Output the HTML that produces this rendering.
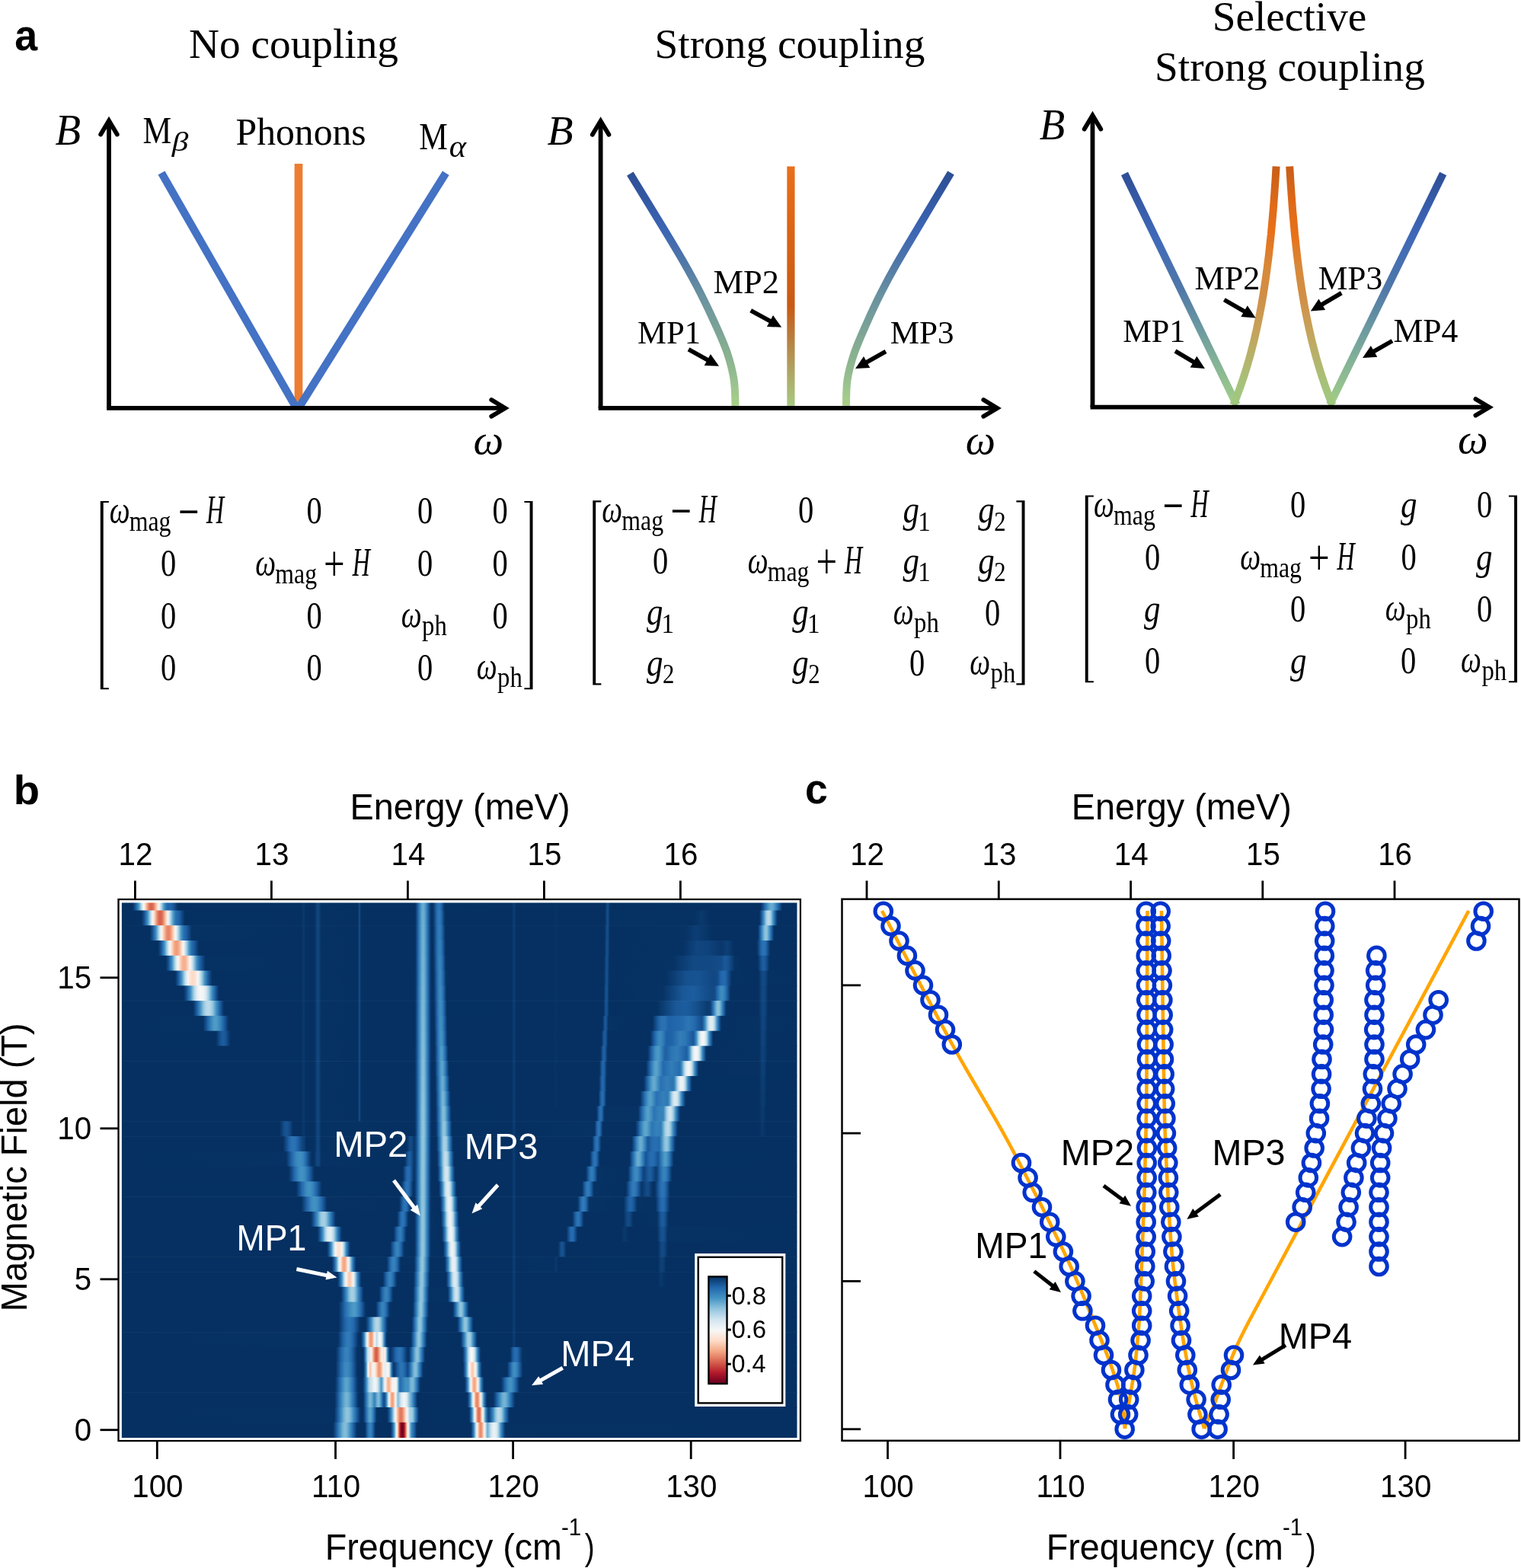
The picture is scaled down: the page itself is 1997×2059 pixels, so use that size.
<!DOCTYPE html>
<html><head><meta charset="utf-8"><title>Figure</title><style>html,body{margin:0;padding:0;background:#fff}svg{display:block}</style></head><body>
<svg xmlns="http://www.w3.org/2000/svg" width="1997" height="2059" viewBox="0 0 1997 2059">
<defs><linearGradient id="gA2L" gradientUnits="userSpaceOnUse" x1="0" y1="228" x2="0" y2="531"><stop offset="0.000" stop-color="#2D4F94"/><stop offset="0.238" stop-color="#3B64B4"/><stop offset="0.389" stop-color="#5078A8"/><stop offset="0.518" stop-color="#6890A0"/><stop offset="0.650" stop-color="#78A098"/><stop offset="0.779" stop-color="#88B090"/><stop offset="0.898" stop-color="#98C090"/><stop offset="1.000" stop-color="#A8D088"/></linearGradient><linearGradient id="gA2O" gradientUnits="userSpaceOnUse" x1="0" y1="219" x2="0" y2="531"><stop offset="0.000" stop-color="#E8701A"/><stop offset="0.260" stop-color="#DC6414"/><stop offset="0.587" stop-color="#C85A14"/><stop offset="0.728" stop-color="#B88040"/><stop offset="0.843" stop-color="#B0A060"/><stop offset="1.000" stop-color="#A8C880"/></linearGradient><linearGradient id="gA3V" gradientUnits="userSpaceOnUse" x1="0" y1="228" x2="0" y2="528"><stop offset="0.000" stop-color="#2F4F98"/><stop offset="0.273" stop-color="#3F68B8"/><stop offset="0.507" stop-color="#5078A8"/><stop offset="0.673" stop-color="#6A98A0"/><stop offset="0.807" stop-color="#80B098"/><stop offset="1.000" stop-color="#A0CC88"/></linearGradient><linearGradient id="gA3O" gradientUnits="userSpaceOnUse" x1="0" y1="218" x2="0" y2="528"><stop offset="0.000" stop-color="#C85E18"/><stop offset="0.168" stop-color="#E06A18"/><stop offset="0.284" stop-color="#E87018"/><stop offset="0.426" stop-color="#D88838"/><stop offset="0.568" stop-color="#D09048"/><stop offset="0.681" stop-color="#C8A058"/><stop offset="0.794" stop-color="#B8B068"/><stop offset="0.906" stop-color="#A8C078"/><stop offset="1.000" stop-color="#A0C880"/></linearGradient><linearGradient id="h0" gradientUnits="userSpaceOnUse" x1="159.7" y1="0" x2="1046.6" y2="0"><stop offset="0.0000" stop-color="#053061"/><stop offset="0.0158" stop-color="#053061"/><stop offset="0.0180" stop-color="#0d3e75"/><stop offset="0.0214" stop-color="#1f62a6"/><stop offset="0.0248" stop-color="#3e8dc0"/><stop offset="0.0259" stop-color="#569fca"/><stop offset="0.0282" stop-color="#98c8e0"/><stop offset="0.0304" stop-color="#d2e6f0"/><stop offset="0.0327" stop-color="#f7f7f6"/><stop offset="0.0350" stop-color="#fddcc9"/><stop offset="0.0372" stop-color="#f6af8f"/><stop offset="0.0395" stop-color="#e68569"/><stop offset="0.0417" stop-color="#da6853"/><stop offset="0.0440" stop-color="#d6604d"/><stop offset="0.0462" stop-color="#db6c57"/><stop offset="0.0485" stop-color="#e98c6f"/><stop offset="0.0496" stop-color="#f3a380"/><stop offset="0.0530" stop-color="#fce0d0"/><stop offset="0.0541" stop-color="#f9ede7"/><stop offset="0.0552" stop-color="#f2f5f6"/><stop offset="0.0575" stop-color="#cde3ef"/><stop offset="0.0598" stop-color="#96c7df"/><stop offset="0.0620" stop-color="#5ba2cb"/><stop offset="0.0631" stop-color="#4292c2"/><stop offset="0.0665" stop-color="#276fb0"/><stop offset="0.0677" stop-color="#2166ac"/><stop offset="0.0733" stop-color="#2064aa"/><stop offset="0.0778" stop-color="#16518e"/><stop offset="0.0834" stop-color="#053061"/><stop offset="0.2661" stop-color="#053061"/><stop offset="0.2695" stop-color="#0a396d"/><stop offset="0.2729" stop-color="#053061"/><stop offset="0.2853" stop-color="#053061"/><stop offset="0.2898" stop-color="#10467f"/><stop offset="0.2920" stop-color="#10447d"/><stop offset="0.2954" stop-color="#063263"/><stop offset="0.3495" stop-color="#053061"/><stop offset="0.3518" stop-color="#134a85"/><stop offset="0.3529" stop-color="#114780"/><stop offset="0.3540" stop-color="#083568"/><stop offset="0.3552" stop-color="#053061"/><stop offset="0.4341" stop-color="#053061"/><stop offset="0.4352" stop-color="#083669"/><stop offset="0.4386" stop-color="#1f62a6"/><stop offset="0.4420" stop-color="#3f8ec0"/><stop offset="0.4442" stop-color="#60a5cd"/><stop offset="0.4454" stop-color="#69abd0"/><stop offset="0.4465" stop-color="#6cadd1"/><stop offset="0.4476" stop-color="#66a9cf"/><stop offset="0.4499" stop-color="#4896c5"/><stop offset="0.4533" stop-color="#256caf"/><stop offset="0.4566" stop-color="#0d4077"/><stop offset="0.4578" stop-color="#083568"/><stop offset="0.4589" stop-color="#053061"/><stop offset="0.4600" stop-color="#053061"/><stop offset="0.4623" stop-color="#0d4077"/><stop offset="0.4657" stop-color="#2064a9"/><stop offset="0.4690" stop-color="#2d76b4"/><stop offset="0.4713" stop-color="#2a72b2"/><stop offset="0.4736" stop-color="#1f62a7"/><stop offset="0.4781" stop-color="#063263"/><stop offset="0.5773" stop-color="#053061"/><stop offset="0.5807" stop-color="#0c3e74"/><stop offset="0.5818" stop-color="#0b3b70"/><stop offset="0.5841" stop-color="#053061"/><stop offset="0.6404" stop-color="#053061"/><stop offset="0.6416" stop-color="#073467"/><stop offset="0.6461" stop-color="#053061"/><stop offset="0.7160" stop-color="#053061"/><stop offset="0.7182" stop-color="#114781"/><stop offset="0.7194" stop-color="#134b87"/><stop offset="0.7205" stop-color="#124984"/><stop offset="0.7227" stop-color="#073467"/><stop offset="0.7250" stop-color="#053061"/><stop offset="0.9460" stop-color="#053061"/><stop offset="0.9494" stop-color="#134a86"/><stop offset="0.9516" stop-color="#1f62a6"/><stop offset="0.9561" stop-color="#3e8dc0"/><stop offset="0.9595" stop-color="#60a5cd"/><stop offset="0.9618" stop-color="#6aacd0"/><stop offset="0.9640" stop-color="#65a8cf"/><stop offset="0.9674" stop-color="#4392c3"/><stop offset="0.9719" stop-color="#2369ae"/><stop offset="0.9776" stop-color="#073466"/><stop offset="0.9798" stop-color="#053061"/><stop offset="1.0001" stop-color="#053061"/></linearGradient><linearGradient id="h1" gradientUnits="userSpaceOnUse" x1="159.7" y1="0" x2="1046.6" y2="0"><stop offset="0.0000" stop-color="#053061"/><stop offset="0.0293" stop-color="#053061"/><stop offset="0.0327" stop-color="#124a85"/><stop offset="0.0350" stop-color="#1f63a8"/><stop offset="0.0383" stop-color="#408fc1"/><stop offset="0.0395" stop-color="#5aa1cb"/><stop offset="0.0417" stop-color="#9bcae1"/><stop offset="0.0440" stop-color="#d4e7f1"/><stop offset="0.0462" stop-color="#f7f5f4"/><stop offset="0.0485" stop-color="#fddac6"/><stop offset="0.0507" stop-color="#f5ad8d"/><stop offset="0.0530" stop-color="#e58368"/><stop offset="0.0552" stop-color="#d96753"/><stop offset="0.0575" stop-color="#d6604d"/><stop offset="0.0598" stop-color="#dc6d57"/><stop offset="0.0620" stop-color="#ea8e70"/><stop offset="0.0631" stop-color="#f4a481"/><stop offset="0.0665" stop-color="#fce1d1"/><stop offset="0.0677" stop-color="#f9eee7"/><stop offset="0.0688" stop-color="#f2f5f6"/><stop offset="0.0710" stop-color="#cee3ef"/><stop offset="0.0744" stop-color="#7cb7d6"/><stop offset="0.0767" stop-color="#4695c4"/><stop offset="0.0801" stop-color="#2971b1"/><stop offset="0.0846" stop-color="#2064aa"/><stop offset="0.0913" stop-color="#0c3e74"/><stop offset="0.0936" stop-color="#053162"/><stop offset="0.2661" stop-color="#053061"/><stop offset="0.2695" stop-color="#0a396d"/><stop offset="0.2729" stop-color="#053061"/><stop offset="0.2853" stop-color="#053061"/><stop offset="0.2898" stop-color="#10467f"/><stop offset="0.2920" stop-color="#10447d"/><stop offset="0.2954" stop-color="#063263"/><stop offset="0.3495" stop-color="#053061"/><stop offset="0.3518" stop-color="#134a85"/><stop offset="0.3529" stop-color="#114780"/><stop offset="0.3540" stop-color="#083568"/><stop offset="0.3552" stop-color="#053061"/><stop offset="0.4341" stop-color="#053061"/><stop offset="0.4352" stop-color="#08366a"/><stop offset="0.4386" stop-color="#1f63a7"/><stop offset="0.4420" stop-color="#408fc1"/><stop offset="0.4442" stop-color="#62a7ce"/><stop offset="0.4454" stop-color="#6cadd1"/><stop offset="0.4465" stop-color="#6eaed2"/><stop offset="0.4476" stop-color="#69abd0"/><stop offset="0.4488" stop-color="#5ca3cc"/><stop offset="0.4510" stop-color="#3c8abe"/><stop offset="0.4533" stop-color="#266caf"/><stop offset="0.4566" stop-color="#0d4077"/><stop offset="0.4578" stop-color="#083568"/><stop offset="0.4589" stop-color="#053061"/><stop offset="0.4612" stop-color="#073467"/><stop offset="0.4657" stop-color="#1f63a7"/><stop offset="0.4679" stop-color="#2c74b3"/><stop offset="0.4702" stop-color="#307ab6"/><stop offset="0.4724" stop-color="#2971b2"/><stop offset="0.4736" stop-color="#2368ad"/><stop offset="0.4781" stop-color="#083669"/><stop offset="0.4792" stop-color="#053061"/><stop offset="0.5773" stop-color="#053061"/><stop offset="0.5807" stop-color="#0c3e74"/><stop offset="0.5818" stop-color="#0b3b70"/><stop offset="0.5841" stop-color="#053061"/><stop offset="0.6404" stop-color="#053061"/><stop offset="0.6416" stop-color="#073467"/><stop offset="0.6461" stop-color="#053061"/><stop offset="0.7148" stop-color="#053061"/><stop offset="0.7160" stop-color="#073467"/><stop offset="0.7182" stop-color="#124a85"/><stop offset="0.7194" stop-color="#144d89"/><stop offset="0.7205" stop-color="#124883"/><stop offset="0.7227" stop-color="#063263"/><stop offset="0.8468" stop-color="#063163"/><stop offset="0.8580" stop-color="#0a396d"/><stop offset="0.8716" stop-color="#053061"/><stop offset="0.9437" stop-color="#053061"/><stop offset="0.9449" stop-color="#09386c"/><stop offset="0.9482" stop-color="#2368ad"/><stop offset="0.9505" stop-color="#3f8dc0"/><stop offset="0.9539" stop-color="#97c7df"/><stop offset="0.9561" stop-color="#b6d7e8"/><stop offset="0.9573" stop-color="#bcdaea"/><stop offset="0.9584" stop-color="#bad9e9"/><stop offset="0.9595" stop-color="#b2d5e7"/><stop offset="0.9606" stop-color="#a2cde3"/><stop offset="0.9618" stop-color="#8dc2dc"/><stop offset="0.9640" stop-color="#4d99c6"/><stop offset="0.9652" stop-color="#3985bc"/><stop offset="0.9674" stop-color="#1e61a5"/><stop offset="0.9697" stop-color="#0d4077"/><stop offset="0.9708" stop-color="#073365"/><stop offset="0.9742" stop-color="#053061"/><stop offset="1.0001" stop-color="#053061"/></linearGradient><linearGradient id="h2" gradientUnits="userSpaceOnUse" x1="159.7" y1="0" x2="1046.6" y2="0"><stop offset="0.0000" stop-color="#053061"/><stop offset="0.0417" stop-color="#053061"/><stop offset="0.0451" stop-color="#134b86"/><stop offset="0.0474" stop-color="#2064a9"/><stop offset="0.0507" stop-color="#408ec1"/><stop offset="0.0519" stop-color="#59a1ca"/><stop offset="0.0541" stop-color="#98c8e0"/><stop offset="0.0564" stop-color="#d1e5f0"/><stop offset="0.0586" stop-color="#f4f6f6"/><stop offset="0.0609" stop-color="#fce1d1"/><stop offset="0.0643" stop-color="#f5ac8b"/><stop offset="0.0665" stop-color="#eb8f71"/><stop offset="0.0688" stop-color="#e58267"/><stop offset="0.0710" stop-color="#e8896d"/><stop offset="0.0733" stop-color="#f3a280"/><stop offset="0.0755" stop-color="#f9c3a8"/><stop offset="0.0767" stop-color="#fcd6c1"/><stop offset="0.0789" stop-color="#f9efea"/><stop offset="0.0801" stop-color="#f1f4f6"/><stop offset="0.0823" stop-color="#d0e5f0"/><stop offset="0.0857" stop-color="#82bbd8"/><stop offset="0.0879" stop-color="#4c99c6"/><stop offset="0.0891" stop-color="#3d8bbf"/><stop offset="0.0925" stop-color="#256caf"/><stop offset="0.0947" stop-color="#2166ac"/><stop offset="0.1015" stop-color="#0d3f76"/><stop offset="0.1037" stop-color="#063264"/><stop offset="0.2661" stop-color="#053061"/><stop offset="0.2695" stop-color="#0a396d"/><stop offset="0.2729" stop-color="#053061"/><stop offset="0.2853" stop-color="#053061"/><stop offset="0.2898" stop-color="#10467f"/><stop offset="0.2920" stop-color="#10447d"/><stop offset="0.2954" stop-color="#063263"/><stop offset="0.3495" stop-color="#053061"/><stop offset="0.3518" stop-color="#134a85"/><stop offset="0.3529" stop-color="#114780"/><stop offset="0.3540" stop-color="#083568"/><stop offset="0.3552" stop-color="#053061"/><stop offset="0.4341" stop-color="#053061"/><stop offset="0.4352" stop-color="#08376a"/><stop offset="0.4386" stop-color="#2063a8"/><stop offset="0.4420" stop-color="#4190c2"/><stop offset="0.4442" stop-color="#65a8ce"/><stop offset="0.4454" stop-color="#6eaed2"/><stop offset="0.4465" stop-color="#71b0d3"/><stop offset="0.4476" stop-color="#6badd1"/><stop offset="0.4488" stop-color="#5fa5cc"/><stop offset="0.4510" stop-color="#3d8bbf"/><stop offset="0.4533" stop-color="#266db0"/><stop offset="0.4566" stop-color="#0d4077"/><stop offset="0.4578" stop-color="#083568"/><stop offset="0.4589" stop-color="#053061"/><stop offset="0.4612" stop-color="#063264"/><stop offset="0.4645" stop-color="#185493"/><stop offset="0.4657" stop-color="#1f61a6"/><stop offset="0.4679" stop-color="#2c75b4"/><stop offset="0.4702" stop-color="#327db8"/><stop offset="0.4724" stop-color="#2d76b4"/><stop offset="0.4747" stop-color="#2063a8"/><stop offset="0.4792" stop-color="#053061"/><stop offset="0.5773" stop-color="#053061"/><stop offset="0.5807" stop-color="#0c3e74"/><stop offset="0.5818" stop-color="#0b3b70"/><stop offset="0.5841" stop-color="#053061"/><stop offset="0.6404" stop-color="#053061"/><stop offset="0.6416" stop-color="#073467"/><stop offset="0.6461" stop-color="#053061"/><stop offset="0.7148" stop-color="#053061"/><stop offset="0.7182" stop-color="#144c89"/><stop offset="0.7194" stop-color="#144d8a"/><stop offset="0.7205" stop-color="#114781"/><stop offset="0.7227" stop-color="#053061"/><stop offset="0.8332" stop-color="#063264"/><stop offset="0.8502" stop-color="#0c3d74"/><stop offset="0.8659" stop-color="#083669"/><stop offset="0.8750" stop-color="#053061"/><stop offset="0.9415" stop-color="#053061"/><stop offset="0.9437" stop-color="#124983"/><stop offset="0.9460" stop-color="#256baf"/><stop offset="0.9482" stop-color="#3f8ec0"/><stop offset="0.9505" stop-color="#6fafd2"/><stop offset="0.9516" stop-color="#82bbd9"/><stop offset="0.9528" stop-color="#8ec3dd"/><stop offset="0.9539" stop-color="#92c5de"/><stop offset="0.9550" stop-color="#8dc2dc"/><stop offset="0.9561" stop-color="#7fb9d8"/><stop offset="0.9595" stop-color="#3c8abe"/><stop offset="0.9618" stop-color="#2368ad"/><stop offset="0.9652" stop-color="#09386c"/><stop offset="0.9663" stop-color="#053061"/><stop offset="1.0001" stop-color="#053061"/></linearGradient><linearGradient id="h3" gradientUnits="userSpaceOnUse" x1="159.7" y1="0" x2="1046.6" y2="0"><stop offset="0.0000" stop-color="#053061"/><stop offset="0.0541" stop-color="#053162"/><stop offset="0.0575" stop-color="#134b87"/><stop offset="0.0598" stop-color="#2065aa"/><stop offset="0.0631" stop-color="#408fc1"/><stop offset="0.0643" stop-color="#58a0ca"/><stop offset="0.0665" stop-color="#97c7df"/><stop offset="0.0688" stop-color="#cde3ef"/><stop offset="0.0710" stop-color="#f0f4f6"/><stop offset="0.0722" stop-color="#f8f0eb"/><stop offset="0.0744" stop-color="#fddac6"/><stop offset="0.0767" stop-color="#f7b99b"/><stop offset="0.0789" stop-color="#f3a380"/><stop offset="0.0812" stop-color="#ef9979"/><stop offset="0.0834" stop-color="#f3a280"/><stop offset="0.0857" stop-color="#f7b799"/><stop offset="0.0891" stop-color="#fbe3d4"/><stop offset="0.0913" stop-color="#f5f6f7"/><stop offset="0.0936" stop-color="#d6e7f1"/><stop offset="0.0970" stop-color="#8ec3dd"/><stop offset="0.0992" stop-color="#58a0ca"/><stop offset="0.1003" stop-color="#4191c2"/><stop offset="0.1037" stop-color="#276db0"/><stop offset="0.1071" stop-color="#1c5da0"/><stop offset="0.1139" stop-color="#073466"/><stop offset="0.1161" stop-color="#053061"/><stop offset="0.2661" stop-color="#053061"/><stop offset="0.2695" stop-color="#0a396d"/><stop offset="0.2729" stop-color="#053061"/><stop offset="0.2853" stop-color="#053061"/><stop offset="0.2898" stop-color="#10467f"/><stop offset="0.2920" stop-color="#10447d"/><stop offset="0.2954" stop-color="#063263"/><stop offset="0.3495" stop-color="#053061"/><stop offset="0.3518" stop-color="#134a85"/><stop offset="0.3529" stop-color="#114780"/><stop offset="0.3540" stop-color="#083568"/><stop offset="0.3552" stop-color="#053061"/><stop offset="0.4341" stop-color="#053061"/><stop offset="0.4352" stop-color="#09376b"/><stop offset="0.4386" stop-color="#2064aa"/><stop offset="0.4420" stop-color="#4292c2"/><stop offset="0.4442" stop-color="#67aacf"/><stop offset="0.4454" stop-color="#71b0d3"/><stop offset="0.4465" stop-color="#73b2d3"/><stop offset="0.4476" stop-color="#6eaed2"/><stop offset="0.4488" stop-color="#61a6cd"/><stop offset="0.4510" stop-color="#3e8cbf"/><stop offset="0.4533" stop-color="#276eb0"/><stop offset="0.4544" stop-color="#1d5ea1"/><stop offset="0.4566" stop-color="#0d4078"/><stop offset="0.4578" stop-color="#083568"/><stop offset="0.4589" stop-color="#053061"/><stop offset="0.4612" stop-color="#053061"/><stop offset="0.4645" stop-color="#175290"/><stop offset="0.4657" stop-color="#1e60a3"/><stop offset="0.4668" stop-color="#256caf"/><stop offset="0.4690" stop-color="#327cb7"/><stop offset="0.4713" stop-color="#347fb9"/><stop offset="0.4736" stop-color="#2b74b3"/><stop offset="0.4747" stop-color="#2469ae"/><stop offset="0.4792" stop-color="#073467"/><stop offset="0.4803" stop-color="#053061"/><stop offset="0.5773" stop-color="#053061"/><stop offset="0.5807" stop-color="#0c3e74"/><stop offset="0.5818" stop-color="#0b3b70"/><stop offset="0.5841" stop-color="#053061"/><stop offset="0.6404" stop-color="#053061"/><stop offset="0.6416" stop-color="#073467"/><stop offset="0.6461" stop-color="#053061"/><stop offset="0.7148" stop-color="#053061"/><stop offset="0.7171" stop-color="#124883"/><stop offset="0.7182" stop-color="#154f8c"/><stop offset="0.7194" stop-color="#144e8a"/><stop offset="0.7205" stop-color="#10467f"/><stop offset="0.7227" stop-color="#053061"/><stop offset="0.8299" stop-color="#063264"/><stop offset="0.8513" stop-color="#10457f"/><stop offset="0.8671" stop-color="#0f437c"/><stop offset="0.8885" stop-color="#09376b"/><stop offset="0.8964" stop-color="#0d4077"/><stop offset="0.9031" stop-color="#083669"/><stop offset="0.9065" stop-color="#053061"/><stop offset="0.9404" stop-color="#053061"/><stop offset="0.9437" stop-color="#144d89"/><stop offset="0.9460" stop-color="#1f62a7"/><stop offset="0.9482" stop-color="#2970b1"/><stop offset="0.9516" stop-color="#2b73b3"/><stop offset="0.9539" stop-color="#2369ae"/><stop offset="0.9561" stop-color="#185595"/><stop offset="0.9595" stop-color="#083669"/><stop offset="0.9606" stop-color="#053061"/><stop offset="1.0001" stop-color="#053061"/></linearGradient><linearGradient id="h4" gradientUnits="userSpaceOnUse" x1="159.7" y1="0" x2="1046.6" y2="0"><stop offset="0.0000" stop-color="#053061"/><stop offset="0.0654" stop-color="#053162"/><stop offset="0.0688" stop-color="#134b87"/><stop offset="0.0710" stop-color="#2064a9"/><stop offset="0.0744" stop-color="#3e8dc0"/><stop offset="0.0755" stop-color="#549ec9"/><stop offset="0.0778" stop-color="#92c5de"/><stop offset="0.0801" stop-color="#c6e0ed"/><stop offset="0.0823" stop-color="#ebf1f5"/><stop offset="0.0834" stop-color="#f7f5f3"/><stop offset="0.0868" stop-color="#fcd5bf"/><stop offset="0.0891" stop-color="#f8bc9f"/><stop offset="0.0913" stop-color="#f6af8e"/><stop offset="0.0936" stop-color="#f6b090"/><stop offset="0.0958" stop-color="#f8bea2"/><stop offset="0.0992" stop-color="#fbe2d3"/><stop offset="0.1015" stop-color="#f7f6f5"/><stop offset="0.1049" stop-color="#cae1ee"/><stop offset="0.1082" stop-color="#80bad8"/><stop offset="0.1105" stop-color="#4c98c6"/><stop offset="0.1128" stop-color="#337eb8"/><stop offset="0.1150" stop-color="#2268ad"/><stop offset="0.1240" stop-color="#063163"/><stop offset="0.2661" stop-color="#053061"/><stop offset="0.2695" stop-color="#0a396d"/><stop offset="0.2729" stop-color="#053061"/><stop offset="0.2853" stop-color="#053061"/><stop offset="0.2898" stop-color="#10467f"/><stop offset="0.2920" stop-color="#10447d"/><stop offset="0.2954" stop-color="#063263"/><stop offset="0.3495" stop-color="#053061"/><stop offset="0.3518" stop-color="#134a85"/><stop offset="0.3529" stop-color="#114780"/><stop offset="0.3540" stop-color="#083568"/><stop offset="0.3552" stop-color="#053061"/><stop offset="0.4341" stop-color="#053061"/><stop offset="0.4352" stop-color="#09376b"/><stop offset="0.4386" stop-color="#2165ab"/><stop offset="0.4420" stop-color="#4393c3"/><stop offset="0.4442" stop-color="#69abd0"/><stop offset="0.4454" stop-color="#73b2d4"/><stop offset="0.4465" stop-color="#76b3d4"/><stop offset="0.4476" stop-color="#70b0d2"/><stop offset="0.4488" stop-color="#63a8ce"/><stop offset="0.4510" stop-color="#3f8dc0"/><stop offset="0.4533" stop-color="#286fb0"/><stop offset="0.4544" stop-color="#1d5fa2"/><stop offset="0.4566" stop-color="#0e4178"/><stop offset="0.4578" stop-color="#083568"/><stop offset="0.4589" stop-color="#053061"/><stop offset="0.4612" stop-color="#053061"/><stop offset="0.4623" stop-color="#09376a"/><stop offset="0.4668" stop-color="#256bae"/><stop offset="0.4690" stop-color="#337db8"/><stop offset="0.4713" stop-color="#3783bb"/><stop offset="0.4736" stop-color="#2f79b6"/><stop offset="0.4758" stop-color="#2063a8"/><stop offset="0.4792" stop-color="#0a396e"/><stop offset="0.4803" stop-color="#053061"/><stop offset="0.5773" stop-color="#053061"/><stop offset="0.5807" stop-color="#0c3e74"/><stop offset="0.5818" stop-color="#0b3b70"/><stop offset="0.5841" stop-color="#053061"/><stop offset="0.6404" stop-color="#053061"/><stop offset="0.6416" stop-color="#073467"/><stop offset="0.6461" stop-color="#053061"/><stop offset="0.7137" stop-color="#053061"/><stop offset="0.7148" stop-color="#073466"/><stop offset="0.7171" stop-color="#134c88"/><stop offset="0.7182" stop-color="#16508e"/><stop offset="0.7194" stop-color="#144d8a"/><stop offset="0.7216" stop-color="#08366a"/><stop offset="0.7227" stop-color="#053061"/><stop offset="0.8152" stop-color="#063264"/><stop offset="0.8468" stop-color="#124984"/><stop offset="0.8704" stop-color="#124983"/><stop offset="0.8874" stop-color="#144c88"/><stop offset="0.8930" stop-color="#1a5899"/><stop offset="0.8975" stop-color="#185494"/><stop offset="0.9077" stop-color="#063365"/><stop offset="0.9178" stop-color="#053061"/><stop offset="0.9415" stop-color="#053061"/><stop offset="0.9471" stop-color="#185595"/><stop offset="0.9494" stop-color="#1d5da0"/><stop offset="0.9516" stop-color="#1c5d9f"/><stop offset="0.9550" stop-color="#144c88"/><stop offset="0.9584" stop-color="#073467"/><stop offset="0.9606" stop-color="#053061"/><stop offset="1.0001" stop-color="#053061"/></linearGradient><linearGradient id="h5" gradientUnits="userSpaceOnUse" x1="159.7" y1="0" x2="1046.6" y2="0"><stop offset="0.0000" stop-color="#053061"/><stop offset="0.0789" stop-color="#053061"/><stop offset="0.0823" stop-color="#124984"/><stop offset="0.0846" stop-color="#1e61a5"/><stop offset="0.0879" stop-color="#3a87bd"/><stop offset="0.0891" stop-color="#4996c5"/><stop offset="0.0925" stop-color="#9bcae1"/><stop offset="0.0947" stop-color="#cbe2ee"/><stop offset="0.0981" stop-color="#f5f6f7"/><stop offset="0.1026" stop-color="#fcdfce"/><stop offset="0.1060" stop-color="#fddac6"/><stop offset="0.1094" stop-color="#fbe4d6"/><stop offset="0.1128" stop-color="#f6f6f7"/><stop offset="0.1161" stop-color="#d1e5f0"/><stop offset="0.1195" stop-color="#90c4dd"/><stop offset="0.1229" stop-color="#4494c3"/><stop offset="0.1274" stop-color="#1f63a8"/><stop offset="0.1297" stop-color="#154e8b"/><stop offset="0.1342" stop-color="#053162"/><stop offset="0.2661" stop-color="#053061"/><stop offset="0.2695" stop-color="#0a396d"/><stop offset="0.2729" stop-color="#053061"/><stop offset="0.2853" stop-color="#053061"/><stop offset="0.2898" stop-color="#10467f"/><stop offset="0.2920" stop-color="#10447d"/><stop offset="0.2954" stop-color="#063263"/><stop offset="0.3495" stop-color="#053061"/><stop offset="0.3518" stop-color="#134a85"/><stop offset="0.3529" stop-color="#114780"/><stop offset="0.3540" stop-color="#083568"/><stop offset="0.3552" stop-color="#053061"/><stop offset="0.4341" stop-color="#053061"/><stop offset="0.4352" stop-color="#09386c"/><stop offset="0.4375" stop-color="#185594"/><stop offset="0.4386" stop-color="#2166ac"/><stop offset="0.4420" stop-color="#4494c4"/><stop offset="0.4442" stop-color="#6cadd1"/><stop offset="0.4454" stop-color="#76b3d4"/><stop offset="0.4465" stop-color="#78b5d5"/><stop offset="0.4476" stop-color="#73b1d3"/><stop offset="0.4488" stop-color="#66a9cf"/><stop offset="0.4510" stop-color="#3f8ec1"/><stop offset="0.4533" stop-color="#286fb1"/><stop offset="0.4544" stop-color="#1e5fa3"/><stop offset="0.4566" stop-color="#0e4178"/><stop offset="0.4578" stop-color="#083569"/><stop offset="0.4589" stop-color="#053061"/><stop offset="0.4612" stop-color="#053061"/><stop offset="0.4623" stop-color="#073467"/><stop offset="0.4668" stop-color="#2469ae"/><stop offset="0.4702" stop-color="#3884bb"/><stop offset="0.4724" stop-color="#3884bc"/><stop offset="0.4758" stop-color="#246aae"/><stop offset="0.4803" stop-color="#063365"/><stop offset="0.4871" stop-color="#053061"/><stop offset="0.5773" stop-color="#053061"/><stop offset="0.5807" stop-color="#0c3e74"/><stop offset="0.5818" stop-color="#0b3b70"/><stop offset="0.5841" stop-color="#053061"/><stop offset="0.6404" stop-color="#053061"/><stop offset="0.6416" stop-color="#073467"/><stop offset="0.6461" stop-color="#053061"/><stop offset="0.7137" stop-color="#053061"/><stop offset="0.7148" stop-color="#09386c"/><stop offset="0.7171" stop-color="#154f8c"/><stop offset="0.7182" stop-color="#165290"/><stop offset="0.7194" stop-color="#144c88"/><stop offset="0.7216" stop-color="#073366"/><stop offset="0.7239" stop-color="#053061"/><stop offset="0.8051" stop-color="#063163"/><stop offset="0.8355" stop-color="#16508d"/><stop offset="0.8535" stop-color="#175392"/><stop offset="0.8772" stop-color="#114782"/><stop offset="0.8817" stop-color="#134a86"/><stop offset="0.8874" stop-color="#2166ac"/><stop offset="0.8919" stop-color="#256baf"/><stop offset="0.8941" stop-color="#2166ac"/><stop offset="0.9009" stop-color="#0d3f75"/><stop offset="0.9031" stop-color="#063263"/><stop offset="0.9426" stop-color="#053061"/><stop offset="0.9482" stop-color="#124883"/><stop offset="0.9516" stop-color="#134a85"/><stop offset="0.9561" stop-color="#09386c"/><stop offset="0.9573" stop-color="#063163"/><stop offset="1.0001" stop-color="#053061"/></linearGradient><linearGradient id="h6" gradientUnits="userSpaceOnUse" x1="159.7" y1="0" x2="1046.6" y2="0"><stop offset="0.0000" stop-color="#053061"/><stop offset="0.0913" stop-color="#053061"/><stop offset="0.0936" stop-color="#0b3c71"/><stop offset="0.0970" stop-color="#1a599a"/><stop offset="0.0981" stop-color="#2165ab"/><stop offset="0.1015" stop-color="#3c89be"/><stop offset="0.1026" stop-color="#4997c5"/><stop offset="0.1060" stop-color="#94c6df"/><stop offset="0.1094" stop-color="#cde3ef"/><stop offset="0.1128" stop-color="#eaf1f5"/><stop offset="0.1161" stop-color="#f7f7f6"/><stop offset="0.1206" stop-color="#f2f5f6"/><stop offset="0.1252" stop-color="#d5e7f1"/><stop offset="0.1285" stop-color="#a4cee3"/><stop offset="0.1308" stop-color="#79b5d6"/><stop offset="0.1330" stop-color="#4b98c6"/><stop offset="0.1353" stop-color="#347fb9"/><stop offset="0.1376" stop-color="#2368ad"/><stop offset="0.1421" stop-color="#0c3e75"/><stop offset="0.1443" stop-color="#053061"/><stop offset="0.2661" stop-color="#053061"/><stop offset="0.2695" stop-color="#0a396d"/><stop offset="0.2729" stop-color="#053061"/><stop offset="0.2853" stop-color="#053061"/><stop offset="0.2898" stop-color="#10467f"/><stop offset="0.2920" stop-color="#10447d"/><stop offset="0.2954" stop-color="#063263"/><stop offset="0.3495" stop-color="#053061"/><stop offset="0.3518" stop-color="#134a85"/><stop offset="0.3529" stop-color="#114780"/><stop offset="0.3540" stop-color="#083568"/><stop offset="0.3552" stop-color="#053061"/><stop offset="0.4341" stop-color="#053061"/><stop offset="0.4352" stop-color="#09386c"/><stop offset="0.4386" stop-color="#2267ac"/><stop offset="0.4420" stop-color="#4795c4"/><stop offset="0.4442" stop-color="#6eaed2"/><stop offset="0.4454" stop-color="#78b5d5"/><stop offset="0.4465" stop-color="#7bb6d6"/><stop offset="0.4476" stop-color="#75b3d4"/><stop offset="0.4488" stop-color="#68abd0"/><stop offset="0.4510" stop-color="#408fc1"/><stop offset="0.4533" stop-color="#2970b1"/><stop offset="0.4544" stop-color="#1e60a4"/><stop offset="0.4566" stop-color="#0e4179"/><stop offset="0.4578" stop-color="#083569"/><stop offset="0.4589" stop-color="#053061"/><stop offset="0.4623" stop-color="#063264"/><stop offset="0.4657" stop-color="#1a5999"/><stop offset="0.4668" stop-color="#2268ad"/><stop offset="0.4702" stop-color="#3986bc"/><stop offset="0.4724" stop-color="#3b89be"/><stop offset="0.4747" stop-color="#317bb7"/><stop offset="0.4769" stop-color="#1f63a8"/><stop offset="0.4803" stop-color="#09376b"/><stop offset="0.4815" stop-color="#053061"/><stop offset="0.5773" stop-color="#053061"/><stop offset="0.5807" stop-color="#0c3e74"/><stop offset="0.5818" stop-color="#0b3b70"/><stop offset="0.5841" stop-color="#053061"/><stop offset="0.6404" stop-color="#053061"/><stop offset="0.6416" stop-color="#073467"/><stop offset="0.6461" stop-color="#053061"/><stop offset="0.7137" stop-color="#053061"/><stop offset="0.7160" stop-color="#124984"/><stop offset="0.7171" stop-color="#165290"/><stop offset="0.7182" stop-color="#175290"/><stop offset="0.7194" stop-color="#134b86"/><stop offset="0.7216" stop-color="#053061"/><stop offset="0.8005" stop-color="#063264"/><stop offset="0.8310" stop-color="#1a5898"/><stop offset="0.8468" stop-color="#1c5d9f"/><stop offset="0.8648" stop-color="#154f8d"/><stop offset="0.8750" stop-color="#124983"/><stop offset="0.8783" stop-color="#134c88"/><stop offset="0.8817" stop-color="#2368ad"/><stop offset="0.8862" stop-color="#3a88bd"/><stop offset="0.8896" stop-color="#3e8cbf"/><stop offset="0.8930" stop-color="#317cb7"/><stop offset="0.8953" stop-color="#2469ae"/><stop offset="0.9009" stop-color="#073467"/><stop offset="0.9031" stop-color="#053061"/><stop offset="0.9426" stop-color="#053061"/><stop offset="0.9482" stop-color="#114781"/><stop offset="0.9516" stop-color="#114882"/><stop offset="0.9561" stop-color="#083568"/><stop offset="0.9573" stop-color="#053061"/><stop offset="1.0001" stop-color="#053061"/></linearGradient><linearGradient id="h7" gradientUnits="userSpaceOnUse" x1="159.7" y1="0" x2="1046.6" y2="0"><stop offset="0.0000" stop-color="#053061"/><stop offset="0.1049" stop-color="#053061"/><stop offset="0.1060" stop-color="#063365"/><stop offset="0.1105" stop-color="#195696"/><stop offset="0.1116" stop-color="#1f61a6"/><stop offset="0.1161" stop-color="#3f8ec0"/><stop offset="0.1218" stop-color="#98c8e0"/><stop offset="0.1252" stop-color="#b6d7e8"/><stop offset="0.1285" stop-color="#bddbea"/><stop offset="0.1319" stop-color="#afd4e6"/><stop offset="0.1353" stop-color="#8ec2dd"/><stop offset="0.1398" stop-color="#4695c4"/><stop offset="0.1443" stop-color="#256baf"/><stop offset="0.1466" stop-color="#195696"/><stop offset="0.1511" stop-color="#073366"/><stop offset="0.1533" stop-color="#053061"/><stop offset="0.2661" stop-color="#053061"/><stop offset="0.2695" stop-color="#0a396d"/><stop offset="0.2729" stop-color="#053061"/><stop offset="0.2853" stop-color="#053061"/><stop offset="0.2898" stop-color="#10467f"/><stop offset="0.2920" stop-color="#10447d"/><stop offset="0.2954" stop-color="#063263"/><stop offset="0.3495" stop-color="#053061"/><stop offset="0.3518" stop-color="#134a85"/><stop offset="0.3529" stop-color="#114780"/><stop offset="0.3540" stop-color="#083568"/><stop offset="0.3552" stop-color="#053061"/><stop offset="0.4341" stop-color="#053061"/><stop offset="0.4352" stop-color="#09396d"/><stop offset="0.4386" stop-color="#2267ad"/><stop offset="0.4420" stop-color="#4997c5"/><stop offset="0.4442" stop-color="#71b0d3"/><stop offset="0.4454" stop-color="#7bb6d6"/><stop offset="0.4465" stop-color="#7db8d7"/><stop offset="0.4476" stop-color="#78b4d5"/><stop offset="0.4488" stop-color="#6aacd0"/><stop offset="0.4510" stop-color="#4190c2"/><stop offset="0.4533" stop-color="#2971b2"/><stop offset="0.4544" stop-color="#1e61a5"/><stop offset="0.4566" stop-color="#0e4179"/><stop offset="0.4578" stop-color="#083669"/><stop offset="0.4589" stop-color="#053061"/><stop offset="0.4623" stop-color="#053061"/><stop offset="0.4645" stop-color="#114781"/><stop offset="0.4668" stop-color="#2165ab"/><stop offset="0.4702" stop-color="#3a87bd"/><stop offset="0.4724" stop-color="#3e8cc0"/><stop offset="0.4747" stop-color="#3681ba"/><stop offset="0.4769" stop-color="#246aae"/><stop offset="0.4815" stop-color="#053062"/><stop offset="0.5773" stop-color="#053061"/><stop offset="0.5807" stop-color="#0c3e74"/><stop offset="0.5818" stop-color="#0b3b70"/><stop offset="0.5841" stop-color="#053061"/><stop offset="0.6404" stop-color="#053061"/><stop offset="0.6416" stop-color="#073467"/><stop offset="0.6461" stop-color="#053061"/><stop offset="0.7126" stop-color="#053061"/><stop offset="0.7137" stop-color="#063365"/><stop offset="0.7160" stop-color="#144d8a"/><stop offset="0.7171" stop-color="#175493"/><stop offset="0.7182" stop-color="#175290"/><stop offset="0.7194" stop-color="#124984"/><stop offset="0.7216" stop-color="#053061"/><stop offset="0.7926" stop-color="#053162"/><stop offset="0.8208" stop-color="#1a5898"/><stop offset="0.8355" stop-color="#1c5d9f"/><stop offset="0.8513" stop-color="#15508d"/><stop offset="0.8671" stop-color="#0b3b70"/><stop offset="0.8716" stop-color="#0d3f76"/><stop offset="0.8750" stop-color="#246aae"/><stop offset="0.8772" stop-color="#3c89be"/><stop offset="0.8783" stop-color="#4e9ac7"/><stop offset="0.8806" stop-color="#7bb6d6"/><stop offset="0.8817" stop-color="#88bfdb"/><stop offset="0.8829" stop-color="#8ec3dd"/><stop offset="0.8840" stop-color="#8cc1dc"/><stop offset="0.8851" stop-color="#82bbd8"/><stop offset="0.8874" stop-color="#58a1ca"/><stop offset="0.8885" stop-color="#4090c1"/><stop offset="0.8907" stop-color="#276eb0"/><stop offset="0.8919" stop-color="#1d5da0"/><stop offset="0.8941" stop-color="#0c3e75"/><stop offset="0.8953" stop-color="#063264"/><stop offset="0.9043" stop-color="#053061"/><stop offset="0.9426" stop-color="#053061"/><stop offset="0.9449" stop-color="#09386c"/><stop offset="0.9482" stop-color="#10457f"/><stop offset="0.9516" stop-color="#10467f"/><stop offset="0.9573" stop-color="#053061"/><stop offset="1.0001" stop-color="#053061"/></linearGradient><linearGradient id="h8" gradientUnits="userSpaceOnUse" x1="159.7" y1="0" x2="1046.6" y2="0"><stop offset="0.0000" stop-color="#053061"/><stop offset="0.1206" stop-color="#063263"/><stop offset="0.1263" stop-color="#1b5a9b"/><stop offset="0.1274" stop-color="#2064a9"/><stop offset="0.1342" stop-color="#4190c1"/><stop offset="0.1376" stop-color="#509bc7"/><stop offset="0.1409" stop-color="#4d99c6"/><stop offset="0.1466" stop-color="#3480b9"/><stop offset="0.1511" stop-color="#1f62a7"/><stop offset="0.1579" stop-color="#073466"/><stop offset="0.1601" stop-color="#053061"/><stop offset="0.2661" stop-color="#053061"/><stop offset="0.2695" stop-color="#0a396d"/><stop offset="0.2729" stop-color="#053061"/><stop offset="0.2853" stop-color="#053061"/><stop offset="0.2898" stop-color="#10467f"/><stop offset="0.2920" stop-color="#10447d"/><stop offset="0.2954" stop-color="#063263"/><stop offset="0.3495" stop-color="#053061"/><stop offset="0.3518" stop-color="#134a85"/><stop offset="0.3529" stop-color="#114780"/><stop offset="0.3540" stop-color="#083568"/><stop offset="0.3552" stop-color="#053061"/><stop offset="0.4341" stop-color="#053061"/><stop offset="0.4352" stop-color="#0a396d"/><stop offset="0.4386" stop-color="#2368ad"/><stop offset="0.4420" stop-color="#4b98c6"/><stop offset="0.4442" stop-color="#73b1d3"/><stop offset="0.4454" stop-color="#7eb8d7"/><stop offset="0.4465" stop-color="#80bad8"/><stop offset="0.4476" stop-color="#7ab6d6"/><stop offset="0.4488" stop-color="#6dadd1"/><stop offset="0.4510" stop-color="#4291c2"/><stop offset="0.4544" stop-color="#1f61a6"/><stop offset="0.4566" stop-color="#0e427a"/><stop offset="0.4578" stop-color="#083669"/><stop offset="0.4589" stop-color="#053061"/><stop offset="0.4623" stop-color="#053061"/><stop offset="0.4634" stop-color="#09376b"/><stop offset="0.4668" stop-color="#1f63a7"/><stop offset="0.4702" stop-color="#3a87bd"/><stop offset="0.4724" stop-color="#4190c1"/><stop offset="0.4747" stop-color="#3a87bd"/><stop offset="0.4769" stop-color="#2970b1"/><stop offset="0.4781" stop-color="#1f62a6"/><stop offset="0.4815" stop-color="#083568"/><stop offset="0.4826" stop-color="#053061"/><stop offset="0.5773" stop-color="#053061"/><stop offset="0.5807" stop-color="#0c3e74"/><stop offset="0.5818" stop-color="#0b3b70"/><stop offset="0.5841" stop-color="#053061"/><stop offset="0.6404" stop-color="#053061"/><stop offset="0.6416" stop-color="#073467"/><stop offset="0.6461" stop-color="#053061"/><stop offset="0.7115" stop-color="#053061"/><stop offset="0.7126" stop-color="#09386c"/><stop offset="0.7148" stop-color="#175290"/><stop offset="0.7160" stop-color="#1a5899"/><stop offset="0.7171" stop-color="#195797"/><stop offset="0.7182" stop-color="#144e8a"/><stop offset="0.7205" stop-color="#063264"/><stop offset="0.7498" stop-color="#053061"/><stop offset="0.7859" stop-color="#053162"/><stop offset="0.7949" stop-color="#1f63a8"/><stop offset="0.7994" stop-color="#2a72b2"/><stop offset="0.8051" stop-color="#2970b1"/><stop offset="0.8084" stop-color="#2166ac"/><stop offset="0.8107" stop-color="#1f62a7"/><stop offset="0.8299" stop-color="#256baf"/><stop offset="0.8389" stop-color="#2d76b4"/><stop offset="0.8479" stop-color="#246aae"/><stop offset="0.8524" stop-color="#1d5ea0"/><stop offset="0.8580" stop-color="#16518f"/><stop offset="0.8592" stop-color="#16518f"/><stop offset="0.8614" stop-color="#246aae"/><stop offset="0.8637" stop-color="#3d8bbf"/><stop offset="0.8648" stop-color="#559fc9"/><stop offset="0.8671" stop-color="#99c9e0"/><stop offset="0.8693" stop-color="#cae1ee"/><stop offset="0.8704" stop-color="#d8e8f1"/><stop offset="0.8727" stop-color="#e2edf3"/><stop offset="0.8750" stop-color="#dbeaf2"/><stop offset="0.8761" stop-color="#d1e5f0"/><stop offset="0.8783" stop-color="#a0cce2"/><stop offset="0.8806" stop-color="#5aa1cb"/><stop offset="0.8817" stop-color="#3d8bbf"/><stop offset="0.8840" stop-color="#2165ab"/><stop offset="0.8862" stop-color="#0f437b"/><stop offset="0.8874" stop-color="#083669"/><stop offset="0.8885" stop-color="#053061"/><stop offset="0.9437" stop-color="#063264"/><stop offset="0.9482" stop-color="#0f447d"/><stop offset="0.9516" stop-color="#0f447c"/><stop offset="0.9561" stop-color="#063163"/><stop offset="1.0001" stop-color="#053061"/></linearGradient><linearGradient id="h9" gradientUnits="userSpaceOnUse" x1="159.7" y1="0" x2="1046.6" y2="0"><stop offset="0.0000" stop-color="#053061"/><stop offset="0.1398" stop-color="#053162"/><stop offset="0.1466" stop-color="#185595"/><stop offset="0.1500" stop-color="#1c5d9f"/><stop offset="0.1533" stop-color="#1a5898"/><stop offset="0.1612" stop-color="#053061"/><stop offset="0.2661" stop-color="#053061"/><stop offset="0.2695" stop-color="#0a396d"/><stop offset="0.2729" stop-color="#053061"/><stop offset="0.2853" stop-color="#053061"/><stop offset="0.2898" stop-color="#10467f"/><stop offset="0.2920" stop-color="#10447d"/><stop offset="0.2954" stop-color="#063263"/><stop offset="0.3495" stop-color="#053061"/><stop offset="0.3518" stop-color="#134a85"/><stop offset="0.3529" stop-color="#114780"/><stop offset="0.3540" stop-color="#083568"/><stop offset="0.3552" stop-color="#053061"/><stop offset="0.4341" stop-color="#053061"/><stop offset="0.4352" stop-color="#0a396e"/><stop offset="0.4386" stop-color="#2369ad"/><stop offset="0.4409" stop-color="#3c89be"/><stop offset="0.4420" stop-color="#4d99c6"/><stop offset="0.4442" stop-color="#75b3d4"/><stop offset="0.4454" stop-color="#80bad8"/><stop offset="0.4465" stop-color="#83bbd9"/><stop offset="0.4476" stop-color="#7db8d7"/><stop offset="0.4488" stop-color="#6fafd2"/><stop offset="0.4510" stop-color="#4393c3"/><stop offset="0.4544" stop-color="#1f62a7"/><stop offset="0.4566" stop-color="#0e427a"/><stop offset="0.4578" stop-color="#083669"/><stop offset="0.4589" stop-color="#053061"/><stop offset="0.4623" stop-color="#053061"/><stop offset="0.4634" stop-color="#073467"/><stop offset="0.4657" stop-color="#154f8c"/><stop offset="0.4668" stop-color="#1e5fa3"/><stop offset="0.4679" stop-color="#286fb0"/><stop offset="0.4713" stop-color="#408fc1"/><stop offset="0.4736" stop-color="#4292c2"/><stop offset="0.4758" stop-color="#3783bb"/><stop offset="0.4781" stop-color="#2369ad"/><stop offset="0.4815" stop-color="#0a3a6f"/><stop offset="0.4826" stop-color="#053061"/><stop offset="0.5773" stop-color="#053061"/><stop offset="0.5807" stop-color="#0c3e74"/><stop offset="0.5818" stop-color="#0b3b70"/><stop offset="0.5841" stop-color="#053061"/><stop offset="0.6404" stop-color="#053061"/><stop offset="0.6416" stop-color="#073467"/><stop offset="0.6461" stop-color="#053061"/><stop offset="0.7103" stop-color="#053061"/><stop offset="0.7137" stop-color="#195797"/><stop offset="0.7148" stop-color="#1c5d9f"/><stop offset="0.7160" stop-color="#1b5b9d"/><stop offset="0.7171" stop-color="#175391"/><stop offset="0.7194" stop-color="#09376b"/><stop offset="0.7205" stop-color="#053061"/><stop offset="0.7825" stop-color="#053061"/><stop offset="0.7870" stop-color="#175290"/><stop offset="0.7893" stop-color="#2166ac"/><stop offset="0.7938" stop-color="#3783bb"/><stop offset="0.7972" stop-color="#3c8abe"/><stop offset="0.8017" stop-color="#327cb7"/><stop offset="0.8051" stop-color="#2368ad"/><stop offset="0.8062" stop-color="#1e61a5"/><stop offset="0.8141" stop-color="#1f63a8"/><stop offset="0.8265" stop-color="#337db8"/><stop offset="0.8344" stop-color="#2e77b5"/><stop offset="0.8411" stop-color="#2064a9"/><stop offset="0.8456" stop-color="#1a5899"/><stop offset="0.8468" stop-color="#1a5899"/><stop offset="0.8479" stop-color="#2166ac"/><stop offset="0.8502" stop-color="#3884bb"/><stop offset="0.8513" stop-color="#4997c5"/><stop offset="0.8535" stop-color="#94c6de"/><stop offset="0.8558" stop-color="#cfe4ef"/><stop offset="0.8580" stop-color="#ebf1f5"/><stop offset="0.8603" stop-color="#f6f7f7"/><stop offset="0.8626" stop-color="#eef3f5"/><stop offset="0.8648" stop-color="#d4e7f1"/><stop offset="0.8671" stop-color="#99c9e0"/><stop offset="0.8693" stop-color="#4997c5"/><stop offset="0.8716" stop-color="#266db0"/><stop offset="0.8750" stop-color="#0a3a6f"/><stop offset="0.8761" stop-color="#053061"/><stop offset="0.9437" stop-color="#063263"/><stop offset="0.9482" stop-color="#0f437b"/><stop offset="0.9516" stop-color="#0e4179"/><stop offset="0.9561" stop-color="#053061"/><stop offset="1.0001" stop-color="#053061"/></linearGradient><linearGradient id="h10" gradientUnits="userSpaceOnUse" x1="159.7" y1="0" x2="1046.6" y2="0"><stop offset="0.0000" stop-color="#053061"/><stop offset="0.2661" stop-color="#053061"/><stop offset="0.2695" stop-color="#0a396d"/><stop offset="0.2729" stop-color="#053061"/><stop offset="0.2853" stop-color="#053061"/><stop offset="0.2898" stop-color="#10467f"/><stop offset="0.2920" stop-color="#10447d"/><stop offset="0.2954" stop-color="#063263"/><stop offset="0.3495" stop-color="#053061"/><stop offset="0.3518" stop-color="#134a85"/><stop offset="0.3529" stop-color="#114780"/><stop offset="0.3540" stop-color="#083568"/><stop offset="0.3552" stop-color="#053061"/><stop offset="0.4341" stop-color="#053061"/><stop offset="0.4364" stop-color="#114882"/><stop offset="0.4386" stop-color="#246aae"/><stop offset="0.4409" stop-color="#3c8abe"/><stop offset="0.4442" stop-color="#78b4d5"/><stop offset="0.4454" stop-color="#83bbd9"/><stop offset="0.4465" stop-color="#85bdda"/><stop offset="0.4476" stop-color="#7fb9d8"/><stop offset="0.4488" stop-color="#72b0d3"/><stop offset="0.4510" stop-color="#4494c3"/><stop offset="0.4544" stop-color="#1f63a8"/><stop offset="0.4566" stop-color="#0f427b"/><stop offset="0.4578" stop-color="#083669"/><stop offset="0.4589" stop-color="#053061"/><stop offset="0.4634" stop-color="#063163"/><stop offset="0.4657" stop-color="#134b86"/><stop offset="0.4679" stop-color="#256baf"/><stop offset="0.4713" stop-color="#4292c2"/><stop offset="0.4724" stop-color="#4c99c6"/><stop offset="0.4736" stop-color="#509bc8"/><stop offset="0.4758" stop-color="#4191c2"/><stop offset="0.4792" stop-color="#246aae"/><stop offset="0.4826" stop-color="#0b3b70"/><stop offset="0.4837" stop-color="#053061"/><stop offset="0.5773" stop-color="#053061"/><stop offset="0.5807" stop-color="#0c3e74"/><stop offset="0.5818" stop-color="#0b3b70"/><stop offset="0.5841" stop-color="#053061"/><stop offset="0.6404" stop-color="#053061"/><stop offset="0.6416" stop-color="#073467"/><stop offset="0.6461" stop-color="#053061"/><stop offset="0.7081" stop-color="#053061"/><stop offset="0.7092" stop-color="#073467"/><stop offset="0.7126" stop-color="#1c5c9e"/><stop offset="0.7137" stop-color="#1f61a5"/><stop offset="0.7148" stop-color="#1e60a3"/><stop offset="0.7160" stop-color="#1a5898"/><stop offset="0.7194" stop-color="#053061"/><stop offset="0.7780" stop-color="#053061"/><stop offset="0.7791" stop-color="#073366"/><stop offset="0.7836" stop-color="#1b5b9c"/><stop offset="0.7848" stop-color="#2166ac"/><stop offset="0.7904" stop-color="#4291c2"/><stop offset="0.7938" stop-color="#4e9ac7"/><stop offset="0.7972" stop-color="#408fc1"/><stop offset="0.8039" stop-color="#2063a8"/><stop offset="0.8062" stop-color="#1f61a5"/><stop offset="0.8141" stop-color="#2c75b4"/><stop offset="0.8220" stop-color="#327db8"/><stop offset="0.8310" stop-color="#256bae"/><stop offset="0.8366" stop-color="#1d5fa2"/><stop offset="0.8389" stop-color="#2d76b4"/><stop offset="0.8400" stop-color="#3a87bd"/><stop offset="0.8411" stop-color="#4e9ac7"/><stop offset="0.8434" stop-color="#97c8df"/><stop offset="0.8456" stop-color="#d2e5f0"/><stop offset="0.8479" stop-color="#edf2f5"/><stop offset="0.8502" stop-color="#f7f6f6"/><stop offset="0.8524" stop-color="#eff3f6"/><stop offset="0.8547" stop-color="#d5e7f1"/><stop offset="0.8569" stop-color="#9bcae1"/><stop offset="0.8592" stop-color="#4b98c6"/><stop offset="0.8603" stop-color="#3682ba"/><stop offset="0.8614" stop-color="#276eb0"/><stop offset="0.8648" stop-color="#0b3b70"/><stop offset="0.8659" stop-color="#053061"/><stop offset="0.9437" stop-color="#063163"/><stop offset="0.9482" stop-color="#0e4179"/><stop offset="0.9516" stop-color="#0d3f76"/><stop offset="0.9561" stop-color="#053061"/><stop offset="1.0001" stop-color="#053061"/></linearGradient><linearGradient id="h11" gradientUnits="userSpaceOnUse" x1="159.7" y1="0" x2="1046.6" y2="0"><stop offset="0.0000" stop-color="#053061"/><stop offset="0.2661" stop-color="#053061"/><stop offset="0.2695" stop-color="#0a396d"/><stop offset="0.2729" stop-color="#053061"/><stop offset="0.2853" stop-color="#053061"/><stop offset="0.2898" stop-color="#10467f"/><stop offset="0.2920" stop-color="#10447d"/><stop offset="0.2954" stop-color="#063263"/><stop offset="0.3495" stop-color="#053061"/><stop offset="0.3518" stop-color="#134a85"/><stop offset="0.3529" stop-color="#114780"/><stop offset="0.3540" stop-color="#083568"/><stop offset="0.3552" stop-color="#053061"/><stop offset="0.4341" stop-color="#053061"/><stop offset="0.4364" stop-color="#124883"/><stop offset="0.4386" stop-color="#246aae"/><stop offset="0.4409" stop-color="#3d8bbf"/><stop offset="0.4442" stop-color="#7ab6d6"/><stop offset="0.4454" stop-color="#85bdda"/><stop offset="0.4465" stop-color="#88beda"/><stop offset="0.4476" stop-color="#82bbd8"/><stop offset="0.4488" stop-color="#74b2d4"/><stop offset="0.4510" stop-color="#4695c4"/><stop offset="0.4544" stop-color="#2064a9"/><stop offset="0.4566" stop-color="#0f437b"/><stop offset="0.4578" stop-color="#08366a"/><stop offset="0.4589" stop-color="#053061"/><stop offset="0.4634" stop-color="#053061"/><stop offset="0.4645" stop-color="#0a396d"/><stop offset="0.4679" stop-color="#2268ad"/><stop offset="0.4713" stop-color="#4292c3"/><stop offset="0.4724" stop-color="#529dc8"/><stop offset="0.4736" stop-color="#5ca3cb"/><stop offset="0.4747" stop-color="#5da3cc"/><stop offset="0.4758" stop-color="#559fc9"/><stop offset="0.4792" stop-color="#317bb7"/><stop offset="0.4803" stop-color="#256caf"/><stop offset="0.4837" stop-color="#0b3b71"/><stop offset="0.4848" stop-color="#053061"/><stop offset="0.5773" stop-color="#053061"/><stop offset="0.5807" stop-color="#0c3e74"/><stop offset="0.5818" stop-color="#0b3b70"/><stop offset="0.5841" stop-color="#053061"/><stop offset="0.6404" stop-color="#053061"/><stop offset="0.6416" stop-color="#073467"/><stop offset="0.6461" stop-color="#053061"/><stop offset="0.7070" stop-color="#053061"/><stop offset="0.7081" stop-color="#0a396e"/><stop offset="0.7103" stop-color="#195695"/><stop offset="0.7115" stop-color="#1e60a4"/><stop offset="0.7126" stop-color="#2166ac"/><stop offset="0.7137" stop-color="#2064aa"/><stop offset="0.7148" stop-color="#1c5d9f"/><stop offset="0.7182" stop-color="#073466"/><stop offset="0.7205" stop-color="#053061"/><stop offset="0.7757" stop-color="#053061"/><stop offset="0.7780" stop-color="#0c3e74"/><stop offset="0.7825" stop-color="#246aae"/><stop offset="0.7881" stop-color="#4c99c6"/><stop offset="0.7904" stop-color="#5aa2cb"/><stop offset="0.7926" stop-color="#59a1ca"/><stop offset="0.7972" stop-color="#3b88be"/><stop offset="0.8017" stop-color="#2369ad"/><stop offset="0.8141" stop-color="#327db8"/><stop offset="0.8265" stop-color="#266caf"/><stop offset="0.8287" stop-color="#3b89be"/><stop offset="0.8299" stop-color="#509bc8"/><stop offset="0.8321" stop-color="#96c7df"/><stop offset="0.8344" stop-color="#cee4ef"/><stop offset="0.8366" stop-color="#e9f0f4"/><stop offset="0.8389" stop-color="#f4f5f6"/><stop offset="0.8411" stop-color="#ebf1f5"/><stop offset="0.8434" stop-color="#d2e5f0"/><stop offset="0.8456" stop-color="#97c7df"/><stop offset="0.8479" stop-color="#4896c5"/><stop offset="0.8502" stop-color="#266db0"/><stop offset="0.8535" stop-color="#0b3b71"/><stop offset="0.8547" stop-color="#053061"/><stop offset="0.9437" stop-color="#063162"/><stop offset="0.9482" stop-color="#0d4077"/><stop offset="0.9516" stop-color="#0c3d73"/><stop offset="0.9550" stop-color="#053062"/><stop offset="1.0001" stop-color="#053061"/></linearGradient><linearGradient id="h12" gradientUnits="userSpaceOnUse" x1="159.7" y1="0" x2="1046.6" y2="0"><stop offset="0.0000" stop-color="#053061"/><stop offset="0.2661" stop-color="#053061"/><stop offset="0.2695" stop-color="#0a396d"/><stop offset="0.2729" stop-color="#053061"/><stop offset="0.2853" stop-color="#053061"/><stop offset="0.2898" stop-color="#10467f"/><stop offset="0.2920" stop-color="#10447d"/><stop offset="0.2954" stop-color="#063263"/><stop offset="0.3495" stop-color="#053061"/><stop offset="0.3518" stop-color="#134a85"/><stop offset="0.3529" stop-color="#114780"/><stop offset="0.3540" stop-color="#083568"/><stop offset="0.3552" stop-color="#053061"/><stop offset="0.4341" stop-color="#053061"/><stop offset="0.4364" stop-color="#124983"/><stop offset="0.4386" stop-color="#256baf"/><stop offset="0.4409" stop-color="#3e8cc0"/><stop offset="0.4442" stop-color="#7db8d7"/><stop offset="0.4454" stop-color="#88beda"/><stop offset="0.4465" stop-color="#8ac0db"/><stop offset="0.4476" stop-color="#84bcd9"/><stop offset="0.4488" stop-color="#76b3d5"/><stop offset="0.4510" stop-color="#4896c5"/><stop offset="0.4544" stop-color="#2064aa"/><stop offset="0.4566" stop-color="#0f437c"/><stop offset="0.4578" stop-color="#08366a"/><stop offset="0.4589" stop-color="#053061"/><stop offset="0.4634" stop-color="#053061"/><stop offset="0.4645" stop-color="#083568"/><stop offset="0.4668" stop-color="#16518f"/><stop offset="0.4679" stop-color="#1f63a8"/><stop offset="0.4713" stop-color="#4291c2"/><stop offset="0.4736" stop-color="#63a7ce"/><stop offset="0.4747" stop-color="#6aacd0"/><stop offset="0.4758" stop-color="#68abd0"/><stop offset="0.4769" stop-color="#5ea4cc"/><stop offset="0.4792" stop-color="#3d8cbf"/><stop offset="0.4815" stop-color="#266daf"/><stop offset="0.4848" stop-color="#0b3c71"/><stop offset="0.4860" stop-color="#053061"/><stop offset="0.5773" stop-color="#053061"/><stop offset="0.5807" stop-color="#0c3e74"/><stop offset="0.5818" stop-color="#0b3b70"/><stop offset="0.5841" stop-color="#053061"/><stop offset="0.6404" stop-color="#053061"/><stop offset="0.6416" stop-color="#073467"/><stop offset="0.6461" stop-color="#053061"/><stop offset="0.7058" stop-color="#053061"/><stop offset="0.7070" stop-color="#073467"/><stop offset="0.7103" stop-color="#1e60a3"/><stop offset="0.7115" stop-color="#2268ad"/><stop offset="0.7137" stop-color="#2165ab"/><stop offset="0.7160" stop-color="#144c88"/><stop offset="0.7182" stop-color="#053061"/><stop offset="0.7724" stop-color="#053061"/><stop offset="0.7746" stop-color="#0d3f76"/><stop offset="0.7780" stop-color="#1f62a7"/><stop offset="0.7825" stop-color="#3f8ec0"/><stop offset="0.7859" stop-color="#60a5cd"/><stop offset="0.7881" stop-color="#67aacf"/><stop offset="0.7904" stop-color="#5ea4cc"/><stop offset="0.7938" stop-color="#408ec1"/><stop offset="0.7983" stop-color="#2970b1"/><stop offset="0.8073" stop-color="#337eb8"/><stop offset="0.8163" stop-color="#2c74b3"/><stop offset="0.8175" stop-color="#317bb7"/><stop offset="0.8186" stop-color="#3c8abe"/><stop offset="0.8197" stop-color="#519cc8"/><stop offset="0.8220" stop-color="#94c6df"/><stop offset="0.8242" stop-color="#cae1ee"/><stop offset="0.8265" stop-color="#e5eff4"/><stop offset="0.8287" stop-color="#eff3f6"/><stop offset="0.8310" stop-color="#e7eff4"/><stop offset="0.8332" stop-color="#cce2ee"/><stop offset="0.8355" stop-color="#92c5de"/><stop offset="0.8377" stop-color="#4494c3"/><stop offset="0.8400" stop-color="#266caf"/><stop offset="0.8434" stop-color="#0b3c71"/><stop offset="0.8445" stop-color="#053162"/><stop offset="0.9437" stop-color="#053162"/><stop offset="0.9482" stop-color="#0c3e74"/><stop offset="0.9516" stop-color="#0b3b70"/><stop offset="0.9550" stop-color="#053061"/><stop offset="1.0001" stop-color="#053061"/></linearGradient><linearGradient id="h13" gradientUnits="userSpaceOnUse" x1="159.7" y1="0" x2="1046.6" y2="0"><stop offset="0.0000" stop-color="#053061"/><stop offset="0.2661" stop-color="#053061"/><stop offset="0.2695" stop-color="#0a396d"/><stop offset="0.2729" stop-color="#053061"/><stop offset="0.2853" stop-color="#053061"/><stop offset="0.2898" stop-color="#10467f"/><stop offset="0.2920" stop-color="#10447d"/><stop offset="0.2954" stop-color="#063263"/><stop offset="0.3495" stop-color="#053061"/><stop offset="0.3518" stop-color="#134a85"/><stop offset="0.3529" stop-color="#114780"/><stop offset="0.3540" stop-color="#083568"/><stop offset="0.3552" stop-color="#053061"/><stop offset="0.4341" stop-color="#053061"/><stop offset="0.4364" stop-color="#124984"/><stop offset="0.4386" stop-color="#256caf"/><stop offset="0.4409" stop-color="#3f8dc0"/><stop offset="0.4431" stop-color="#6dadd1"/><stop offset="0.4442" stop-color="#7fb9d8"/><stop offset="0.4454" stop-color="#8ac0db"/><stop offset="0.4465" stop-color="#8dc2dc"/><stop offset="0.4476" stop-color="#87beda"/><stop offset="0.4488" stop-color="#79b5d5"/><stop offset="0.4510" stop-color="#4a97c5"/><stop offset="0.4544" stop-color="#2165ab"/><stop offset="0.4566" stop-color="#0f447c"/><stop offset="0.4578" stop-color="#08376a"/><stop offset="0.4589" stop-color="#053061"/><stop offset="0.4645" stop-color="#063264"/><stop offset="0.4668" stop-color="#144c89"/><stop offset="0.4679" stop-color="#1d5ea0"/><stop offset="0.4690" stop-color="#286fb0"/><stop offset="0.4713" stop-color="#408fc1"/><stop offset="0.4736" stop-color="#67aacf"/><stop offset="0.4747" stop-color="#74b2d4"/><stop offset="0.4758" stop-color="#78b4d5"/><stop offset="0.4769" stop-color="#73b1d3"/><stop offset="0.4781" stop-color="#66a9cf"/><stop offset="0.4803" stop-color="#3f8ec0"/><stop offset="0.4826" stop-color="#276db0"/><stop offset="0.4837" stop-color="#1c5c9e"/><stop offset="0.4860" stop-color="#0b3c72"/><stop offset="0.4871" stop-color="#053061"/><stop offset="0.5773" stop-color="#053061"/><stop offset="0.5807" stop-color="#0c3e74"/><stop offset="0.5818" stop-color="#0b3b70"/><stop offset="0.5841" stop-color="#053061"/><stop offset="0.6404" stop-color="#053061"/><stop offset="0.6416" stop-color="#073467"/><stop offset="0.6461" stop-color="#053061"/><stop offset="0.7058" stop-color="#053061"/><stop offset="0.7092" stop-color="#1c5d9f"/><stop offset="0.7103" stop-color="#2368ad"/><stop offset="0.7115" stop-color="#266db0"/><stop offset="0.7126" stop-color="#266caf"/><stop offset="0.7137" stop-color="#2065aa"/><stop offset="0.7171" stop-color="#09386b"/><stop offset="0.7182" stop-color="#053061"/><stop offset="0.7667" stop-color="#053061"/><stop offset="0.7678" stop-color="#063365"/><stop offset="0.7712" stop-color="#16508d"/><stop offset="0.7735" stop-color="#2268ad"/><stop offset="0.7791" stop-color="#4795c4"/><stop offset="0.7814" stop-color="#559ec9"/><stop offset="0.7836" stop-color="#549ec9"/><stop offset="0.7881" stop-color="#3a87bd"/><stop offset="0.7915" stop-color="#2971b2"/><stop offset="0.8017" stop-color="#347fb9"/><stop offset="0.8084" stop-color="#2f79b6"/><stop offset="0.8107" stop-color="#4594c4"/><stop offset="0.8141" stop-color="#9dcae1"/><stop offset="0.8163" stop-color="#c8e0ed"/><stop offset="0.8175" stop-color="#d5e7f1"/><stop offset="0.8197" stop-color="#ddebf2"/><stop offset="0.8220" stop-color="#d6e7f1"/><stop offset="0.8231" stop-color="#c9e1ee"/><stop offset="0.8253" stop-color="#9ac9e0"/><stop offset="0.8276" stop-color="#569fca"/><stop offset="0.8287" stop-color="#3c8abf"/><stop offset="0.8310" stop-color="#2167ac"/><stop offset="0.8332" stop-color="#10467f"/><stop offset="0.8355" stop-color="#053061"/><stop offset="0.9437" stop-color="#053061"/><stop offset="0.9482" stop-color="#0b3c72"/><stop offset="0.9516" stop-color="#0a396d"/><stop offset="0.9550" stop-color="#053061"/><stop offset="1.0001" stop-color="#053061"/></linearGradient><linearGradient id="h14" gradientUnits="userSpaceOnUse" x1="159.7" y1="0" x2="1046.6" y2="0"><stop offset="0.0000" stop-color="#053061"/><stop offset="0.2661" stop-color="#053061"/><stop offset="0.2695" stop-color="#0a396d"/><stop offset="0.2729" stop-color="#053061"/><stop offset="0.2853" stop-color="#053061"/><stop offset="0.2898" stop-color="#10467f"/><stop offset="0.2920" stop-color="#10447d"/><stop offset="0.2954" stop-color="#063263"/><stop offset="0.3495" stop-color="#053061"/><stop offset="0.3518" stop-color="#134a85"/><stop offset="0.3529" stop-color="#114780"/><stop offset="0.3540" stop-color="#083568"/><stop offset="0.3552" stop-color="#053061"/><stop offset="0.4341" stop-color="#053061"/><stop offset="0.4364" stop-color="#124a85"/><stop offset="0.4386" stop-color="#266caf"/><stop offset="0.4409" stop-color="#3f8ec1"/><stop offset="0.4431" stop-color="#6fafd2"/><stop offset="0.4442" stop-color="#82bbd8"/><stop offset="0.4454" stop-color="#8dc2dc"/><stop offset="0.4465" stop-color="#8fc3dd"/><stop offset="0.4476" stop-color="#89bfdb"/><stop offset="0.4488" stop-color="#7bb6d6"/><stop offset="0.4510" stop-color="#4c99c6"/><stop offset="0.4533" stop-color="#2d76b4"/><stop offset="0.4544" stop-color="#2166ac"/><stop offset="0.4566" stop-color="#0f447d"/><stop offset="0.4578" stop-color="#09376b"/><stop offset="0.4589" stop-color="#053061"/><stop offset="0.4645" stop-color="#053061"/><stop offset="0.4668" stop-color="#114882"/><stop offset="0.4690" stop-color="#246aae"/><stop offset="0.4713" stop-color="#3d8bbf"/><stop offset="0.4736" stop-color="#68aad0"/><stop offset="0.4747" stop-color="#79b5d6"/><stop offset="0.4758" stop-color="#83bcd9"/><stop offset="0.4769" stop-color="#84bcd9"/><stop offset="0.4781" stop-color="#7db8d7"/><stop offset="0.4792" stop-color="#6daed1"/><stop offset="0.4815" stop-color="#408fc1"/><stop offset="0.4837" stop-color="#276eb0"/><stop offset="0.4848" stop-color="#1c5d9f"/><stop offset="0.4871" stop-color="#0c3d73"/><stop offset="0.4882" stop-color="#053162"/><stop offset="0.5773" stop-color="#053061"/><stop offset="0.5807" stop-color="#0c3e74"/><stop offset="0.5818" stop-color="#0b3b70"/><stop offset="0.5841" stop-color="#053061"/><stop offset="0.7024" stop-color="#053061"/><stop offset="0.7036" stop-color="#09386c"/><stop offset="0.7070" stop-color="#2267ad"/><stop offset="0.7092" stop-color="#2971b2"/><stop offset="0.7103" stop-color="#266daf"/><stop offset="0.7115" stop-color="#1f62a7"/><stop offset="0.7148" stop-color="#063264"/><stop offset="0.7645" stop-color="#063264"/><stop offset="0.7678" stop-color="#154f8c"/><stop offset="0.7701" stop-color="#2267ac"/><stop offset="0.7757" stop-color="#4695c4"/><stop offset="0.7780" stop-color="#549ec9"/><stop offset="0.7802" stop-color="#549ec9"/><stop offset="0.7848" stop-color="#3b89be"/><stop offset="0.7881" stop-color="#2c74b3"/><stop offset="0.7960" stop-color="#3682ba"/><stop offset="0.8017" stop-color="#3783bb"/><stop offset="0.8028" stop-color="#4190c2"/><stop offset="0.8062" stop-color="#90c4dd"/><stop offset="0.8084" stop-color="#b8d8e9"/><stop offset="0.8107" stop-color="#cfe4ef"/><stop offset="0.8129" stop-color="#cfe4f0"/><stop offset="0.8152" stop-color="#b7d8e9"/><stop offset="0.8175" stop-color="#8ac0db"/><stop offset="0.8197" stop-color="#4997c5"/><stop offset="0.8220" stop-color="#2b73b2"/><stop offset="0.8231" stop-color="#1f62a7"/><stop offset="0.8253" stop-color="#0f447c"/><stop offset="0.8276" stop-color="#053061"/><stop offset="0.9437" stop-color="#053061"/><stop offset="0.9482" stop-color="#0b3b70"/><stop offset="0.9516" stop-color="#08376a"/><stop offset="0.9539" stop-color="#053061"/><stop offset="1.0001" stop-color="#053061"/></linearGradient><linearGradient id="h15" gradientUnits="userSpaceOnUse" x1="159.7" y1="0" x2="1046.6" y2="0"><stop offset="0.0000" stop-color="#053061"/><stop offset="0.2334" stop-color="#053061"/><stop offset="0.2357" stop-color="#09386c"/><stop offset="0.2413" stop-color="#16518e"/><stop offset="0.2447" stop-color="#175493"/><stop offset="0.2492" stop-color="#114780"/><stop offset="0.2537" stop-color="#053061"/><stop offset="0.2661" stop-color="#053061"/><stop offset="0.2695" stop-color="#0a396e"/><stop offset="0.2729" stop-color="#053061"/><stop offset="0.2853" stop-color="#053061"/><stop offset="0.2898" stop-color="#10467f"/><stop offset="0.2920" stop-color="#10447d"/><stop offset="0.2954" stop-color="#063263"/><stop offset="0.4341" stop-color="#053061"/><stop offset="0.4364" stop-color="#134a85"/><stop offset="0.4386" stop-color="#266db0"/><stop offset="0.4409" stop-color="#408fc1"/><stop offset="0.4431" stop-color="#71b0d3"/><stop offset="0.4442" stop-color="#84bcd9"/><stop offset="0.4454" stop-color="#8fc3dd"/><stop offset="0.4465" stop-color="#92c5de"/><stop offset="0.4476" stop-color="#8cc1dc"/><stop offset="0.4488" stop-color="#7db8d7"/><stop offset="0.4510" stop-color="#4e9ac7"/><stop offset="0.4533" stop-color="#2e77b5"/><stop offset="0.4544" stop-color="#2167ac"/><stop offset="0.4566" stop-color="#10447d"/><stop offset="0.4578" stop-color="#09376b"/><stop offset="0.4589" stop-color="#053061"/><stop offset="0.4645" stop-color="#053061"/><stop offset="0.4657" stop-color="#083669"/><stop offset="0.4679" stop-color="#175391"/><stop offset="0.4690" stop-color="#2065aa"/><stop offset="0.4713" stop-color="#3a87bd"/><stop offset="0.4724" stop-color="#4b98c6"/><stop offset="0.4747" stop-color="#7cb7d6"/><stop offset="0.4758" stop-color="#8bc0db"/><stop offset="0.4769" stop-color="#92c5de"/><stop offset="0.4781" stop-color="#90c4dd"/><stop offset="0.4792" stop-color="#86bdda"/><stop offset="0.4803" stop-color="#74b2d4"/><stop offset="0.4826" stop-color="#4191c2"/><stop offset="0.4848" stop-color="#286fb0"/><stop offset="0.4860" stop-color="#1c5da0"/><stop offset="0.4882" stop-color="#0c3d73"/><stop offset="0.4893" stop-color="#053162"/><stop offset="0.5773" stop-color="#053061"/><stop offset="0.5807" stop-color="#0c3e74"/><stop offset="0.5818" stop-color="#0b3b70"/><stop offset="0.5841" stop-color="#053061"/><stop offset="0.7002" stop-color="#063264"/><stop offset="0.7036" stop-color="#2064aa"/><stop offset="0.7058" stop-color="#2c75b4"/><stop offset="0.7070" stop-color="#2b73b3"/><stop offset="0.7081" stop-color="#256caf"/><stop offset="0.7092" stop-color="#1d5ea1"/><stop offset="0.7115" stop-color="#0b3b71"/><stop offset="0.7126" stop-color="#053061"/><stop offset="0.7600" stop-color="#053061"/><stop offset="0.7611" stop-color="#073365"/><stop offset="0.7645" stop-color="#175290"/><stop offset="0.7667" stop-color="#246bae"/><stop offset="0.7712" stop-color="#4493c3"/><stop offset="0.7735" stop-color="#5aa2cb"/><stop offset="0.7757" stop-color="#61a6cd"/><stop offset="0.7780" stop-color="#59a1cb"/><stop offset="0.7814" stop-color="#3e8dc0"/><stop offset="0.7848" stop-color="#2d75b4"/><stop offset="0.7926" stop-color="#3581ba"/><stop offset="0.7983" stop-color="#327db8"/><stop offset="0.8005" stop-color="#4a97c5"/><stop offset="0.8039" stop-color="#94c6df"/><stop offset="0.8062" stop-color="#b2d5e7"/><stop offset="0.8084" stop-color="#bddbea"/><stop offset="0.8107" stop-color="#b1d5e7"/><stop offset="0.8129" stop-color="#90c4dd"/><stop offset="0.8163" stop-color="#3f8dc0"/><stop offset="0.8186" stop-color="#266caf"/><stop offset="0.8220" stop-color="#0d4077"/><stop offset="0.8231" stop-color="#083568"/><stop offset="0.8242" stop-color="#053061"/><stop offset="0.9437" stop-color="#053061"/><stop offset="0.9482" stop-color="#0a396d"/><stop offset="0.9550" stop-color="#053061"/><stop offset="1.0001" stop-color="#053061"/></linearGradient><linearGradient id="h16" gradientUnits="userSpaceOnUse" x1="159.7" y1="0" x2="1046.6" y2="0"><stop offset="0.0000" stop-color="#053061"/><stop offset="0.2390" stop-color="#053061"/><stop offset="0.2447" stop-color="#16518e"/><stop offset="0.2481" stop-color="#2166ac"/><stop offset="0.2526" stop-color="#2c74b3"/><stop offset="0.2571" stop-color="#2971b2"/><stop offset="0.2605" stop-color="#2064aa"/><stop offset="0.2672" stop-color="#10457e"/><stop offset="0.2706" stop-color="#0d3f76"/><stop offset="0.2729" stop-color="#053162"/><stop offset="0.2853" stop-color="#053061"/><stop offset="0.2898" stop-color="#10467f"/><stop offset="0.2920" stop-color="#10447d"/><stop offset="0.2954" stop-color="#063263"/><stop offset="0.4217" stop-color="#053061"/><stop offset="0.4228" stop-color="#073466"/><stop offset="0.4262" stop-color="#124983"/><stop offset="0.4285" stop-color="#134c87"/><stop offset="0.4330" stop-color="#09386c"/><stop offset="0.4341" stop-color="#0a396d"/><stop offset="0.4364" stop-color="#154f8c"/><stop offset="0.4375" stop-color="#1d5fa2"/><stop offset="0.4386" stop-color="#286fb1"/><stop offset="0.4409" stop-color="#4191c2"/><stop offset="0.4431" stop-color="#73b1d3"/><stop offset="0.4442" stop-color="#85bdda"/><stop offset="0.4454" stop-color="#90c4dd"/><stop offset="0.4465" stop-color="#92c5de"/><stop offset="0.4476" stop-color="#8bc1dc"/><stop offset="0.4488" stop-color="#7cb7d7"/><stop offset="0.4510" stop-color="#4c99c6"/><stop offset="0.4533" stop-color="#2d76b4"/><stop offset="0.4544" stop-color="#2165ab"/><stop offset="0.4566" stop-color="#0f437c"/><stop offset="0.4578" stop-color="#08366a"/><stop offset="0.4589" stop-color="#053061"/><stop offset="0.4657" stop-color="#053061"/><stop offset="0.4668" stop-color="#0a3a6f"/><stop offset="0.4702" stop-color="#266daf"/><stop offset="0.4724" stop-color="#4292c2"/><stop offset="0.4747" stop-color="#80b9d8"/><stop offset="0.4758" stop-color="#97c7df"/><stop offset="0.4769" stop-color="#a4cee3"/><stop offset="0.4781" stop-color="#aad1e5"/><stop offset="0.4792" stop-color="#a9d0e4"/><stop offset="0.4803" stop-color="#9fcce2"/><stop offset="0.4815" stop-color="#8fc3dd"/><stop offset="0.4848" stop-color="#3c8abf"/><stop offset="0.4871" stop-color="#2165ab"/><stop offset="0.4893" stop-color="#0e427a"/><stop offset="0.4905" stop-color="#073467"/><stop offset="0.4916" stop-color="#053061"/><stop offset="0.5773" stop-color="#053061"/><stop offset="0.5807" stop-color="#0c3e74"/><stop offset="0.5818" stop-color="#0b3b70"/><stop offset="0.5841" stop-color="#053061"/><stop offset="0.6957" stop-color="#053061"/><stop offset="0.6968" stop-color="#063365"/><stop offset="0.7002" stop-color="#1e60a4"/><stop offset="0.7013" stop-color="#266caf"/><stop offset="0.7036" stop-color="#2c75b4"/><stop offset="0.7058" stop-color="#2368ad"/><stop offset="0.7092" stop-color="#0b3b70"/><stop offset="0.7103" stop-color="#053061"/><stop offset="0.7543" stop-color="#053061"/><stop offset="0.7554" stop-color="#073365"/><stop offset="0.7588" stop-color="#1a5898"/><stop offset="0.7600" stop-color="#2267ac"/><stop offset="0.7633" stop-color="#3f8dc0"/><stop offset="0.7667" stop-color="#67aacf"/><stop offset="0.7690" stop-color="#6cadd1"/><stop offset="0.7712" stop-color="#5ba2cb"/><stop offset="0.7735" stop-color="#3f8ec0"/><stop offset="0.7769" stop-color="#266caf"/><stop offset="0.7791" stop-color="#195696"/><stop offset="0.7848" stop-color="#246aae"/><stop offset="0.7904" stop-color="#2970b1"/><stop offset="0.7960" stop-color="#2369ad"/><stop offset="0.7994" stop-color="#3f8dc0"/><stop offset="0.8028" stop-color="#7ab6d6"/><stop offset="0.8051" stop-color="#93c5de"/><stop offset="0.8073" stop-color="#94c6de"/><stop offset="0.8084" stop-color="#8bc1dc"/><stop offset="0.8107" stop-color="#67aacf"/><stop offset="0.8129" stop-color="#3d8bbf"/><stop offset="0.8152" stop-color="#266caf"/><stop offset="0.8186" stop-color="#0d4077"/><stop offset="0.8197" stop-color="#073467"/><stop offset="0.8220" stop-color="#053061"/><stop offset="1.0001" stop-color="#053061"/></linearGradient><linearGradient id="h17" gradientUnits="userSpaceOnUse" x1="159.7" y1="0" x2="1046.6" y2="0"><stop offset="0.0000" stop-color="#053061"/><stop offset="0.2435" stop-color="#063264"/><stop offset="0.2503" stop-color="#1c5c9f"/><stop offset="0.2514" stop-color="#2064aa"/><stop offset="0.2582" stop-color="#3986bc"/><stop offset="0.2638" stop-color="#408fc1"/><stop offset="0.2684" stop-color="#3986bd"/><stop offset="0.2729" stop-color="#246aae"/><stop offset="0.2785" stop-color="#0c3e74"/><stop offset="0.2819" stop-color="#053061"/><stop offset="0.2853" stop-color="#063264"/><stop offset="0.2886" stop-color="#10447d"/><stop offset="0.2909" stop-color="#114882"/><stop offset="0.2932" stop-color="#0e4178"/><stop offset="0.2954" stop-color="#063264"/><stop offset="0.4183" stop-color="#053061"/><stop offset="0.4194" stop-color="#073365"/><stop offset="0.4239" stop-color="#195898"/><stop offset="0.4262" stop-color="#1d5da0"/><stop offset="0.4285" stop-color="#195696"/><stop offset="0.4330" stop-color="#09376b"/><stop offset="0.4341" stop-color="#0a396d"/><stop offset="0.4364" stop-color="#15508d"/><stop offset="0.4375" stop-color="#1e60a3"/><stop offset="0.4397" stop-color="#3581ba"/><stop offset="0.4409" stop-color="#4292c2"/><stop offset="0.4431" stop-color="#74b2d4"/><stop offset="0.4442" stop-color="#86bdda"/><stop offset="0.4454" stop-color="#90c4dd"/><stop offset="0.4465" stop-color="#92c5de"/><stop offset="0.4476" stop-color="#8ac0db"/><stop offset="0.4488" stop-color="#7bb6d6"/><stop offset="0.4510" stop-color="#4a98c5"/><stop offset="0.4544" stop-color="#2064aa"/><stop offset="0.4566" stop-color="#0f427b"/><stop offset="0.4578" stop-color="#083568"/><stop offset="0.4589" stop-color="#053061"/><stop offset="0.4668" stop-color="#053162"/><stop offset="0.4690" stop-color="#144e8a"/><stop offset="0.4702" stop-color="#1e61a5"/><stop offset="0.4724" stop-color="#3b88be"/><stop offset="0.4736" stop-color="#559ec9"/><stop offset="0.4758" stop-color="#98c8e0"/><stop offset="0.4769" stop-color="#add3e6"/><stop offset="0.4781" stop-color="#bcdaea"/><stop offset="0.4792" stop-color="#c3deec"/><stop offset="0.4803" stop-color="#c1ddeb"/><stop offset="0.4815" stop-color="#b7d8e9"/><stop offset="0.4826" stop-color="#a5cfe4"/><stop offset="0.4837" stop-color="#8dc2dc"/><stop offset="0.4860" stop-color="#4695c4"/><stop offset="0.4882" stop-color="#266caf"/><stop offset="0.4916" stop-color="#09386c"/><stop offset="0.4927" stop-color="#053061"/><stop offset="0.5773" stop-color="#053061"/><stop offset="0.5807" stop-color="#0c3e74"/><stop offset="0.5818" stop-color="#0b3b70"/><stop offset="0.5841" stop-color="#053061"/><stop offset="0.6923" stop-color="#053061"/><stop offset="0.6934" stop-color="#063365"/><stop offset="0.6968" stop-color="#1c5d9f"/><stop offset="0.6979" stop-color="#2369ae"/><stop offset="0.7002" stop-color="#2c75b4"/><stop offset="0.7024" stop-color="#276eb0"/><stop offset="0.7036" stop-color="#2065ab"/><stop offset="0.7070" stop-color="#0a3a70"/><stop offset="0.7081" stop-color="#053061"/><stop offset="0.7509" stop-color="#053061"/><stop offset="0.7521" stop-color="#073365"/><stop offset="0.7554" stop-color="#1a5898"/><stop offset="0.7566" stop-color="#2167ac"/><stop offset="0.7611" stop-color="#4c99c6"/><stop offset="0.7633" stop-color="#67aacf"/><stop offset="0.7656" stop-color="#6badd1"/><stop offset="0.7678" stop-color="#5aa2cb"/><stop offset="0.7701" stop-color="#3f8dc0"/><stop offset="0.7735" stop-color="#256baf"/><stop offset="0.7757" stop-color="#185595"/><stop offset="0.7780" stop-color="#1b5b9c"/><stop offset="0.7814" stop-color="#2369ae"/><stop offset="0.7859" stop-color="#286fb1"/><stop offset="0.7904" stop-color="#1f63a8"/><stop offset="0.7938" stop-color="#185493"/><stop offset="0.7949" stop-color="#1a5898"/><stop offset="0.7972" stop-color="#266caf"/><stop offset="0.8017" stop-color="#4291c2"/><stop offset="0.8039" stop-color="#519cc8"/><stop offset="0.8062" stop-color="#4e9ac7"/><stop offset="0.8096" stop-color="#3784bb"/><stop offset="0.8118" stop-color="#266db0"/><stop offset="0.8129" stop-color="#1e60a4"/><stop offset="0.8163" stop-color="#0b3b70"/><stop offset="0.8175" stop-color="#053162"/><stop offset="1.0001" stop-color="#053061"/></linearGradient><linearGradient id="h18" gradientUnits="userSpaceOnUse" x1="159.7" y1="0" x2="1046.6" y2="0"><stop offset="0.0000" stop-color="#053061"/><stop offset="0.2469" stop-color="#053061"/><stop offset="0.2514" stop-color="#124984"/><stop offset="0.2559" stop-color="#246aae"/><stop offset="0.2627" stop-color="#3e8dc0"/><stop offset="0.2672" stop-color="#4393c3"/><stop offset="0.2717" stop-color="#3a87bd"/><stop offset="0.2774" stop-color="#2267ac"/><stop offset="0.2841" stop-color="#09386c"/><stop offset="0.2864" stop-color="#053061"/><stop offset="0.4161" stop-color="#053061"/><stop offset="0.4217" stop-color="#2165ab"/><stop offset="0.4239" stop-color="#276db0"/><stop offset="0.4262" stop-color="#2469ae"/><stop offset="0.4273" stop-color="#1f63a8"/><stop offset="0.4318" stop-color="#0b3c72"/><stop offset="0.4330" stop-color="#083568"/><stop offset="0.4341" stop-color="#0a396d"/><stop offset="0.4364" stop-color="#16508e"/><stop offset="0.4375" stop-color="#1e61a5"/><stop offset="0.4409" stop-color="#4393c3"/><stop offset="0.4431" stop-color="#76b3d4"/><stop offset="0.4442" stop-color="#87beda"/><stop offset="0.4454" stop-color="#90c4dd"/><stop offset="0.4465" stop-color="#91c5de"/><stop offset="0.4476" stop-color="#8ac0db"/><stop offset="0.4488" stop-color="#7ab6d6"/><stop offset="0.4510" stop-color="#4896c5"/><stop offset="0.4544" stop-color="#1f63a8"/><stop offset="0.4566" stop-color="#0e4179"/><stop offset="0.4578" stop-color="#073467"/><stop offset="0.4589" stop-color="#053061"/><stop offset="0.4668" stop-color="#053061"/><stop offset="0.4679" stop-color="#073466"/><stop offset="0.4702" stop-color="#175392"/><stop offset="0.4713" stop-color="#2268ad"/><stop offset="0.4736" stop-color="#4292c2"/><stop offset="0.4758" stop-color="#90c4dd"/><stop offset="0.4781" stop-color="#c4deec"/><stop offset="0.4792" stop-color="#d3e6f0"/><stop offset="0.4815" stop-color="#d6e7f1"/><stop offset="0.4826" stop-color="#cee4ef"/><stop offset="0.4837" stop-color="#bbdaea"/><stop offset="0.4848" stop-color="#a2cde3"/><stop offset="0.4860" stop-color="#81bad8"/><stop offset="0.4871" stop-color="#59a1ca"/><stop offset="0.4882" stop-color="#3b89be"/><stop offset="0.4905" stop-color="#1d5fa2"/><stop offset="0.4927" stop-color="#0b3b71"/><stop offset="0.4939" stop-color="#053061"/><stop offset="0.5773" stop-color="#053061"/><stop offset="0.5807" stop-color="#0c3e74"/><stop offset="0.5818" stop-color="#0b3b70"/><stop offset="0.5841" stop-color="#053061"/><stop offset="0.6867" stop-color="#053061"/><stop offset="0.6878" stop-color="#08366a"/><stop offset="0.6912" stop-color="#1d5ea0"/><stop offset="0.6923" stop-color="#246aae"/><stop offset="0.6946" stop-color="#3079b6"/><stop offset="0.6968" stop-color="#317cb7"/><stop offset="0.7002" stop-color="#2166ab"/><stop offset="0.7047" stop-color="#063264"/><stop offset="0.7487" stop-color="#053061"/><stop offset="0.7498" stop-color="#073466"/><stop offset="0.7543" stop-color="#1e60a4"/><stop offset="0.7566" stop-color="#2d75b4"/><stop offset="0.7600" stop-color="#3c89be"/><stop offset="0.7633" stop-color="#3b89be"/><stop offset="0.7678" stop-color="#256baf"/><stop offset="0.7724" stop-color="#10457e"/><stop offset="0.7735" stop-color="#0f437c"/><stop offset="0.7802" stop-color="#1c5da0"/><stop offset="0.7836" stop-color="#1c5c9e"/><stop offset="0.7904" stop-color="#0c3e75"/><stop offset="0.7915" stop-color="#0b3c71"/><stop offset="0.7949" stop-color="#185494"/><stop offset="0.7972" stop-color="#2369ad"/><stop offset="0.8017" stop-color="#3682bb"/><stop offset="0.8051" stop-color="#3581ba"/><stop offset="0.8084" stop-color="#256caf"/><stop offset="0.8096" stop-color="#1f62a6"/><stop offset="0.8141" stop-color="#08376a"/><stop offset="0.8152" stop-color="#053061"/><stop offset="1.0001" stop-color="#053061"/></linearGradient><linearGradient id="h19" gradientUnits="userSpaceOnUse" x1="159.7" y1="0" x2="1046.6" y2="0"><stop offset="0.0000" stop-color="#053061"/><stop offset="0.2582" stop-color="#053062"/><stop offset="0.2638" stop-color="#175392"/><stop offset="0.2661" stop-color="#2064aa"/><stop offset="0.2729" stop-color="#3c8abe"/><stop offset="0.2774" stop-color="#4393c3"/><stop offset="0.2819" stop-color="#3c8abe"/><stop offset="0.2886" stop-color="#2064aa"/><stop offset="0.2954" stop-color="#08366a"/><stop offset="0.2965" stop-color="#053062"/><stop offset="0.4138" stop-color="#053061"/><stop offset="0.4149" stop-color="#08376a"/><stop offset="0.4194" stop-color="#2167ac"/><stop offset="0.4217" stop-color="#2b73b3"/><stop offset="0.4239" stop-color="#2b73b3"/><stop offset="0.4262" stop-color="#2267ad"/><stop offset="0.4307" stop-color="#0a3a6f"/><stop offset="0.4318" stop-color="#063264"/><stop offset="0.4330" stop-color="#053061"/><stop offset="0.4352" stop-color="#0e427a"/><stop offset="0.4375" stop-color="#1e61a5"/><stop offset="0.4409" stop-color="#4494c3"/><stop offset="0.4431" stop-color="#77b4d5"/><stop offset="0.4442" stop-color="#88beda"/><stop offset="0.4454" stop-color="#91c4de"/><stop offset="0.4465" stop-color="#91c4de"/><stop offset="0.4476" stop-color="#89bfdb"/><stop offset="0.4488" stop-color="#79b5d5"/><stop offset="0.4510" stop-color="#4795c4"/><stop offset="0.4544" stop-color="#1f62a6"/><stop offset="0.4566" stop-color="#0e4078"/><stop offset="0.4578" stop-color="#073466"/><stop offset="0.4600" stop-color="#053061"/><stop offset="0.4690" stop-color="#053061"/><stop offset="0.4702" stop-color="#09376b"/><stop offset="0.4724" stop-color="#1b599b"/><stop offset="0.4736" stop-color="#276eb0"/><stop offset="0.4747" stop-color="#3884bb"/><stop offset="0.4758" stop-color="#529cc8"/><stop offset="0.4781" stop-color="#a1cde2"/><stop offset="0.4792" stop-color="#bedbeb"/><stop offset="0.4803" stop-color="#d4e6f0"/><stop offset="0.4826" stop-color="#e1ecf3"/><stop offset="0.4848" stop-color="#d7e8f1"/><stop offset="0.4860" stop-color="#c6dfed"/><stop offset="0.4871" stop-color="#aad1e5"/><stop offset="0.4882" stop-color="#88bfdb"/><stop offset="0.4893" stop-color="#5ea4cc"/><stop offset="0.4905" stop-color="#3d8bbf"/><stop offset="0.4927" stop-color="#1e60a4"/><stop offset="0.4950" stop-color="#0b3b71"/><stop offset="0.4961" stop-color="#053061"/><stop offset="0.5773" stop-color="#053061"/><stop offset="0.5807" stop-color="#0c3e74"/><stop offset="0.5818" stop-color="#0b3b70"/><stop offset="0.5841" stop-color="#053061"/><stop offset="0.6810" stop-color="#053061"/><stop offset="0.6822" stop-color="#08366a"/><stop offset="0.6855" stop-color="#1d5ea0"/><stop offset="0.6867" stop-color="#246aae"/><stop offset="0.6889" stop-color="#3079b6"/><stop offset="0.6912" stop-color="#317cb7"/><stop offset="0.6946" stop-color="#2166ab"/><stop offset="0.6991" stop-color="#063264"/><stop offset="0.7464" stop-color="#053061"/><stop offset="0.7498" stop-color="#134b86"/><stop offset="0.7521" stop-color="#1e60a4"/><stop offset="0.7532" stop-color="#2469ae"/><stop offset="0.7566" stop-color="#317bb7"/><stop offset="0.7600" stop-color="#3079b6"/><stop offset="0.7633" stop-color="#2267ad"/><stop offset="0.7690" stop-color="#0b3b70"/><stop offset="0.7701" stop-color="#073568"/><stop offset="0.7769" stop-color="#134b86"/><stop offset="0.7802" stop-color="#124984"/><stop offset="0.7859" stop-color="#063263"/><stop offset="0.7893" stop-color="#063163"/><stop offset="0.7938" stop-color="#16518f"/><stop offset="0.7960" stop-color="#2063a8"/><stop offset="0.7994" stop-color="#2b73b3"/><stop offset="0.8028" stop-color="#2a72b2"/><stop offset="0.8051" stop-color="#2268ad"/><stop offset="0.8118" stop-color="#053162"/><stop offset="1.0001" stop-color="#053061"/></linearGradient><linearGradient id="h20" gradientUnits="userSpaceOnUse" x1="159.7" y1="0" x2="1046.6" y2="0"><stop offset="0.0000" stop-color="#053061"/><stop offset="0.2661" stop-color="#053061"/><stop offset="0.2717" stop-color="#175391"/><stop offset="0.2740" stop-color="#2063a8"/><stop offset="0.2808" stop-color="#3c89be"/><stop offset="0.2853" stop-color="#4393c3"/><stop offset="0.2898" stop-color="#3c8abf"/><stop offset="0.2965" stop-color="#2165ab"/><stop offset="0.3033" stop-color="#09376b"/><stop offset="0.3044" stop-color="#063162"/><stop offset="0.4104" stop-color="#053061"/><stop offset="0.4115" stop-color="#083669"/><stop offset="0.4161" stop-color="#2166ac"/><stop offset="0.4183" stop-color="#2b73b3"/><stop offset="0.4206" stop-color="#2b73b3"/><stop offset="0.4228" stop-color="#2267ad"/><stop offset="0.4273" stop-color="#09386c"/><stop offset="0.4285" stop-color="#053061"/><stop offset="0.4330" stop-color="#053061"/><stop offset="0.4341" stop-color="#073467"/><stop offset="0.4364" stop-color="#15508d"/><stop offset="0.4375" stop-color="#1f61a5"/><stop offset="0.4409" stop-color="#4695c4"/><stop offset="0.4431" stop-color="#78b4d5"/><stop offset="0.4442" stop-color="#88bfdb"/><stop offset="0.4454" stop-color="#91c4de"/><stop offset="0.4465" stop-color="#91c4de"/><stop offset="0.4476" stop-color="#88bfdb"/><stop offset="0.4488" stop-color="#77b4d5"/><stop offset="0.4510" stop-color="#4594c4"/><stop offset="0.4533" stop-color="#2a72b2"/><stop offset="0.4544" stop-color="#1e61a5"/><stop offset="0.4566" stop-color="#0d4077"/><stop offset="0.4578" stop-color="#073365"/><stop offset="0.4612" stop-color="#053061"/><stop offset="0.4713" stop-color="#053061"/><stop offset="0.4724" stop-color="#0b3b71"/><stop offset="0.4747" stop-color="#1e60a4"/><stop offset="0.4769" stop-color="#3e8dc0"/><stop offset="0.4781" stop-color="#63a7ce"/><stop offset="0.4792" stop-color="#90c3dd"/><stop offset="0.4815" stop-color="#d0e4f0"/><stop offset="0.4837" stop-color="#e7f0f4"/><stop offset="0.4848" stop-color="#eaf1f5"/><stop offset="0.4871" stop-color="#deebf2"/><stop offset="0.4882" stop-color="#d0e4f0"/><stop offset="0.4905" stop-color="#90c3dd"/><stop offset="0.4916" stop-color="#63a7ce"/><stop offset="0.4927" stop-color="#3e8dc0"/><stop offset="0.4950" stop-color="#1e60a4"/><stop offset="0.4972" stop-color="#0b3b71"/><stop offset="0.4984" stop-color="#053061"/><stop offset="0.5773" stop-color="#053061"/><stop offset="0.5807" stop-color="#0c3e74"/><stop offset="0.5818" stop-color="#0b3b70"/><stop offset="0.5841" stop-color="#053061"/><stop offset="0.6743" stop-color="#053061"/><stop offset="0.6754" stop-color="#08366a"/><stop offset="0.6788" stop-color="#1d5ea0"/><stop offset="0.6799" stop-color="#246aae"/><stop offset="0.6822" stop-color="#3079b6"/><stop offset="0.6844" stop-color="#317cb7"/><stop offset="0.6878" stop-color="#2166ab"/><stop offset="0.6923" stop-color="#063264"/><stop offset="0.7430" stop-color="#053061"/><stop offset="0.7464" stop-color="#10457e"/><stop offset="0.7509" stop-color="#1e61a4"/><stop offset="0.7543" stop-color="#2165ab"/><stop offset="0.7577" stop-color="#1a599a"/><stop offset="0.7633" stop-color="#063264"/><stop offset="0.7904" stop-color="#063162"/><stop offset="0.7972" stop-color="#2063a8"/><stop offset="0.8005" stop-color="#276db0"/><stop offset="0.8039" stop-color="#2267ac"/><stop offset="0.8084" stop-color="#114781"/><stop offset="0.8118" stop-color="#053061"/><stop offset="1.0001" stop-color="#053061"/></linearGradient><linearGradient id="h21" gradientUnits="userSpaceOnUse" x1="159.7" y1="0" x2="1046.6" y2="0"><stop offset="0.0000" stop-color="#053061"/><stop offset="0.2796" stop-color="#053061"/><stop offset="0.2819" stop-color="#0c3e74"/><stop offset="0.2864" stop-color="#266caf"/><stop offset="0.2898" stop-color="#4191c2"/><stop offset="0.2943" stop-color="#8dc2dc"/><stop offset="0.2965" stop-color="#a1cde2"/><stop offset="0.2988" stop-color="#a7d0e4"/><stop offset="0.3010" stop-color="#a0cce2"/><stop offset="0.3033" stop-color="#8ac0db"/><stop offset="0.3078" stop-color="#408fc1"/><stop offset="0.3112" stop-color="#246aae"/><stop offset="0.3157" stop-color="#0b3c72"/><stop offset="0.3168" stop-color="#073366"/><stop offset="0.3191" stop-color="#053061"/><stop offset="0.4070" stop-color="#053061"/><stop offset="0.4082" stop-color="#083569"/><stop offset="0.4127" stop-color="#2166ab"/><stop offset="0.4149" stop-color="#2b73b3"/><stop offset="0.4172" stop-color="#2b74b3"/><stop offset="0.4194" stop-color="#2267ad"/><stop offset="0.4239" stop-color="#09386c"/><stop offset="0.4251" stop-color="#053061"/><stop offset="0.4330" stop-color="#053061"/><stop offset="0.4341" stop-color="#073467"/><stop offset="0.4364" stop-color="#16508e"/><stop offset="0.4375" stop-color="#1f62a7"/><stop offset="0.4409" stop-color="#4796c5"/><stop offset="0.4431" stop-color="#79b5d6"/><stop offset="0.4442" stop-color="#89bfdb"/><stop offset="0.4454" stop-color="#91c4de"/><stop offset="0.4465" stop-color="#91c4de"/><stop offset="0.4476" stop-color="#87beda"/><stop offset="0.4488" stop-color="#76b3d4"/><stop offset="0.4510" stop-color="#4393c3"/><stop offset="0.4533" stop-color="#2971b2"/><stop offset="0.4544" stop-color="#1e5fa3"/><stop offset="0.4566" stop-color="#0d3f75"/><stop offset="0.4578" stop-color="#063264"/><stop offset="0.4724" stop-color="#053061"/><stop offset="0.4736" stop-color="#0a3a6f"/><stop offset="0.4758" stop-color="#1d5ea1"/><stop offset="0.4781" stop-color="#3d8bbf"/><stop offset="0.4792" stop-color="#60a6cd"/><stop offset="0.4803" stop-color="#8dc2dc"/><stop offset="0.4826" stop-color="#d0e4f0"/><stop offset="0.4848" stop-color="#e9f1f4"/><stop offset="0.4860" stop-color="#edf2f5"/><stop offset="0.4871" stop-color="#ebf1f5"/><stop offset="0.4893" stop-color="#d5e7f1"/><stop offset="0.4905" stop-color="#bbdaea"/><stop offset="0.4916" stop-color="#99c9e0"/><stop offset="0.4939" stop-color="#4292c3"/><stop offset="0.4961" stop-color="#2165ab"/><stop offset="0.4984" stop-color="#0c3e75"/><stop offset="0.4995" stop-color="#053162"/><stop offset="0.5773" stop-color="#053061"/><stop offset="0.5807" stop-color="#0c3e74"/><stop offset="0.5818" stop-color="#0b3b70"/><stop offset="0.5841" stop-color="#053061"/><stop offset="0.6664" stop-color="#053061"/><stop offset="0.6675" stop-color="#073366"/><stop offset="0.6720" stop-color="#2063a8"/><stop offset="0.6743" stop-color="#2a72b2"/><stop offset="0.6765" stop-color="#2c74b3"/><stop offset="0.6788" stop-color="#2369ae"/><stop offset="0.6810" stop-color="#175291"/><stop offset="0.6844" stop-color="#053061"/><stop offset="0.7430" stop-color="#053061"/><stop offset="0.7475" stop-color="#114680"/><stop offset="0.7509" stop-color="#134b86"/><stop offset="0.7543" stop-color="#0d4077"/><stop offset="0.7577" stop-color="#053061"/><stop offset="0.7926" stop-color="#063263"/><stop offset="0.7983" stop-color="#195797"/><stop offset="0.8005" stop-color="#1c5d9f"/><stop offset="0.8028" stop-color="#1b5a9b"/><stop offset="0.8062" stop-color="#114780"/><stop offset="0.8096" stop-color="#053061"/><stop offset="1.0001" stop-color="#053061"/></linearGradient><linearGradient id="h22" gradientUnits="userSpaceOnUse" x1="159.7" y1="0" x2="1046.6" y2="0"><stop offset="0.0000" stop-color="#053061"/><stop offset="0.2898" stop-color="#053061"/><stop offset="0.2932" stop-color="#165290"/><stop offset="0.2943" stop-color="#1e61a5"/><stop offset="0.2977" stop-color="#4190c2"/><stop offset="0.3010" stop-color="#99c9e0"/><stop offset="0.3033" stop-color="#c5dfed"/><stop offset="0.3044" stop-color="#d4e7f1"/><stop offset="0.3078" stop-color="#e4eef3"/><stop offset="0.3101" stop-color="#dfecf3"/><stop offset="0.3123" stop-color="#cce3ef"/><stop offset="0.3146" stop-color="#a3cee3"/><stop offset="0.3168" stop-color="#6aacd0"/><stop offset="0.3180" stop-color="#4b98c6"/><stop offset="0.3202" stop-color="#2d76b4"/><stop offset="0.3213" stop-color="#2267ad"/><stop offset="0.3247" stop-color="#0c3d74"/><stop offset="0.3259" stop-color="#073366"/><stop offset="0.3281" stop-color="#053061"/><stop offset="0.4025" stop-color="#053061"/><stop offset="0.4070" stop-color="#1d5fa2"/><stop offset="0.4082" stop-color="#246aae"/><stop offset="0.4115" stop-color="#327cb7"/><stop offset="0.4138" stop-color="#2f79b6"/><stop offset="0.4161" stop-color="#246aae"/><stop offset="0.4183" stop-color="#175291"/><stop offset="0.4217" stop-color="#053061"/><stop offset="0.4330" stop-color="#053061"/><stop offset="0.4341" stop-color="#073568"/><stop offset="0.4364" stop-color="#16518f"/><stop offset="0.4375" stop-color="#2063a8"/><stop offset="0.4409" stop-color="#4997c5"/><stop offset="0.4431" stop-color="#7ab6d6"/><stop offset="0.4442" stop-color="#8ac0db"/><stop offset="0.4454" stop-color="#91c5de"/><stop offset="0.4465" stop-color="#90c4dd"/><stop offset="0.4476" stop-color="#86beda"/><stop offset="0.4488" stop-color="#75b3d4"/><stop offset="0.4510" stop-color="#4292c2"/><stop offset="0.4533" stop-color="#2870b1"/><stop offset="0.4544" stop-color="#1d5ea1"/><stop offset="0.4566" stop-color="#0c3e74"/><stop offset="0.4578" stop-color="#063263"/><stop offset="0.4736" stop-color="#053061"/><stop offset="0.4747" stop-color="#09386d"/><stop offset="0.4769" stop-color="#1c5c9e"/><stop offset="0.4781" stop-color="#2a72b2"/><stop offset="0.4792" stop-color="#3b89be"/><stop offset="0.4803" stop-color="#5da4cc"/><stop offset="0.4815" stop-color="#8bc0dc"/><stop offset="0.4837" stop-color="#d0e5f0"/><stop offset="0.4860" stop-color="#ebf1f5"/><stop offset="0.4871" stop-color="#f0f4f6"/><stop offset="0.4882" stop-color="#eff3f6"/><stop offset="0.4905" stop-color="#dbeaf2"/><stop offset="0.4916" stop-color="#c4deec"/><stop offset="0.4927" stop-color="#a2cde3"/><stop offset="0.4950" stop-color="#4b98c6"/><stop offset="0.4961" stop-color="#347fb9"/><stop offset="0.4972" stop-color="#2469ae"/><stop offset="0.4995" stop-color="#0e4179"/><stop offset="0.5006" stop-color="#073365"/><stop offset="0.5040" stop-color="#053061"/><stop offset="0.5773" stop-color="#053061"/><stop offset="0.5807" stop-color="#0c3e74"/><stop offset="0.5818" stop-color="#0b3b70"/><stop offset="0.5841" stop-color="#053061"/><stop offset="0.6585" stop-color="#053061"/><stop offset="0.6641" stop-color="#2165ab"/><stop offset="0.6664" stop-color="#276db0"/><stop offset="0.6686" stop-color="#2369ae"/><stop offset="0.6697" stop-color="#1f62a6"/><stop offset="0.6743" stop-color="#08366a"/><stop offset="0.6754" stop-color="#053061"/><stop offset="0.7397" stop-color="#053061"/><stop offset="0.7442" stop-color="#0a396d"/><stop offset="0.7509" stop-color="#053061"/><stop offset="0.7926" stop-color="#053061"/><stop offset="0.7983" stop-color="#154f8c"/><stop offset="0.8017" stop-color="#175392"/><stop offset="0.8051" stop-color="#114781"/><stop offset="0.8084" stop-color="#063264"/><stop offset="1.0001" stop-color="#053061"/></linearGradient><linearGradient id="h23" gradientUnits="userSpaceOnUse" x1="159.7" y1="0" x2="1046.6" y2="0"><stop offset="0.0000" stop-color="#053061"/><stop offset="0.3033" stop-color="#053061"/><stop offset="0.3044" stop-color="#083568"/><stop offset="0.3067" stop-color="#16508e"/><stop offset="0.3078" stop-color="#1f63a7"/><stop offset="0.3101" stop-color="#3b89be"/><stop offset="0.3112" stop-color="#58a1ca"/><stop offset="0.3135" stop-color="#a8d0e4"/><stop offset="0.3146" stop-color="#cae2ee"/><stop offset="0.3168" stop-color="#f3f5f6"/><stop offset="0.3191" stop-color="#fae7db"/><stop offset="0.3213" stop-color="#fce0cf"/><stop offset="0.3236" stop-color="#fae7db"/><stop offset="0.3259" stop-color="#f3f5f6"/><stop offset="0.3281" stop-color="#cae2ee"/><stop offset="0.3304" stop-color="#82bbd9"/><stop offset="0.3315" stop-color="#58a1ca"/><stop offset="0.3326" stop-color="#3b89be"/><stop offset="0.3349" stop-color="#1f63a7"/><stop offset="0.3371" stop-color="#0e4179"/><stop offset="0.3383" stop-color="#083568"/><stop offset="0.3394" stop-color="#053061"/><stop offset="0.3969" stop-color="#053061"/><stop offset="0.3980" stop-color="#073466"/><stop offset="0.4025" stop-color="#2064a9"/><stop offset="0.4059" stop-color="#337eb8"/><stop offset="0.4082" stop-color="#3884bb"/><stop offset="0.4115" stop-color="#2d76b4"/><stop offset="0.4138" stop-color="#1f61a6"/><stop offset="0.4183" stop-color="#063264"/><stop offset="0.4330" stop-color="#053061"/><stop offset="0.4341" stop-color="#083568"/><stop offset="0.4364" stop-color="#175291"/><stop offset="0.4375" stop-color="#2065aa"/><stop offset="0.4397" stop-color="#3a87bd"/><stop offset="0.4409" stop-color="#4b98c6"/><stop offset="0.4431" stop-color="#7cb7d6"/><stop offset="0.4442" stop-color="#8bc0db"/><stop offset="0.4454" stop-color="#92c5de"/><stop offset="0.4465" stop-color="#90c4dd"/><stop offset="0.4476" stop-color="#86bdda"/><stop offset="0.4488" stop-color="#74b2d4"/><stop offset="0.4510" stop-color="#4191c2"/><stop offset="0.4533" stop-color="#286fb0"/><stop offset="0.4544" stop-color="#1c5da0"/><stop offset="0.4566" stop-color="#0c3d73"/><stop offset="0.4578" stop-color="#053162"/><stop offset="0.4758" stop-color="#053061"/><stop offset="0.4769" stop-color="#0a3b70"/><stop offset="0.4792" stop-color="#1e5fa3"/><stop offset="0.4815" stop-color="#3e8cbf"/><stop offset="0.4826" stop-color="#62a7ce"/><stop offset="0.4837" stop-color="#90c3dd"/><stop offset="0.4860" stop-color="#d1e5f0"/><stop offset="0.4882" stop-color="#eaf1f5"/><stop offset="0.4893" stop-color="#edf2f5"/><stop offset="0.4905" stop-color="#ebf1f5"/><stop offset="0.4927" stop-color="#d5e7f1"/><stop offset="0.4939" stop-color="#b9d9e9"/><stop offset="0.4950" stop-color="#97c8df"/><stop offset="0.4972" stop-color="#4191c2"/><stop offset="0.4995" stop-color="#2064a9"/><stop offset="0.5017" stop-color="#0c3d74"/><stop offset="0.5029" stop-color="#053061"/><stop offset="0.5773" stop-color="#053061"/><stop offset="0.5807" stop-color="#0c3e74"/><stop offset="0.5818" stop-color="#0b3b70"/><stop offset="0.5841" stop-color="#053061"/><stop offset="0.6461" stop-color="#053061"/><stop offset="0.6506" stop-color="#16518f"/><stop offset="0.6528" stop-color="#175392"/><stop offset="0.6551" stop-color="#114882"/><stop offset="0.6573" stop-color="#083568"/><stop offset="0.6585" stop-color="#053061"/><stop offset="0.7938" stop-color="#053061"/><stop offset="0.7983" stop-color="#114680"/><stop offset="0.8017" stop-color="#134b86"/><stop offset="0.8051" stop-color="#0d4077"/><stop offset="0.8084" stop-color="#053061"/><stop offset="1.0001" stop-color="#053061"/></linearGradient><linearGradient id="h24" gradientUnits="userSpaceOnUse" x1="159.7" y1="0" x2="1046.6" y2="0"><stop offset="0.0000" stop-color="#053061"/><stop offset="0.3112" stop-color="#053061"/><stop offset="0.3135" stop-color="#124983"/><stop offset="0.3157" stop-color="#276eb0"/><stop offset="0.3168" stop-color="#3682ba"/><stop offset="0.3180" stop-color="#4f9bc7"/><stop offset="0.3202" stop-color="#a8d0e4"/><stop offset="0.3213" stop-color="#d1e5f0"/><stop offset="0.3225" stop-color="#e9f1f5"/><stop offset="0.3236" stop-color="#f9f0ea"/><stop offset="0.3259" stop-color="#facbb2"/><stop offset="0.3270" stop-color="#f7b799"/><stop offset="0.3281" stop-color="#f5aa88"/><stop offset="0.3292" stop-color="#f4a582"/><stop offset="0.3304" stop-color="#f5a886"/><stop offset="0.3315" stop-color="#f6b495"/><stop offset="0.3326" stop-color="#fac6ac"/><stop offset="0.3337" stop-color="#fdddca"/><stop offset="0.3349" stop-color="#f9ece5"/><stop offset="0.3360" stop-color="#eef3f5"/><stop offset="0.3371" stop-color="#d6e7f1"/><stop offset="0.3394" stop-color="#86beda"/><stop offset="0.3405" stop-color="#58a0ca"/><stop offset="0.3416" stop-color="#3a87bd"/><stop offset="0.3428" stop-color="#2a72b2"/><stop offset="0.3439" stop-color="#1d5ea1"/><stop offset="0.3461" stop-color="#0c3d73"/><stop offset="0.3473" stop-color="#063163"/><stop offset="0.3924" stop-color="#063264"/><stop offset="0.3969" stop-color="#1f61a6"/><stop offset="0.3991" stop-color="#2d76b4"/><stop offset="0.4025" stop-color="#3884bb"/><stop offset="0.4059" stop-color="#2e78b5"/><stop offset="0.4082" stop-color="#2064a9"/><stop offset="0.4127" stop-color="#073466"/><stop offset="0.4149" stop-color="#053061"/><stop offset="0.4330" stop-color="#063163"/><stop offset="0.4352" stop-color="#144d89"/><stop offset="0.4364" stop-color="#1d5ea1"/><stop offset="0.4375" stop-color="#2870b1"/><stop offset="0.4397" stop-color="#4292c2"/><stop offset="0.4420" stop-color="#75b2d4"/><stop offset="0.4431" stop-color="#86beda"/><stop offset="0.4442" stop-color="#90c4dd"/><stop offset="0.4454" stop-color="#91c5de"/><stop offset="0.4465" stop-color="#8ac0db"/><stop offset="0.4476" stop-color="#7bb6d6"/><stop offset="0.4499" stop-color="#4a97c5"/><stop offset="0.4533" stop-color="#2064a9"/><stop offset="0.4555" stop-color="#0e427a"/><stop offset="0.4566" stop-color="#073568"/><stop offset="0.4578" stop-color="#053061"/><stop offset="0.4781" stop-color="#053061"/><stop offset="0.4803" stop-color="#144e8a"/><stop offset="0.4815" stop-color="#1f63a7"/><stop offset="0.4837" stop-color="#408fc1"/><stop offset="0.4860" stop-color="#94c6de"/><stop offset="0.4882" stop-color="#d2e5f0"/><stop offset="0.4905" stop-color="#e8f0f4"/><stop offset="0.4916" stop-color="#eaf1f5"/><stop offset="0.4939" stop-color="#ddebf2"/><stop offset="0.4950" stop-color="#cde3ef"/><stop offset="0.4972" stop-color="#8bc1dc"/><stop offset="0.4984" stop-color="#5fa5cd"/><stop offset="0.4995" stop-color="#3c8abf"/><stop offset="0.5006" stop-color="#2b74b3"/><stop offset="0.5017" stop-color="#1d5ea1"/><stop offset="0.5040" stop-color="#0a3a6f"/><stop offset="0.5051" stop-color="#053061"/><stop offset="0.5773" stop-color="#053061"/><stop offset="0.5807" stop-color="#0c3e74"/><stop offset="0.5818" stop-color="#0b3b70"/><stop offset="0.5841" stop-color="#053061"/><stop offset="0.6404" stop-color="#063163"/><stop offset="0.6427" stop-color="#0a396d"/><stop offset="0.6449" stop-color="#073567"/><stop offset="0.6461" stop-color="#053061"/><stop offset="0.7938" stop-color="#053062"/><stop offset="0.7983" stop-color="#0e4178"/><stop offset="0.8017" stop-color="#0d4077"/><stop offset="0.8062" stop-color="#053061"/><stop offset="1.0001" stop-color="#053061"/></linearGradient><linearGradient id="h25" gradientUnits="userSpaceOnUse" x1="159.7" y1="0" x2="1046.6" y2="0"><stop offset="0.0000" stop-color="#053061"/><stop offset="0.3191" stop-color="#053061"/><stop offset="0.3202" stop-color="#083669"/><stop offset="0.3225" stop-color="#175290"/><stop offset="0.3236" stop-color="#2065aa"/><stop offset="0.3259" stop-color="#3e8dc0"/><stop offset="0.3270" stop-color="#61a6cd"/><stop offset="0.3281" stop-color="#8ec2dd"/><stop offset="0.3304" stop-color="#d6e7f1"/><stop offset="0.3315" stop-color="#ebf2f5"/><stop offset="0.3326" stop-color="#f8f1ed"/><stop offset="0.3349" stop-color="#fddbc7"/><stop offset="0.3360" stop-color="#fbceb7"/><stop offset="0.3371" stop-color="#fac9b0"/><stop offset="0.3383" stop-color="#facbb3"/><stop offset="0.3405" stop-color="#fce0d0"/><stop offset="0.3428" stop-color="#f4f5f6"/><stop offset="0.3439" stop-color="#dfebf3"/><stop offset="0.3450" stop-color="#c3deec"/><stop offset="0.3461" stop-color="#9dcbe1"/><stop offset="0.3484" stop-color="#4896c5"/><stop offset="0.3507" stop-color="#266caf"/><stop offset="0.3540" stop-color="#0a3a6f"/><stop offset="0.3552" stop-color="#053061"/><stop offset="0.3867" stop-color="#053061"/><stop offset="0.3913" stop-color="#1d5fa2"/><stop offset="0.3924" stop-color="#246bae"/><stop offset="0.3958" stop-color="#3681ba"/><stop offset="0.3980" stop-color="#3783bb"/><stop offset="0.4014" stop-color="#2971b1"/><stop offset="0.4025" stop-color="#2166ac"/><stop offset="0.4070" stop-color="#083669"/><stop offset="0.4082" stop-color="#053061"/><stop offset="0.4318" stop-color="#053061"/><stop offset="0.4330" stop-color="#0a396e"/><stop offset="0.4364" stop-color="#246aae"/><stop offset="0.4386" stop-color="#3e8cbf"/><stop offset="0.4420" stop-color="#81bad8"/><stop offset="0.4431" stop-color="#8ec2dd"/><stop offset="0.4442" stop-color="#92c5de"/><stop offset="0.4454" stop-color="#8ec2dd"/><stop offset="0.4465" stop-color="#81bad8"/><stop offset="0.4499" stop-color="#3e8cbf"/><stop offset="0.4521" stop-color="#246aae"/><stop offset="0.4555" stop-color="#0a396e"/><stop offset="0.4566" stop-color="#053061"/><stop offset="0.4803" stop-color="#053061"/><stop offset="0.4826" stop-color="#154e8b"/><stop offset="0.4837" stop-color="#1f63a8"/><stop offset="0.4860" stop-color="#3f8ec0"/><stop offset="0.4882" stop-color="#8cc1dc"/><stop offset="0.4905" stop-color="#c6dfed"/><stop offset="0.4916" stop-color="#d6e7f1"/><stop offset="0.4939" stop-color="#ddebf2"/><stop offset="0.4950" stop-color="#d8e9f1"/><stop offset="0.4961" stop-color="#cce3ef"/><stop offset="0.4984" stop-color="#97c7df"/><stop offset="0.5006" stop-color="#4695c4"/><stop offset="0.5029" stop-color="#2369ae"/><stop offset="0.5051" stop-color="#0e427a"/><stop offset="0.5063" stop-color="#073467"/><stop offset="0.5085" stop-color="#053061"/><stop offset="0.5773" stop-color="#053061"/><stop offset="0.5807" stop-color="#0c3e74"/><stop offset="0.5818" stop-color="#0b3b70"/><stop offset="0.5841" stop-color="#053061"/><stop offset="0.7938" stop-color="#053061"/><stop offset="0.7983" stop-color="#0a396d"/><stop offset="0.8051" stop-color="#053061"/><stop offset="1.0001" stop-color="#053061"/></linearGradient><linearGradient id="h26" gradientUnits="userSpaceOnUse" x1="159.7" y1="0" x2="1046.6" y2="0"><stop offset="0.0000" stop-color="#053061"/><stop offset="0.3236" stop-color="#053061"/><stop offset="0.3247" stop-color="#073365"/><stop offset="0.3281" stop-color="#175392"/><stop offset="0.3292" stop-color="#1e61a5"/><stop offset="0.3326" stop-color="#3c89be"/><stop offset="0.3337" stop-color="#4a97c5"/><stop offset="0.3371" stop-color="#8ac0db"/><stop offset="0.3394" stop-color="#a0cce2"/><stop offset="0.3416" stop-color="#a7d0e4"/><stop offset="0.3439" stop-color="#9dcbe1"/><stop offset="0.3450" stop-color="#93c5de"/><stop offset="0.3473" stop-color="#6eaed2"/><stop offset="0.3495" stop-color="#4292c2"/><stop offset="0.3529" stop-color="#2469ae"/><stop offset="0.3574" stop-color="#09386d"/><stop offset="0.3586" stop-color="#053061"/><stop offset="0.3811" stop-color="#053061"/><stop offset="0.3856" stop-color="#1d5fa2"/><stop offset="0.3867" stop-color="#246bae"/><stop offset="0.3901" stop-color="#3681ba"/><stop offset="0.3924" stop-color="#3783bb"/><stop offset="0.3958" stop-color="#2971b1"/><stop offset="0.3969" stop-color="#2166ac"/><stop offset="0.4014" stop-color="#083669"/><stop offset="0.4025" stop-color="#053061"/><stop offset="0.4307" stop-color="#053061"/><stop offset="0.4318" stop-color="#073568"/><stop offset="0.4341" stop-color="#165290"/><stop offset="0.4352" stop-color="#2064a9"/><stop offset="0.4386" stop-color="#4a97c5"/><stop offset="0.4409" stop-color="#7bb6d6"/><stop offset="0.4420" stop-color="#8ac0db"/><stop offset="0.4431" stop-color="#91c5de"/><stop offset="0.4442" stop-color="#90c4dd"/><stop offset="0.4454" stop-color="#86beda"/><stop offset="0.4465" stop-color="#75b2d4"/><stop offset="0.4488" stop-color="#4292c2"/><stop offset="0.4510" stop-color="#2870b1"/><stop offset="0.4521" stop-color="#1d5ea1"/><stop offset="0.4544" stop-color="#0c3e74"/><stop offset="0.4555" stop-color="#063163"/><stop offset="0.4826" stop-color="#063162"/><stop offset="0.4848" stop-color="#154f8c"/><stop offset="0.4860" stop-color="#1f63a7"/><stop offset="0.4882" stop-color="#3d8cbf"/><stop offset="0.4893" stop-color="#5ca3cc"/><stop offset="0.4905" stop-color="#82bbd9"/><stop offset="0.4916" stop-color="#a1cde2"/><stop offset="0.4927" stop-color="#b8d8e9"/><stop offset="0.4939" stop-color="#c8e1ee"/><stop offset="0.4950" stop-color="#d0e5f0"/><stop offset="0.4961" stop-color="#cfe4f0"/><stop offset="0.4972" stop-color="#c6dfed"/><stop offset="0.4984" stop-color="#b4d6e8"/><stop offset="0.4995" stop-color="#9ccae1"/><stop offset="0.5017" stop-color="#559ec9"/><stop offset="0.5029" stop-color="#3a87bd"/><stop offset="0.5040" stop-color="#2a72b2"/><stop offset="0.5051" stop-color="#1d5ea1"/><stop offset="0.5074" stop-color="#0b3b71"/><stop offset="0.5085" stop-color="#053061"/><stop offset="0.5773" stop-color="#053061"/><stop offset="0.5807" stop-color="#0c3e74"/><stop offset="0.5818" stop-color="#0b3b70"/><stop offset="0.5841" stop-color="#053061"/><stop offset="1.0001" stop-color="#053061"/></linearGradient><linearGradient id="h27" gradientUnits="userSpaceOnUse" x1="159.7" y1="0" x2="1046.6" y2="0"><stop offset="0.0000" stop-color="#053061"/><stop offset="0.3213" stop-color="#053061"/><stop offset="0.3270" stop-color="#165290"/><stop offset="0.3304" stop-color="#2469ae"/><stop offset="0.3371" stop-color="#3b88be"/><stop offset="0.3405" stop-color="#4393c3"/><stop offset="0.3439" stop-color="#509bc7"/><stop offset="0.3473" stop-color="#4594c4"/><stop offset="0.3529" stop-color="#2a72b2"/><stop offset="0.3552" stop-color="#1e60a4"/><stop offset="0.3608" stop-color="#073467"/><stop offset="0.3631" stop-color="#053061"/><stop offset="0.3755" stop-color="#053061"/><stop offset="0.3766" stop-color="#073365"/><stop offset="0.3811" stop-color="#1f63a7"/><stop offset="0.3845" stop-color="#337eb8"/><stop offset="0.3867" stop-color="#3884bb"/><stop offset="0.3901" stop-color="#2e77b5"/><stop offset="0.3924" stop-color="#1f63a7"/><stop offset="0.3969" stop-color="#063365"/><stop offset="0.4014" stop-color="#053061"/><stop offset="0.4307" stop-color="#053162"/><stop offset="0.4330" stop-color="#134c88"/><stop offset="0.4341" stop-color="#1c5da0"/><stop offset="0.4352" stop-color="#286fb0"/><stop offset="0.4375" stop-color="#4191c2"/><stop offset="0.4397" stop-color="#74b2d4"/><stop offset="0.4409" stop-color="#86bdda"/><stop offset="0.4420" stop-color="#90c4dd"/><stop offset="0.4431" stop-color="#92c5de"/><stop offset="0.4442" stop-color="#8bc0db"/><stop offset="0.4454" stop-color="#7cb7d6"/><stop offset="0.4476" stop-color="#4b98c6"/><stop offset="0.4499" stop-color="#2d75b4"/><stop offset="0.4510" stop-color="#2065aa"/><stop offset="0.4533" stop-color="#0f437b"/><stop offset="0.4544" stop-color="#083568"/><stop offset="0.4555" stop-color="#053061"/><stop offset="0.4893" stop-color="#053061"/><stop offset="0.4905" stop-color="#083568"/><stop offset="0.4927" stop-color="#175291"/><stop offset="0.4939" stop-color="#2065aa"/><stop offset="0.4961" stop-color="#3a87bd"/><stop offset="0.4972" stop-color="#4b98c6"/><stop offset="0.4995" stop-color="#7cb7d6"/><stop offset="0.5006" stop-color="#8bc0db"/><stop offset="0.5017" stop-color="#92c5de"/><stop offset="0.5029" stop-color="#90c4dd"/><stop offset="0.5040" stop-color="#86bdda"/><stop offset="0.5051" stop-color="#74b2d4"/><stop offset="0.5074" stop-color="#4191c2"/><stop offset="0.5096" stop-color="#286fb0"/><stop offset="0.5108" stop-color="#1c5da0"/><stop offset="0.5130" stop-color="#0c3d73"/><stop offset="0.5142" stop-color="#053162"/><stop offset="0.5773" stop-color="#053061"/><stop offset="0.5807" stop-color="#0c3e74"/><stop offset="0.5818" stop-color="#0b3b70"/><stop offset="0.5841" stop-color="#053061"/><stop offset="1.0001" stop-color="#053061"/></linearGradient><linearGradient id="h28" gradientUnits="userSpaceOnUse" x1="159.7" y1="0" x2="1046.6" y2="0"><stop offset="0.0000" stop-color="#053061"/><stop offset="0.3213" stop-color="#053061"/><stop offset="0.3315" stop-color="#2268ad"/><stop offset="0.3371" stop-color="#2c75b4"/><stop offset="0.3428" stop-color="#246aae"/><stop offset="0.3450" stop-color="#1e60a3"/><stop offset="0.3529" stop-color="#073366"/><stop offset="0.3552" stop-color="#053061"/><stop offset="0.3608" stop-color="#053061"/><stop offset="0.3619" stop-color="#073466"/><stop offset="0.3653" stop-color="#185695"/><stop offset="0.3664" stop-color="#2064aa"/><stop offset="0.3698" stop-color="#4190c2"/><stop offset="0.3732" stop-color="#8ac0db"/><stop offset="0.3755" stop-color="#a9d1e5"/><stop offset="0.3777" stop-color="#b6d7e8"/><stop offset="0.3800" stop-color="#b0d4e7"/><stop offset="0.3822" stop-color="#97c7df"/><stop offset="0.3845" stop-color="#67aacf"/><stop offset="0.3856" stop-color="#4c99c6"/><stop offset="0.3890" stop-color="#276eb0"/><stop offset="0.3901" stop-color="#1d5ea1"/><stop offset="0.3935" stop-color="#073467"/><stop offset="0.3958" stop-color="#053061"/><stop offset="0.4285" stop-color="#053061"/><stop offset="0.4296" stop-color="#073365"/><stop offset="0.4318" stop-color="#154f8c"/><stop offset="0.4330" stop-color="#1e61a5"/><stop offset="0.4352" stop-color="#3783bb"/><stop offset="0.4364" stop-color="#4594c4"/><stop offset="0.4386" stop-color="#78b4d5"/><stop offset="0.4397" stop-color="#88bfdb"/><stop offset="0.4409" stop-color="#91c4de"/><stop offset="0.4420" stop-color="#91c4de"/><stop offset="0.4431" stop-color="#88bfdb"/><stop offset="0.4442" stop-color="#78b4d5"/><stop offset="0.4465" stop-color="#4594c4"/><stop offset="0.4488" stop-color="#2a72b2"/><stop offset="0.4499" stop-color="#1e61a5"/><stop offset="0.4521" stop-color="#0d4077"/><stop offset="0.4533" stop-color="#073365"/><stop offset="0.4566" stop-color="#053061"/><stop offset="0.4961" stop-color="#053061"/><stop offset="0.4972" stop-color="#083568"/><stop offset="0.4995" stop-color="#175291"/><stop offset="0.5006" stop-color="#2065aa"/><stop offset="0.5029" stop-color="#3a87bd"/><stop offset="0.5040" stop-color="#4b98c6"/><stop offset="0.5063" stop-color="#7cb7d6"/><stop offset="0.5074" stop-color="#8bc0db"/><stop offset="0.5085" stop-color="#92c5de"/><stop offset="0.5096" stop-color="#90c4dd"/><stop offset="0.5108" stop-color="#86bdda"/><stop offset="0.5119" stop-color="#74b2d4"/><stop offset="0.5142" stop-color="#4191c2"/><stop offset="0.5164" stop-color="#286fb0"/><stop offset="0.5175" stop-color="#1c5da0"/><stop offset="0.5198" stop-color="#0c3d73"/><stop offset="0.5209" stop-color="#053162"/><stop offset="0.5773" stop-color="#053061"/><stop offset="0.5807" stop-color="#0c3e74"/><stop offset="0.5818" stop-color="#0b3b70"/><stop offset="0.5841" stop-color="#053061"/><stop offset="1.0001" stop-color="#053061"/></linearGradient><linearGradient id="h29" gradientUnits="userSpaceOnUse" x1="159.7" y1="0" x2="1046.6" y2="0"><stop offset="0.0000" stop-color="#053061"/><stop offset="0.3202" stop-color="#063163"/><stop offset="0.3281" stop-color="#2166ac"/><stop offset="0.3337" stop-color="#317bb7"/><stop offset="0.3383" stop-color="#2f78b5"/><stop offset="0.3428" stop-color="#1f63a8"/><stop offset="0.3495" stop-color="#08376a"/><stop offset="0.3518" stop-color="#053061"/><stop offset="0.3540" stop-color="#053162"/><stop offset="0.3552" stop-color="#0b3c72"/><stop offset="0.3563" stop-color="#144d89"/><stop offset="0.3574" stop-color="#1f63a8"/><stop offset="0.3586" stop-color="#317bb7"/><stop offset="0.3597" stop-color="#4a97c5"/><stop offset="0.3608" stop-color="#83bbd9"/><stop offset="0.3619" stop-color="#b8d8e9"/><stop offset="0.3631" stop-color="#e1edf3"/><stop offset="0.3642" stop-color="#f8f1ec"/><stop offset="0.3653" stop-color="#fddcc9"/><stop offset="0.3664" stop-color="#f8bda0"/><stop offset="0.3676" stop-color="#f4a683"/><stop offset="0.3687" stop-color="#ee9878"/><stop offset="0.3698" stop-color="#ef9a79"/><stop offset="0.3710" stop-color="#f5a987"/><stop offset="0.3721" stop-color="#f9c0a5"/><stop offset="0.3732" stop-color="#fdddca"/><stop offset="0.3743" stop-color="#f9eee8"/><stop offset="0.3755" stop-color="#ebf1f5"/><stop offset="0.3777" stop-color="#bad9e9"/><stop offset="0.3788" stop-color="#d6e7f1"/><stop offset="0.3811" stop-color="#f2f5f6"/><stop offset="0.3822" stop-color="#f6f7f7"/><stop offset="0.3834" stop-color="#f0f4f6"/><stop offset="0.3845" stop-color="#e0ecf3"/><stop offset="0.3856" stop-color="#c4dfec"/><stop offset="0.3867" stop-color="#96c7df"/><stop offset="0.3879" stop-color="#5aa2cb"/><stop offset="0.3890" stop-color="#347fb9"/><stop offset="0.3901" stop-color="#1f63a7"/><stop offset="0.3913" stop-color="#114782"/><stop offset="0.3924" stop-color="#073366"/><stop offset="0.3946" stop-color="#053061"/><stop offset="0.4273" stop-color="#053061"/><stop offset="0.4285" stop-color="#083568"/><stop offset="0.4307" stop-color="#175291"/><stop offset="0.4318" stop-color="#2065aa"/><stop offset="0.4341" stop-color="#3a87bd"/><stop offset="0.4352" stop-color="#4b98c6"/><stop offset="0.4375" stop-color="#7cb7d6"/><stop offset="0.4386" stop-color="#8bc0db"/><stop offset="0.4397" stop-color="#92c5de"/><stop offset="0.4409" stop-color="#90c4dd"/><stop offset="0.4420" stop-color="#86bdda"/><stop offset="0.4431" stop-color="#74b2d4"/><stop offset="0.4454" stop-color="#4191c2"/><stop offset="0.4476" stop-color="#286fb0"/><stop offset="0.4488" stop-color="#1c5da0"/><stop offset="0.4510" stop-color="#0c3d73"/><stop offset="0.4521" stop-color="#053162"/><stop offset="0.5017" stop-color="#053062"/><stop offset="0.5040" stop-color="#144c88"/><stop offset="0.5051" stop-color="#1d5ea1"/><stop offset="0.5063" stop-color="#2971b1"/><stop offset="0.5085" stop-color="#4896c5"/><stop offset="0.5108" stop-color="#84bcd9"/><stop offset="0.5119" stop-color="#98c8e0"/><stop offset="0.5130" stop-color="#a3cee3"/><stop offset="0.5142" stop-color="#a7d0e4"/><stop offset="0.5153" stop-color="#a3cee3"/><stop offset="0.5164" stop-color="#98c8e0"/><stop offset="0.5175" stop-color="#84bcd9"/><stop offset="0.5198" stop-color="#4896c5"/><stop offset="0.5220" stop-color="#2971b1"/><stop offset="0.5232" stop-color="#1d5ea1"/><stop offset="0.5254" stop-color="#0c3d73"/><stop offset="0.5266" stop-color="#053062"/><stop offset="0.5773" stop-color="#053061"/><stop offset="0.5807" stop-color="#0c3e74"/><stop offset="0.5818" stop-color="#0b3b70"/><stop offset="0.5841" stop-color="#053061"/><stop offset="1.0001" stop-color="#053061"/></linearGradient><linearGradient id="h30" gradientUnits="userSpaceOnUse" x1="159.7" y1="0" x2="1046.6" y2="0"><stop offset="0.0000" stop-color="#053061"/><stop offset="0.3168" stop-color="#053061"/><stop offset="0.3202" stop-color="#0f437b"/><stop offset="0.3247" stop-color="#2064aa"/><stop offset="0.3304" stop-color="#3580b9"/><stop offset="0.3349" stop-color="#3682ba"/><stop offset="0.3405" stop-color="#2369ad"/><stop offset="0.3484" stop-color="#063263"/><stop offset="0.3574" stop-color="#053061"/><stop offset="0.3586" stop-color="#0f437b"/><stop offset="0.3597" stop-color="#1d5fa2"/><stop offset="0.3608" stop-color="#337eb8"/><stop offset="0.3619" stop-color="#5aa2cb"/><stop offset="0.3631" stop-color="#96c7df"/><stop offset="0.3642" stop-color="#bedbeb"/><stop offset="0.3653" stop-color="#d6e7f1"/><stop offset="0.3676" stop-color="#ddebf2"/><stop offset="0.3687" stop-color="#f3f5f6"/><stop offset="0.3698" stop-color="#faeae1"/><stop offset="0.3710" stop-color="#fdd8c3"/><stop offset="0.3732" stop-color="#f09b7a"/><stop offset="0.3743" stop-color="#e27c63"/><stop offset="0.3755" stop-color="#d96752"/><stop offset="0.3766" stop-color="#d45c4b"/><stop offset="0.3777" stop-color="#d55f4c"/><stop offset="0.3788" stop-color="#db6c56"/><stop offset="0.3800" stop-color="#e68468"/><stop offset="0.3811" stop-color="#f3a280"/><stop offset="0.3834" stop-color="#fdd9c4"/><stop offset="0.3856" stop-color="#f8f4f1"/><stop offset="0.3867" stop-color="#fae9de"/><stop offset="0.3879" stop-color="#fbe6da"/><stop offset="0.3890" stop-color="#f9eee8"/><stop offset="0.3901" stop-color="#ebf1f5"/><stop offset="0.3913" stop-color="#c3deec"/><stop offset="0.3924" stop-color="#82bbd8"/><stop offset="0.3935" stop-color="#3e8dc0"/><stop offset="0.3946" stop-color="#246aae"/><stop offset="0.3958" stop-color="#134b86"/><stop offset="0.3969" stop-color="#08366a"/><stop offset="0.3980" stop-color="#073467"/><stop offset="0.4014" stop-color="#10457f"/><stop offset="0.4059" stop-color="#2166ac"/><stop offset="0.4104" stop-color="#2c75b4"/><stop offset="0.4138" stop-color="#286fb1"/><stop offset="0.4161" stop-color="#2064a9"/><stop offset="0.4217" stop-color="#0b3c72"/><stop offset="0.4239" stop-color="#063264"/><stop offset="0.4251" stop-color="#073568"/><stop offset="0.4273" stop-color="#134b86"/><stop offset="0.4296" stop-color="#256bae"/><stop offset="0.4318" stop-color="#3d8bbf"/><stop offset="0.4352" stop-color="#7cb7d6"/><stop offset="0.4364" stop-color="#88bfdb"/><stop offset="0.4375" stop-color="#8cc1dc"/><stop offset="0.4386" stop-color="#87beda"/><stop offset="0.4397" stop-color="#7ab6d6"/><stop offset="0.4420" stop-color="#4d99c6"/><stop offset="0.4442" stop-color="#2e78b5"/><stop offset="0.4454" stop-color="#2267ad"/><stop offset="0.4488" stop-color="#09386b"/><stop offset="0.4499" stop-color="#053061"/><stop offset="0.5040" stop-color="#053061"/><stop offset="0.5051" stop-color="#083568"/><stop offset="0.5074" stop-color="#1a5898"/><stop offset="0.5085" stop-color="#276eb0"/><stop offset="0.5096" stop-color="#3885bc"/><stop offset="0.5108" stop-color="#569fca"/><stop offset="0.5119" stop-color="#85bdda"/><stop offset="0.5142" stop-color="#d0e4f0"/><stop offset="0.5164" stop-color="#eff3f5"/><stop offset="0.5175" stop-color="#f6f6f7"/><stop offset="0.5187" stop-color="#f6f7f7"/><stop offset="0.5209" stop-color="#e5eef4"/><stop offset="0.5220" stop-color="#d4e6f1"/><stop offset="0.5243" stop-color="#8fc3dd"/><stop offset="0.5254" stop-color="#5fa5cd"/><stop offset="0.5266" stop-color="#3c8abe"/><stop offset="0.5277" stop-color="#2a72b2"/><stop offset="0.5288" stop-color="#1c5c9f"/><stop offset="0.5311" stop-color="#09386c"/><stop offset="0.5322" stop-color="#053061"/><stop offset="0.5750" stop-color="#053162"/><stop offset="0.5795" stop-color="#1e5fa3"/><stop offset="0.5807" stop-color="#2268ad"/><stop offset="0.5841" stop-color="#276db0"/><stop offset="0.5863" stop-color="#2166ab"/><stop offset="0.5931" stop-color="#063264"/><stop offset="0.6055" stop-color="#053061"/><stop offset="1.0001" stop-color="#053061"/></linearGradient><linearGradient id="h31" gradientUnits="userSpaceOnUse" x1="159.7" y1="0" x2="1046.6" y2="0"><stop offset="0.0000" stop-color="#053061"/><stop offset="0.3168" stop-color="#053061"/><stop offset="0.3225" stop-color="#1a5899"/><stop offset="0.3247" stop-color="#246aae"/><stop offset="0.3304" stop-color="#3a88bd"/><stop offset="0.3349" stop-color="#3c89be"/><stop offset="0.3394" stop-color="#2d76b4"/><stop offset="0.3416" stop-color="#2267ac"/><stop offset="0.3484" stop-color="#073467"/><stop offset="0.3507" stop-color="#053061"/><stop offset="0.3574" stop-color="#053061"/><stop offset="0.3586" stop-color="#0b3c71"/><stop offset="0.3608" stop-color="#276eb0"/><stop offset="0.3619" stop-color="#3f8dc0"/><stop offset="0.3631" stop-color="#84bcd9"/><stop offset="0.3642" stop-color="#cce3ef"/><stop offset="0.3653" stop-color="#f6f7f7"/><stop offset="0.3664" stop-color="#fce0cf"/><stop offset="0.3676" stop-color="#facab1"/><stop offset="0.3687" stop-color="#fac7ae"/><stop offset="0.3698" stop-color="#fddbc7"/><stop offset="0.3710" stop-color="#f9eee8"/><stop offset="0.3721" stop-color="#ebf1f5"/><stop offset="0.3732" stop-color="#f4f5f6"/><stop offset="0.3743" stop-color="#f8f1ec"/><stop offset="0.3766" stop-color="#fdd9c4"/><stop offset="0.3788" stop-color="#f5ae8d"/><stop offset="0.3800" stop-color="#f19e7d"/><stop offset="0.3811" stop-color="#ed9676"/><stop offset="0.3822" stop-color="#ef9979"/><stop offset="0.3834" stop-color="#f4a784"/><stop offset="0.3845" stop-color="#f7b99c"/><stop offset="0.3867" stop-color="#fbe4d6"/><stop offset="0.3879" stop-color="#f8f1ed"/><stop offset="0.3890" stop-color="#edf2f5"/><stop offset="0.3901" stop-color="#deebf2"/><stop offset="0.3913" stop-color="#edf2f5"/><stop offset="0.3924" stop-color="#f8f2ee"/><stop offset="0.3935" stop-color="#f9eee8"/><stop offset="0.3946" stop-color="#f7f5f3"/><stop offset="0.3958" stop-color="#e4eef3"/><stop offset="0.3969" stop-color="#bbdaea"/><stop offset="0.3980" stop-color="#7ab6d6"/><stop offset="0.3991" stop-color="#3c8abe"/><stop offset="0.4003" stop-color="#2268ad"/><stop offset="0.4014" stop-color="#134a85"/><stop offset="0.4025" stop-color="#09386c"/><stop offset="0.4048" stop-color="#0d4077"/><stop offset="0.4093" stop-color="#1f63a8"/><stop offset="0.4127" stop-color="#2b73b3"/><stop offset="0.4161" stop-color="#2b73b2"/><stop offset="0.4194" stop-color="#1f63a8"/><stop offset="0.4228" stop-color="#144d8a"/><stop offset="0.4239" stop-color="#134a86"/><stop offset="0.4262" stop-color="#2064a9"/><stop offset="0.4296" stop-color="#4190c2"/><stop offset="0.4318" stop-color="#6cadd1"/><stop offset="0.4330" stop-color="#7cb7d6"/><stop offset="0.4341" stop-color="#84bcd9"/><stop offset="0.4352" stop-color="#85bdda"/><stop offset="0.4364" stop-color="#7db8d7"/><stop offset="0.4375" stop-color="#6eaed2"/><stop offset="0.4397" stop-color="#4190c2"/><stop offset="0.4420" stop-color="#2870b1"/><stop offset="0.4431" stop-color="#1d5fa2"/><stop offset="0.4454" stop-color="#0d3f76"/><stop offset="0.4465" stop-color="#063365"/><stop offset="0.4533" stop-color="#053061"/><stop offset="0.5051" stop-color="#053061"/><stop offset="0.5063" stop-color="#0b3c72"/><stop offset="0.5074" stop-color="#154f8c"/><stop offset="0.5085" stop-color="#2166ac"/><stop offset="0.5096" stop-color="#337eb8"/><stop offset="0.5108" stop-color="#4f9bc7"/><stop offset="0.5119" stop-color="#86bdda"/><stop offset="0.5130" stop-color="#b7d8e8"/><stop offset="0.5142" stop-color="#ddebf2"/><stop offset="0.5153" stop-color="#f7f7f7"/><stop offset="0.5164" stop-color="#fbe7db"/><stop offset="0.5187" stop-color="#faccb4"/><stop offset="0.5198" stop-color="#facab1"/><stop offset="0.5209" stop-color="#fcd3bc"/><stop offset="0.5232" stop-color="#f9f0eb"/><stop offset="0.5243" stop-color="#e8f0f4"/><stop offset="0.5254" stop-color="#c9e1ee"/><stop offset="0.5266" stop-color="#9bc9e0"/><stop offset="0.5277" stop-color="#65a8ce"/><stop offset="0.5288" stop-color="#3b89be"/><stop offset="0.5299" stop-color="#286fb1"/><stop offset="0.5322" stop-color="#0f437c"/><stop offset="0.5333" stop-color="#073466"/><stop offset="0.5356" stop-color="#053061"/><stop offset="0.5705" stop-color="#063163"/><stop offset="0.5739" stop-color="#16518f"/><stop offset="0.5762" stop-color="#256baf"/><stop offset="0.5795" stop-color="#3c8abe"/><stop offset="0.5818" stop-color="#4190c2"/><stop offset="0.5852" stop-color="#3580b9"/><stop offset="0.5886" stop-color="#1f63a7"/><stop offset="0.5931" stop-color="#08376a"/><stop offset="0.5942" stop-color="#053061"/><stop offset="1.0001" stop-color="#053061"/></linearGradient><linearGradient id="h32" gradientUnits="userSpaceOnUse" x1="159.7" y1="0" x2="1046.6" y2="0"><stop offset="0.0000" stop-color="#053061"/><stop offset="0.3157" stop-color="#053061"/><stop offset="0.3202" stop-color="#16518f"/><stop offset="0.3225" stop-color="#2267ac"/><stop offset="0.3281" stop-color="#4292c3"/><stop offset="0.3315" stop-color="#5ba2cb"/><stop offset="0.3337" stop-color="#5da3cc"/><stop offset="0.3371" stop-color="#4896c5"/><stop offset="0.3428" stop-color="#266caf"/><stop offset="0.3439" stop-color="#1f62a7"/><stop offset="0.3484" stop-color="#0b3b71"/><stop offset="0.3507" stop-color="#053061"/><stop offset="0.3563" stop-color="#053061"/><stop offset="0.3574" stop-color="#083568"/><stop offset="0.3597" stop-color="#195797"/><stop offset="0.3608" stop-color="#266caf"/><stop offset="0.3619" stop-color="#3681ba"/><stop offset="0.3631" stop-color="#4c99c6"/><stop offset="0.3653" stop-color="#97c8df"/><stop offset="0.3664" stop-color="#afd4e6"/><stop offset="0.3676" stop-color="#c1ddeb"/><stop offset="0.3687" stop-color="#cae2ee"/><stop offset="0.3698" stop-color="#cbe2ee"/><stop offset="0.3732" stop-color="#edf2f5"/><stop offset="0.3755" stop-color="#f1f4f6"/><stop offset="0.3777" stop-color="#e2edf3"/><stop offset="0.3788" stop-color="#d4e7f1"/><stop offset="0.3811" stop-color="#9fcce2"/><stop offset="0.3834" stop-color="#60a5cd"/><stop offset="0.3845" stop-color="#4695c4"/><stop offset="0.3856" stop-color="#64a8ce"/><stop offset="0.3867" stop-color="#90c3dd"/><stop offset="0.3890" stop-color="#dceaf2"/><stop offset="0.3901" stop-color="#f7f7f7"/><stop offset="0.3924" stop-color="#fcd2bc"/><stop offset="0.3935" stop-color="#f8bea2"/><stop offset="0.3946" stop-color="#f6b394"/><stop offset="0.3958" stop-color="#f6b394"/><stop offset="0.3969" stop-color="#f8bda0"/><stop offset="0.3991" stop-color="#fcdfce"/><stop offset="0.4014" stop-color="#f4f6f6"/><stop offset="0.4025" stop-color="#ecf2f5"/><stop offset="0.4037" stop-color="#f7f5f3"/><stop offset="0.4048" stop-color="#f8f2ee"/><stop offset="0.4059" stop-color="#f5f6f7"/><stop offset="0.4070" stop-color="#e0ecf3"/><stop offset="0.4082" stop-color="#b8d8e9"/><stop offset="0.4093" stop-color="#7db8d7"/><stop offset="0.4104" stop-color="#4190c1"/><stop offset="0.4115" stop-color="#2a72b2"/><stop offset="0.4127" stop-color="#266db0"/><stop offset="0.4206" stop-color="#4191c2"/><stop offset="0.4239" stop-color="#408fc1"/><stop offset="0.4251" stop-color="#4996c5"/><stop offset="0.4273" stop-color="#6cadd1"/><stop offset="0.4296" stop-color="#7eb9d7"/><stop offset="0.4307" stop-color="#7eb8d7"/><stop offset="0.4318" stop-color="#77b4d5"/><stop offset="0.4341" stop-color="#559ec9"/><stop offset="0.4352" stop-color="#4090c1"/><stop offset="0.4375" stop-color="#2971b2"/><stop offset="0.4386" stop-color="#1e61a5"/><stop offset="0.4409" stop-color="#0e4179"/><stop offset="0.4420" stop-color="#083568"/><stop offset="0.4431" stop-color="#053061"/><stop offset="0.5074" stop-color="#053061"/><stop offset="0.5085" stop-color="#0a3a6f"/><stop offset="0.5096" stop-color="#144c88"/><stop offset="0.5108" stop-color="#2064a9"/><stop offset="0.5119" stop-color="#327cb7"/><stop offset="0.5130" stop-color="#4e9ac7"/><stop offset="0.5142" stop-color="#87beda"/><stop offset="0.5153" stop-color="#bbdaea"/><stop offset="0.5164" stop-color="#e3edf3"/><stop offset="0.5175" stop-color="#f8f0eb"/><stop offset="0.5187" stop-color="#fdddca"/><stop offset="0.5198" stop-color="#f9c0a5"/><stop offset="0.5209" stop-color="#f5ad8c"/><stop offset="0.5220" stop-color="#f4a582"/><stop offset="0.5232" stop-color="#f5aa89"/><stop offset="0.5243" stop-color="#f8bb9f"/><stop offset="0.5254" stop-color="#fcd7c2"/><stop offset="0.5266" stop-color="#f9ece4"/><stop offset="0.5277" stop-color="#e9f0f4"/><stop offset="0.5288" stop-color="#c6dfed"/><stop offset="0.5299" stop-color="#93c6de"/><stop offset="0.5311" stop-color="#59a1ca"/><stop offset="0.5322" stop-color="#3682ba"/><stop offset="0.5333" stop-color="#2369ad"/><stop offset="0.5356" stop-color="#0c3d73"/><stop offset="0.5367" stop-color="#053061"/><stop offset="0.5615" stop-color="#053061"/><stop offset="0.5649" stop-color="#134b87"/><stop offset="0.5671" stop-color="#1f62a7"/><stop offset="0.5705" stop-color="#347fb9"/><stop offset="0.5739" stop-color="#4291c2"/><stop offset="0.5773" stop-color="#4090c1"/><stop offset="0.5818" stop-color="#2b73b3"/><stop offset="0.5829" stop-color="#2369ae"/><stop offset="0.5886" stop-color="#073467"/><stop offset="0.5908" stop-color="#053061"/><stop offset="1.0001" stop-color="#053061"/></linearGradient><linearGradient id="h33" gradientUnits="userSpaceOnUse" x1="159.7" y1="0" x2="1046.6" y2="0"><stop offset="0.0000" stop-color="#053061"/><stop offset="0.3146" stop-color="#053061"/><stop offset="0.3157" stop-color="#073365"/><stop offset="0.3202" stop-color="#1a599a"/><stop offset="0.3213" stop-color="#2065aa"/><stop offset="0.3270" stop-color="#4a98c5"/><stop offset="0.3304" stop-color="#6eaed2"/><stop offset="0.3326" stop-color="#78b4d5"/><stop offset="0.3349" stop-color="#73b1d3"/><stop offset="0.3383" stop-color="#539dc9"/><stop offset="0.3394" stop-color="#4494c3"/><stop offset="0.3439" stop-color="#256bae"/><stop offset="0.3495" stop-color="#09386c"/><stop offset="0.3507" stop-color="#053162"/><stop offset="0.3574" stop-color="#053162"/><stop offset="0.3597" stop-color="#144d89"/><stop offset="0.3608" stop-color="#1e5fa3"/><stop offset="0.3619" stop-color="#2a72b2"/><stop offset="0.3642" stop-color="#4594c4"/><stop offset="0.3653" stop-color="#5ea4cc"/><stop offset="0.3664" stop-color="#71b0d3"/><stop offset="0.3676" stop-color="#7ab6d6"/><stop offset="0.3687" stop-color="#7ab6d6"/><stop offset="0.3698" stop-color="#71b0d3"/><stop offset="0.3732" stop-color="#3e8dc0"/><stop offset="0.3743" stop-color="#3682ba"/><stop offset="0.3755" stop-color="#3d8bbf"/><stop offset="0.3777" stop-color="#68aad0"/><stop offset="0.3788" stop-color="#79b5d6"/><stop offset="0.3800" stop-color="#80bad8"/><stop offset="0.3811" stop-color="#7ab6d6"/><stop offset="0.3822" stop-color="#68abd0"/><stop offset="0.3834" stop-color="#4c99c6"/><stop offset="0.3856" stop-color="#2a71b2"/><stop offset="0.3867" stop-color="#1d5ea1"/><stop offset="0.3879" stop-color="#144e8a"/><stop offset="0.3890" stop-color="#134b87"/><stop offset="0.3901" stop-color="#1d5ea1"/><stop offset="0.3913" stop-color="#2d76b4"/><stop offset="0.3924" stop-color="#4594c4"/><stop offset="0.3935" stop-color="#84bcd9"/><stop offset="0.3946" stop-color="#bfdceb"/><stop offset="0.3958" stop-color="#e9f1f4"/><stop offset="0.3969" stop-color="#fae8de"/><stop offset="0.3991" stop-color="#f6af8f"/><stop offset="0.4003" stop-color="#f19f7d"/><stop offset="0.4014" stop-color="#f2a07e"/><stop offset="0.4025" stop-color="#f6b292"/><stop offset="0.4048" stop-color="#fae8de"/><stop offset="0.4059" stop-color="#edf2f5"/><stop offset="0.4070" stop-color="#cde3ef"/><stop offset="0.4082" stop-color="#a0cce2"/><stop offset="0.4093" stop-color="#87beda"/><stop offset="0.4138" stop-color="#d6e7f1"/><stop offset="0.4161" stop-color="#ebf1f5"/><stop offset="0.4183" stop-color="#f2f5f6"/><stop offset="0.4206" stop-color="#e9f0f4"/><stop offset="0.4228" stop-color="#d2e6f0"/><stop offset="0.4262" stop-color="#86bdda"/><stop offset="0.4285" stop-color="#68aad0"/><stop offset="0.4307" stop-color="#3f8ec0"/><stop offset="0.4330" stop-color="#286fb1"/><stop offset="0.4341" stop-color="#1e5fa3"/><stop offset="0.4375" stop-color="#073567"/><stop offset="0.4386" stop-color="#053061"/><stop offset="0.5108" stop-color="#053061"/><stop offset="0.5119" stop-color="#073466"/><stop offset="0.5130" stop-color="#0f447d"/><stop offset="0.5142" stop-color="#1a599b"/><stop offset="0.5153" stop-color="#2a72b2"/><stop offset="0.5164" stop-color="#3f8ec1"/><stop offset="0.5187" stop-color="#add3e6"/><stop offset="0.5198" stop-color="#dceaf2"/><stop offset="0.5209" stop-color="#f8f3f0"/><stop offset="0.5220" stop-color="#fdddca"/><stop offset="0.5232" stop-color="#f7b99c"/><stop offset="0.5243" stop-color="#f09b7a"/><stop offset="0.5254" stop-color="#e7876b"/><stop offset="0.5266" stop-color="#e58368"/><stop offset="0.5277" stop-color="#eb9173"/><stop offset="0.5288" stop-color="#f5ad8c"/><stop offset="0.5299" stop-color="#fbceb7"/><stop offset="0.5311" stop-color="#faeae0"/><stop offset="0.5322" stop-color="#e9f0f4"/><stop offset="0.5333" stop-color="#c2ddec"/><stop offset="0.5344" stop-color="#8dc2dc"/><stop offset="0.5356" stop-color="#519cc8"/><stop offset="0.5367" stop-color="#327db8"/><stop offset="0.5378" stop-color="#2064a9"/><stop offset="0.5390" stop-color="#144c88"/><stop offset="0.5401" stop-color="#0a3a6f"/><stop offset="0.5412" stop-color="#053061"/><stop offset="0.5502" stop-color="#063162"/><stop offset="0.5536" stop-color="#144e8a"/><stop offset="0.5559" stop-color="#2166ac"/><stop offset="0.5604" stop-color="#4393c3"/><stop offset="0.5638" stop-color="#6dadd1"/><stop offset="0.5660" stop-color="#77b4d5"/><stop offset="0.5683" stop-color="#72b0d3"/><stop offset="0.5705" stop-color="#5ca3cc"/><stop offset="0.5728" stop-color="#408fc1"/><stop offset="0.5762" stop-color="#266db0"/><stop offset="0.5773" stop-color="#1e61a5"/><stop offset="0.5807" stop-color="#0d3f76"/><stop offset="0.5829" stop-color="#053061"/><stop offset="1.0001" stop-color="#053061"/></linearGradient><linearGradient id="h34" gradientUnits="userSpaceOnUse" x1="159.7" y1="0" x2="1046.6" y2="0"><stop offset="0.0000" stop-color="#053061"/><stop offset="0.3146" stop-color="#063163"/><stop offset="0.3191" stop-color="#185494"/><stop offset="0.3213" stop-color="#246aae"/><stop offset="0.3259" stop-color="#4595c4"/><stop offset="0.3292" stop-color="#75b2d4"/><stop offset="0.3326" stop-color="#8fc3dd"/><stop offset="0.3349" stop-color="#91c4de"/><stop offset="0.3371" stop-color="#86bdda"/><stop offset="0.3405" stop-color="#60a6cd"/><stop offset="0.3428" stop-color="#4190c2"/><stop offset="0.3473" stop-color="#2167ac"/><stop offset="0.3518" stop-color="#0c3e75"/><stop offset="0.3540" stop-color="#063163"/><stop offset="0.3574" stop-color="#053162"/><stop offset="0.3597" stop-color="#124983"/><stop offset="0.3619" stop-color="#246aae"/><stop offset="0.3653" stop-color="#4795c4"/><stop offset="0.3664" stop-color="#569fca"/><stop offset="0.3676" stop-color="#5da4cc"/><stop offset="0.3687" stop-color="#5ba2cb"/><stop offset="0.3710" stop-color="#4190c1"/><stop offset="0.3732" stop-color="#2a72b2"/><stop offset="0.3743" stop-color="#1f62a6"/><stop offset="0.3766" stop-color="#0d4077"/><stop offset="0.3777" stop-color="#063264"/><stop offset="0.3924" stop-color="#053061"/><stop offset="0.3935" stop-color="#083568"/><stop offset="0.3958" stop-color="#15508d"/><stop offset="0.3969" stop-color="#1e61a5"/><stop offset="0.3991" stop-color="#3a87bd"/><stop offset="0.4003" stop-color="#559fc9"/><stop offset="0.4025" stop-color="#aad1e5"/><stop offset="0.4037" stop-color="#d1e5f0"/><stop offset="0.4048" stop-color="#e9f0f4"/><stop offset="0.4059" stop-color="#f9f0eb"/><stop offset="0.4070" stop-color="#fcdfcf"/><stop offset="0.4093" stop-color="#f5ad8c"/><stop offset="0.4104" stop-color="#ed9676"/><stop offset="0.4115" stop-color="#e58368"/><stop offset="0.4127" stop-color="#e17960"/><stop offset="0.4138" stop-color="#e0775f"/><stop offset="0.4149" stop-color="#e37e64"/><stop offset="0.4161" stop-color="#e98b6e"/><stop offset="0.4172" stop-color="#f2a07e"/><stop offset="0.4194" stop-color="#faccb4"/><stop offset="0.4206" stop-color="#fce0d0"/><stop offset="0.4217" stop-color="#f9eee7"/><stop offset="0.4228" stop-color="#f1f4f6"/><stop offset="0.4251" stop-color="#cce2ef"/><stop offset="0.4262" stop-color="#b0d4e7"/><stop offset="0.4273" stop-color="#aad1e5"/><stop offset="0.4296" stop-color="#a3cee3"/><stop offset="0.4307" stop-color="#96c7df"/><stop offset="0.4318" stop-color="#80bad8"/><stop offset="0.4341" stop-color="#4292c3"/><stop offset="0.4364" stop-color="#256baf"/><stop offset="0.4397" stop-color="#083569"/><stop offset="0.4409" stop-color="#053061"/><stop offset="0.5142" stop-color="#053162"/><stop offset="0.5153" stop-color="#0e4078"/><stop offset="0.5175" stop-color="#276eb0"/><stop offset="0.5187" stop-color="#3c8abe"/><stop offset="0.5198" stop-color="#6cadd1"/><stop offset="0.5209" stop-color="#a7d0e4"/><stop offset="0.5220" stop-color="#d9e9f1"/><stop offset="0.5232" stop-color="#f8f4f2"/><stop offset="0.5243" stop-color="#fddcc8"/><stop offset="0.5254" stop-color="#f6b495"/><stop offset="0.5266" stop-color="#ea8f71"/><stop offset="0.5277" stop-color="#df745d"/><stop offset="0.5288" stop-color="#db6b56"/><stop offset="0.5299" stop-color="#df745d"/><stop offset="0.5311" stop-color="#ea8e71"/><stop offset="0.5322" stop-color="#f6b394"/><stop offset="0.5333" stop-color="#fddcc8"/><stop offset="0.5344" stop-color="#f8f3f1"/><stop offset="0.5356" stop-color="#dae9f2"/><stop offset="0.5367" stop-color="#a9d1e5"/><stop offset="0.5378" stop-color="#70afd2"/><stop offset="0.5390" stop-color="#3e8dc0"/><stop offset="0.5412" stop-color="#1c5d9f"/><stop offset="0.5423" stop-color="#134b86"/><stop offset="0.5435" stop-color="#0f437b"/><stop offset="0.5457" stop-color="#185595"/><stop offset="0.5468" stop-color="#1f63a8"/><stop offset="0.5502" stop-color="#408fc1"/><stop offset="0.5536" stop-color="#8ec3dd"/><stop offset="0.5559" stop-color="#aed3e6"/><stop offset="0.5581" stop-color="#bcdaea"/><stop offset="0.5604" stop-color="#b4d6e8"/><stop offset="0.5626" stop-color="#9ac9e0"/><stop offset="0.5649" stop-color="#6aabd0"/><stop offset="0.5660" stop-color="#4d99c6"/><stop offset="0.5671" stop-color="#3b88be"/><stop offset="0.5694" stop-color="#2469ae"/><stop offset="0.5728" stop-color="#0c3e75"/><stop offset="0.5739" stop-color="#073466"/><stop offset="0.5762" stop-color="#053061"/><stop offset="1.0001" stop-color="#053061"/></linearGradient><linearGradient id="h35" gradientUnits="userSpaceOnUse" x1="159.7" y1="0" x2="1046.6" y2="0"><stop offset="0.0000" stop-color="#053061"/><stop offset="0.3123" stop-color="#053061"/><stop offset="0.3146" stop-color="#0c3d73"/><stop offset="0.3191" stop-color="#2368ad"/><stop offset="0.3236" stop-color="#4494c3"/><stop offset="0.3270" stop-color="#71b0d3"/><stop offset="0.3292" stop-color="#82bbd8"/><stop offset="0.3315" stop-color="#84bcd9"/><stop offset="0.3337" stop-color="#78b4d5"/><stop offset="0.3383" stop-color="#408fc1"/><stop offset="0.3428" stop-color="#2064a9"/><stop offset="0.3473" stop-color="#0a3a6e"/><stop offset="0.3484" stop-color="#063264"/><stop offset="0.3597" stop-color="#053061"/><stop offset="0.3608" stop-color="#0a396e"/><stop offset="0.3642" stop-color="#246aae"/><stop offset="0.3664" stop-color="#347fb9"/><stop offset="0.3687" stop-color="#3783bb"/><stop offset="0.3710" stop-color="#2a71b2"/><stop offset="0.3721" stop-color="#2064a9"/><stop offset="0.3755" stop-color="#073366"/><stop offset="0.3777" stop-color="#053061"/><stop offset="0.3980" stop-color="#053061"/><stop offset="0.3991" stop-color="#0c3d73"/><stop offset="0.4003" stop-color="#154f8c"/><stop offset="0.4014" stop-color="#2166ac"/><stop offset="0.4025" stop-color="#337eb8"/><stop offset="0.4037" stop-color="#529dc8"/><stop offset="0.4048" stop-color="#8ec3dd"/><stop offset="0.4059" stop-color="#c6dfed"/><stop offset="0.4070" stop-color="#eef3f5"/><stop offset="0.4082" stop-color="#fbe2d3"/><stop offset="0.4093" stop-color="#f6b394"/><stop offset="0.4104" stop-color="#e0775e"/><stop offset="0.4115" stop-color="#c43b3c"/><stop offset="0.4127" stop-color="#a41329"/><stop offset="0.4138" stop-color="#800823"/><stop offset="0.4149" stop-color="#6d0220"/><stop offset="0.4161" stop-color="#6d0220"/><stop offset="0.4172" stop-color="#800823"/><stop offset="0.4183" stop-color="#a31329"/><stop offset="0.4194" stop-color="#c3393b"/><stop offset="0.4206" stop-color="#de725b"/><stop offset="0.4217" stop-color="#f5ad8d"/><stop offset="0.4228" stop-color="#fdddcb"/><stop offset="0.4239" stop-color="#f7f7f7"/><stop offset="0.4251" stop-color="#d7e8f1"/><stop offset="0.4273" stop-color="#78b5d5"/><stop offset="0.4285" stop-color="#4997c5"/><stop offset="0.4296" stop-color="#3885bc"/><stop offset="0.4330" stop-color="#2064aa"/><stop offset="0.4364" stop-color="#09376b"/><stop offset="0.4375" stop-color="#053061"/><stop offset="0.5164" stop-color="#053061"/><stop offset="0.5175" stop-color="#0a396d"/><stop offset="0.5187" stop-color="#134b86"/><stop offset="0.5198" stop-color="#1f62a6"/><stop offset="0.5209" stop-color="#317bb7"/><stop offset="0.5220" stop-color="#4c99c6"/><stop offset="0.5232" stop-color="#87beda"/><stop offset="0.5243" stop-color="#bddbea"/><stop offset="0.5254" stop-color="#e5eff4"/><stop offset="0.5266" stop-color="#f9ede6"/><stop offset="0.5277" stop-color="#fcd5bf"/><stop offset="0.5288" stop-color="#f6b394"/><stop offset="0.5299" stop-color="#ef9979"/><stop offset="0.5311" stop-color="#e88a6e"/><stop offset="0.5322" stop-color="#e98c6f"/><stop offset="0.5333" stop-color="#f19d7c"/><stop offset="0.5344" stop-color="#f7b79a"/><stop offset="0.5356" stop-color="#fdd8c4"/><stop offset="0.5367" stop-color="#f9eee7"/><stop offset="0.5378" stop-color="#e7f0f4"/><stop offset="0.5390" stop-color="#c8e0ed"/><stop offset="0.5412" stop-color="#74b2d4"/><stop offset="0.5423" stop-color="#79b5d6"/><stop offset="0.5468" stop-color="#cce3ef"/><stop offset="0.5491" stop-color="#e2edf3"/><stop offset="0.5514" stop-color="#ebf1f5"/><stop offset="0.5536" stop-color="#e5eef4"/><stop offset="0.5559" stop-color="#d1e5f0"/><stop offset="0.5581" stop-color="#9fcce2"/><stop offset="0.5615" stop-color="#3f8ec0"/><stop offset="0.5638" stop-color="#246aae"/><stop offset="0.5671" stop-color="#0b3c72"/><stop offset="0.5683" stop-color="#063163"/><stop offset="1.0001" stop-color="#053061"/></linearGradient><linearGradient id="cbar" x1="0" y1="0" x2="0" y2="1"><stop offset="0.00" stop-color="#053061"/><stop offset="0.05" stop-color="#134b86"/><stop offset="0.10" stop-color="#2166ac"/><stop offset="0.15" stop-color="#327db8"/><stop offset="0.20" stop-color="#4393c3"/><stop offset="0.25" stop-color="#6bacd1"/><stop offset="0.30" stop-color="#92c5de"/><stop offset="0.35" stop-color="#b2d5e7"/><stop offset="0.40" stop-color="#d1e5f0"/><stop offset="0.45" stop-color="#e4eef4"/><stop offset="0.50" stop-color="#f7f7f7"/><stop offset="0.55" stop-color="#fae9df"/><stop offset="0.60" stop-color="#fddbc7"/><stop offset="0.65" stop-color="#f8c0a4"/><stop offset="0.70" stop-color="#f4a582"/><stop offset="0.75" stop-color="#e58268"/><stop offset="0.80" stop-color="#d6604d"/><stop offset="0.85" stop-color="#c43c3c"/><stop offset="0.90" stop-color="#b2182b"/><stop offset="0.95" stop-color="#8c0c25"/><stop offset="1.00" stop-color="#67001f"/></linearGradient></defs>
<rect width="1997" height="2059" fill="#fff"/>
<text transform="translate(19.2,66.4) scale(0.940,1)" font-family="'Liberation Sans', Arial, sans-serif" font-size="57.27" font-weight="bold">a</text>
<text x="385.5" y="75.5" font-family="'Liberation Serif', 'Times New Roman', serif" font-size="55.3" text-anchor="middle">No coupling</text>
<text x="1037" y="76" font-family="'Liberation Serif', 'Times New Roman', serif" font-size="55.3" text-anchor="middle">Strong coupling</text>
<text x="1693" y="39.5" font-family="'Liberation Serif', 'Times New Roman', serif" font-size="55.3" text-anchor="middle">Selective</text>
<text x="1693.5" y="105.7" font-family="'Liberation Serif', 'Times New Roman', serif" font-size="55.3" text-anchor="middle">Strong coupling</text>
<text transform="translate(72.5,189.6) scale(0.978,1)" font-family="'Liberation Serif', 'Times New Roman', serif" font-size="56.21" font-style="italic">B</text>
<text transform="translate(187.5,188) scale(0.839,1)" font-family="'Liberation Serif', 'Times New Roman', serif" font-size="50.53">M</text>
<text transform="translate(225.8,197.9) scale(1.197,1)" font-family="'Liberation Serif', 'Times New Roman', serif" font-size="36.20" font-style="italic">β</text>
<text x="309.5" y="189.6" font-family="'Liberation Serif', 'Times New Roman', serif" font-size="49.70">Phonons</text>
<text transform="translate(550.3,195.9) scale(0.837,1)" font-family="'Liberation Serif', 'Times New Roman', serif" font-size="50.53">M</text>
<text transform="translate(589.8,206.4) scale(1.081,1)" font-family="'Liberation Serif', 'Times New Roman', serif" font-size="39.38" font-style="italic">α</text>
<text transform="translate(621.6,596) scale(1.010,1)" font-family="'Liberation Serif', 'Times New Roman', serif" font-size="55.63" font-style="italic">ω</text>
<path d="M392,215 L392,534" stroke="#ED7D31" stroke-width="10.7" fill="none"/>
<path d="M212,227 L388,534" stroke="#4472C4" stroke-width="10.3" fill="none"/>
<path d="M585.3,227.3 L393.2,534" stroke="#4472C4" stroke-width="10.3" fill="none"/>
<text x="718.6" y="189.7" font-family="'Liberation Serif', 'Times New Roman', serif" font-size="55.76" font-style="italic">B</text>
<text x="1267.8" y="596" font-family="'Liberation Serif', 'Times New Roman', serif" font-size="55.63" font-style="italic">ω</text>
<path d="M827.3,228.2 C834.5,239.9 858.5,279 870.4,298.6 C882.3,318.2 890.4,331.6 898.6,346 C906.8,360.4 913,371.7 919.7,384.9 C926.4,398.1 933.1,412.2 939,425.4 C944.9,438.6 950.9,451.7 955,464 C959.1,476.3 962,487.8 963.7,499.3 C965.5,510.8 965.2,527.4 965.5,533" stroke="url(#gA2L)" stroke-width="10" fill="none"/>
<path d="M1248.5,227 C1241.3,238.9 1217.4,278.8 1205.6,298.6 C1193.8,318.4 1185.7,331.6 1177.5,346 C1169.3,360.4 1163.2,371.7 1156.5,384.9 C1149.8,398.1 1143.3,412.2 1137.5,425.4 C1131.7,438.6 1125.7,451.7 1121.5,464 C1117.3,476.3 1114.2,487.8 1112.5,499.3 C1110.8,510.8 1111.2,527.4 1111,533" stroke="url(#gA2L)" stroke-width="10" fill="none"/>
<path d="M1038.4,218.5 L1038.4,533" stroke="url(#gA2O)" stroke-width="10.2" fill="none"/>
<text x="837.1" y="450.9" font-family="'Liberation Serif', 'Times New Roman', serif" font-size="42.70">MP1</text>
<text x="936.6" y="384.9" font-family="'Liberation Serif', 'Times New Roman', serif" font-size="44.35">MP2</text>
<text x="1168.7" y="451" font-family="'Liberation Serif', 'Times New Roman', serif" font-size="43.20">MP3</text>
<line x1="904" y1="458.8" x2="930.5" y2="473.4" stroke="#000" stroke-width="5.7"/><path d="M944,480.8 L924.7,479.9 L932.9,465 Z" fill="#000"/>
<line x1="985.7" y1="407.7" x2="1012.7" y2="422.4" stroke="#000" stroke-width="5.7"/><path d="M1026.2,429.8 L1006.9,428.9 L1015,414 Z" fill="#000"/>
<line x1="1163" y1="461.6" x2="1136.4" y2="476.5" stroke="#000" stroke-width="5.7"/><path d="M1123,484 L1134,468.1 L1142.3,482.9 Z" fill="#000"/>
<text transform="translate(1364.8,182.8) scale(0.970,1)" font-family="'Liberation Serif', 'Times New Roman', serif" font-size="56.52" font-style="italic">B</text>
<text transform="translate(1914.1,595.1) scale(1.010,1)" font-family="'Liberation Serif', 'Times New Roman', serif" font-size="55.63" font-style="italic">ω</text>
<path d="M1476.5,228 L1623.6,531.5" stroke="url(#gA3V)" stroke-width="10" fill="none"/>
<path d="M1745.9,531.5 L1894.7,228" stroke="url(#gA3V)" stroke-width="10" fill="none"/>
<path d="M1619.5,531.5 C1619.7,530.9 1620,530.2 1620.9,528 C1621.8,525.8 1623.6,521.3 1624.8,518 C1626.1,514.7 1627.3,511.3 1628.5,508 C1629.7,504.7 1630.8,501.3 1631.9,498 C1633.1,494.7 1634.1,491.3 1635.2,488 C1636.2,484.7 1637.2,481.3 1638.2,478 C1639.2,474.7 1640.1,471.3 1641.1,468 C1642,464.7 1642.9,461.3 1643.7,458 C1644.6,454.7 1645.4,451.3 1646.3,448 C1647.1,444.7 1647.8,441.3 1648.6,438 C1649.4,434.7 1650.1,431.3 1650.8,428 C1651.5,424.7 1652.2,421.3 1652.9,418 C1653.6,414.7 1654.2,411.3 1654.8,408 C1655.5,404.7 1656.1,401.3 1656.7,398 C1657.2,394.7 1657.8,391.3 1658.4,388 C1658.9,384.7 1659.5,381.3 1660,378 C1660.5,374.7 1661,371.3 1661.5,368 C1662,364.7 1662.4,361.3 1662.9,358 C1663.4,354.7 1663.8,351.3 1664.2,348 C1664.7,344.7 1665.1,341.3 1665.5,338 C1665.9,334.7 1666.3,331.3 1666.6,328 C1667,324.7 1667.4,321.3 1667.7,318 C1668.1,314.7 1668.4,311.3 1668.8,308 C1669.1,304.7 1669.4,301.3 1669.7,298 C1670,294.7 1670.3,291.3 1670.6,288 C1670.9,284.7 1671.2,281.3 1671.5,278 C1671.8,274.7 1672,271.3 1672.3,268 C1672.5,264.7 1672.8,261.3 1673,258 C1673.3,254.7 1673.5,251.3 1673.7,248 C1674,244.7 1674.2,241.3 1674.4,238 C1674.6,234.7 1674.8,231.2 1675,228 C1675.2,224.8 1675.5,220.1 1675.6,218.5" stroke="url(#gA3O)" stroke-width="10" fill="none"/>
<path d="M1749.3,531.5 C1749.1,530.9 1748.8,530.2 1747.9,528 C1747,525.8 1745.2,521.3 1744,518 C1742.7,514.7 1741.5,511.3 1740.3,508 C1739.1,504.7 1738,501.3 1736.9,498 C1735.7,494.7 1734.7,491.3 1733.6,488 C1732.6,484.7 1731.6,481.3 1730.6,478 C1729.6,474.7 1728.7,471.3 1727.7,468 C1726.8,464.7 1725.9,461.3 1725.1,458 C1724.2,454.7 1723.4,451.3 1722.5,448 C1721.7,444.7 1721,441.3 1720.2,438 C1719.4,434.7 1718.7,431.3 1718,428 C1717.3,424.7 1716.6,421.3 1715.9,418 C1715.2,414.7 1714.6,411.3 1714,408 C1713.3,404.7 1712.7,401.3 1712.1,398 C1711.6,394.7 1711,391.3 1710.4,388 C1709.9,384.7 1709.3,381.3 1708.8,378 C1708.3,374.7 1707.8,371.3 1707.3,368 C1706.8,364.7 1706.4,361.3 1705.9,358 C1705.4,354.7 1705,351.3 1704.6,348 C1704.1,344.7 1703.7,341.3 1703.3,338 C1702.9,334.7 1702.5,331.3 1702.2,328 C1701.8,324.7 1701.4,321.3 1701.1,318 C1700.7,314.7 1700.4,311.3 1700,308 C1699.7,304.7 1699.4,301.3 1699.1,298 C1698.8,294.7 1698.5,291.3 1698.2,288 C1697.9,284.7 1697.6,281.3 1697.3,278 C1697,274.7 1696.8,271.3 1696.5,268 C1696.3,264.7 1696,261.3 1695.8,258 C1695.5,254.7 1695.3,251.3 1695.1,248 C1694.8,244.7 1694.6,241.3 1694.4,238 C1694.2,234.7 1694,231.2 1693.8,228 C1693.6,224.8 1693.3,220.1 1693.2,218.5" stroke="url(#gA3O)" stroke-width="10" fill="none"/>
<text x="1474.2" y="449" font-family="'Liberation Serif', 'Times New Roman', serif" font-size="42.32">MP1</text>
<text x="1568.5" y="379.5" font-family="'Liberation Serif', 'Times New Roman', serif" font-size="44.19">MP2</text>
<text x="1730.7" y="379.5" font-family="'Liberation Serif', 'Times New Roman', serif" font-size="43.47">MP3</text>
<text x="1829.5" y="449" font-family="'Liberation Serif', 'Times New Roman', serif" font-size="43.63">MP4</text>
<line x1="1543" y1="461" x2="1568.7" y2="476.2" stroke="#000" stroke-width="5.7"/><path d="M1582,484 L1562.7,482.5 L1571.3,467.8 Z" fill="#000"/>
<line x1="1607.3" y1="393.6" x2="1635.3" y2="409.7" stroke="#000" stroke-width="5.7"/><path d="M1648.6,417.4 L1629.3,416.1 L1637.8,401.3 Z" fill="#000"/>
<line x1="1761.3" y1="384.8" x2="1734.1" y2="400.7" stroke="#000" stroke-width="5.7"/><path d="M1720.8,408.5 L1731.5,392.4 L1740.1,407 Z" fill="#000"/>
<line x1="1828" y1="447.6" x2="1802.4" y2="462.3" stroke="#000" stroke-width="5.7"/><path d="M1789,470 L1799.9,454 L1808.3,468.7 Z" fill="#000"/>
<path d="M143,535.9 L143,158.5" stroke="#000" stroke-width="5.8" fill="none"/><path d="M132.2,176.5 L143,158.5 L153.8,176.5" stroke="#000" stroke-width="5.8" fill="none" stroke-linecap="round" stroke-miterlimit="10"/><path d="M140.1,535.9 L663.2,535.9" stroke="#000" stroke-width="5.8" fill="none"/><path d="M645.2,525.1 L663.2,535.9 L645.2,546.7" stroke="#000" stroke-width="5.8" fill="none" stroke-linecap="round" stroke-miterlimit="10"/>
<path d="M788.6,535.9 L788.6,158.8" stroke="#000" stroke-width="5.8" fill="none"/><path d="M777.8,176.8 L788.6,158.8 L799.4,176.8" stroke="#000" stroke-width="5.8" fill="none" stroke-linecap="round" stroke-miterlimit="10"/><path d="M785.7,535.9 L1309.3,535.9" stroke="#000" stroke-width="5.8" fill="none"/><path d="M1291.3,525.1 L1309.3,535.9 L1291.3,546.7" stroke="#000" stroke-width="5.8" fill="none" stroke-linecap="round" stroke-miterlimit="10"/>
<path d="M1434.5,534.7 L1434.5,151.4" stroke="#000" stroke-width="5.8" fill="none"/><path d="M1423.7,169.4 L1434.5,151.4 L1445.3,169.4" stroke="#000" stroke-width="5.8" fill="none" stroke-linecap="round" stroke-miterlimit="10"/><path d="M1431.6,534.7 L1955.4,534.7" stroke="#000" stroke-width="5.8" fill="none"/><path d="M1937.4,523.9 L1955.4,534.7 L1937.4,545.5" stroke="#000" stroke-width="5.8" fill="none" stroke-linecap="round" stroke-miterlimit="10"/>
<g font-family="'Liberation Serif', 'Times New Roman', serif"><path d="M131.8,657.9 H142.9 V660 H135.7 V903.2 H142.9 V905.3 H131.8 Z"/><path d="M699.5,657.9 H688.4 V660 H695.6 V903.2 H688.4 V905.3 H699.5 Z"/><text transform="translate(143.7,687) scale(0.740,1)" font-size="51.46" font-style="italic">ω</text><text transform="translate(169.7,696.9) scale(0.855,1)" font-size="37.24">mag</text><text transform="translate(234,696) scale(0.678,1)" font-size="72.00">−</text><text transform="translate(271.1,687) scale(0.611,1)" font-size="52.37" font-style="italic">H</text><text transform="translate(402.4,687.1) scale(0.790,1)" font-size="51.26">0</text><text transform="translate(547.9,687.1) scale(0.790,1)" font-size="51.26">0</text><text transform="translate(646.4,687.1) scale(0.790,1)" font-size="51.26">0</text><text transform="translate(210.9,755.8) scale(0.790,1)" font-size="51.26">0</text><text transform="translate(335.3,755.7) scale(0.740,1)" font-size="51.46" font-style="italic">ω</text><text transform="translate(361.3,765.6) scale(0.855,1)" font-size="37.24">mag</text><text transform="translate(425.1,762.8) scale(0.729,1)" font-size="67.23">+</text><text transform="translate(462.7,755.7) scale(0.611,1)" font-size="52.37" font-style="italic">H</text><text transform="translate(547.9,755.8) scale(0.790,1)" font-size="51.26">0</text><text transform="translate(646.4,755.8) scale(0.790,1)" font-size="51.26">0</text><text transform="translate(210.9,824.5) scale(0.790,1)" font-size="51.26">0</text><text transform="translate(402.4,824.5) scale(0.790,1)" font-size="51.26">0</text><text transform="translate(526.7,824.2) scale(0.740,1)" font-size="51.46" font-style="italic">ω</text><text transform="translate(554,834.1) scale(0.865,1)" font-size="37.91">ph</text><text transform="translate(646.4,824.5) scale(0.790,1)" font-size="51.26">0</text><text transform="translate(210.9,892.6) scale(0.790,1)" font-size="51.26">0</text><text transform="translate(402.4,892.6) scale(0.790,1)" font-size="51.26">0</text><text transform="translate(547.9,892.6) scale(0.790,1)" font-size="51.26">0</text><text transform="translate(625.7,892.3) scale(0.740,1)" font-size="51.46" font-style="italic">ω</text><text transform="translate(653,902.2) scale(0.865,1)" font-size="37.91">ph</text><path d="M778.3,657.3 H789.4 V659.4 H782.2 V897.3 H789.4 V899.4 H778.3 Z"/><path d="M1345.5,657.3 H1334.4 V659.4 H1341.6 V897.3 H1334.4 V899.4 H1345.5 Z"/><text transform="translate(790.3,686.1) scale(0.740,1)" font-size="51.46" font-style="italic">ω</text><text transform="translate(816.3,696) scale(0.855,1)" font-size="37.24">mag</text><text transform="translate(880.6,695.1) scale(0.678,1)" font-size="72.00">−</text><text transform="translate(917.7,686.1) scale(0.611,1)" font-size="52.37" font-style="italic">H</text><text transform="translate(1047.9,686.2) scale(0.790,1)" font-size="51.26">0</text><text transform="translate(1185.6,686.1) scale(0.848,1)" font-size="50.66" font-style="italic">g</text><text transform="translate(1205.2,696.6) scale(0.938,1)" font-size="35.15">1</text><text transform="translate(1284.3,686.1) scale(0.848,1)" font-size="50.66" font-style="italic">g</text><text transform="translate(1305.3,696.6) scale(0.875,1)" font-size="35.15">2</text><text transform="translate(856.9,752.7) scale(0.790,1)" font-size="51.26">0</text><text transform="translate(981.7,752.6) scale(0.740,1)" font-size="51.46" font-style="italic">ω</text><text transform="translate(1007.7,762.5) scale(0.855,1)" font-size="37.24">mag</text><text transform="translate(1071.5,759.7) scale(0.729,1)" font-size="67.23">+</text><text transform="translate(1109.1,752.6) scale(0.611,1)" font-size="52.37" font-style="italic">H</text><text transform="translate(1185.6,752.6) scale(0.848,1)" font-size="50.66" font-style="italic">g</text><text transform="translate(1205.2,763.1) scale(0.938,1)" font-size="35.15">1</text><text transform="translate(1284.3,752.6) scale(0.848,1)" font-size="50.66" font-style="italic">g</text><text transform="translate(1305.3,763.1) scale(0.875,1)" font-size="35.15">2</text><text transform="translate(849,820.4) scale(0.848,1)" font-size="50.66" font-style="italic">g</text><text transform="translate(868.6,830.9) scale(0.938,1)" font-size="35.15">1</text><text transform="translate(1040.3,820.4) scale(0.848,1)" font-size="50.66" font-style="italic">g</text><text transform="translate(1059.9,830.9) scale(0.938,1)" font-size="35.15">1</text><text transform="translate(1172.7,820.2) scale(0.740,1)" font-size="51.46" font-style="italic">ω</text><text transform="translate(1200,830.1) scale(0.865,1)" font-size="37.91">ph</text><text transform="translate(1292.9,820.5) scale(0.790,1)" font-size="51.26">0</text><text transform="translate(849,886.6) scale(0.848,1)" font-size="50.66" font-style="italic">g</text><text transform="translate(870,897.1) scale(0.875,1)" font-size="35.15">2</text><text transform="translate(1040.3,886.6) scale(0.848,1)" font-size="50.66" font-style="italic">g</text><text transform="translate(1061.3,897.1) scale(0.875,1)" font-size="35.15">2</text><text transform="translate(1193.9,886.7) scale(0.790,1)" font-size="51.26">0</text><text transform="translate(1273.2,886.4) scale(0.740,1)" font-size="51.46" font-style="italic">ω</text><text transform="translate(1300.5,896.3) scale(0.865,1)" font-size="37.91">ph</text><path d="M1424.8,650.5 H1435.9 V652.6 H1428.7 V894.2 H1435.9 V896.3 H1424.8 Z"/><path d="M1992,650.5 H1980.9 V652.6 H1988.1 V894.2 H1980.9 V896.3 H1992 Z"/><text transform="translate(1436.1,679.3) scale(0.740,1)" font-size="51.46" font-style="italic">ω</text><text transform="translate(1462.1,689.2) scale(0.855,1)" font-size="37.24">mag</text><text transform="translate(1526.4,688.3) scale(0.678,1)" font-size="72.00">−</text><text transform="translate(1563.5,679.3) scale(0.611,1)" font-size="52.37" font-style="italic">H</text><text transform="translate(1693.9,679.4) scale(0.790,1)" font-size="51.26">0</text><text transform="translate(1838.9,679.3) scale(0.848,1)" font-size="50.66" font-style="italic">g</text><text transform="translate(1938.9,679.4) scale(0.790,1)" font-size="51.26">0</text><text transform="translate(1502.9,747.8) scale(0.790,1)" font-size="51.26">0</text><text transform="translate(1628.2,747.7) scale(0.740,1)" font-size="51.46" font-style="italic">ω</text><text transform="translate(1654.2,757.6) scale(0.855,1)" font-size="37.24">mag</text><text transform="translate(1718,754.8) scale(0.729,1)" font-size="67.23">+</text><text transform="translate(1755.6,747.7) scale(0.611,1)" font-size="52.37" font-style="italic">H</text><text transform="translate(1839.5,747.8) scale(0.790,1)" font-size="51.26">0</text><text transform="translate(1937.9,747.7) scale(0.848,1)" font-size="50.66" font-style="italic">g</text><text transform="translate(1501.9,815.6) scale(0.848,1)" font-size="50.66" font-style="italic">g</text><text transform="translate(1693.9,815.7) scale(0.790,1)" font-size="51.26">0</text><text transform="translate(1818.7,815.4) scale(0.740,1)" font-size="51.46" font-style="italic">ω</text><text transform="translate(1846,825.3) scale(0.865,1)" font-size="37.91">ph</text><text transform="translate(1938.9,815.7) scale(0.790,1)" font-size="51.26">0</text><text transform="translate(1502.9,883.6) scale(0.790,1)" font-size="51.26">0</text><text transform="translate(1693.9,883.5) scale(0.848,1)" font-size="50.66" font-style="italic">g</text><text transform="translate(1838.9,883.6) scale(0.790,1)" font-size="51.26">0</text><text transform="translate(1918.1,883.3) scale(0.740,1)" font-size="51.46" font-style="italic">ω</text><text transform="translate(1945.4,893.2) scale(0.865,1)" font-size="37.91">ph</text></g>
<rect x="159.7" y="1185.4" width="886.9" height="10.7" fill="url(#h0)"/>
<rect x="159.7" y="1195.5" width="886.9" height="20.4" fill="url(#h1)"/>
<rect x="159.7" y="1215.2" width="886.9" height="20.4" fill="url(#h2)"/>
<rect x="159.7" y="1235" width="886.9" height="20.4" fill="url(#h3)"/>
<rect x="159.7" y="1254.8" width="886.9" height="20.4" fill="url(#h4)"/>
<rect x="159.7" y="1274.6" width="886.9" height="20.4" fill="url(#h5)"/>
<rect x="159.7" y="1294.3" width="886.9" height="20.4" fill="url(#h6)"/>
<rect x="159.7" y="1314.1" width="886.9" height="20.4" fill="url(#h7)"/>
<rect x="159.7" y="1333.9" width="886.9" height="20.4" fill="url(#h8)"/>
<rect x="159.7" y="1353.7" width="886.9" height="20.4" fill="url(#h9)"/>
<rect x="159.7" y="1373.4" width="886.9" height="20.4" fill="url(#h10)"/>
<rect x="159.7" y="1393.2" width="886.9" height="20.4" fill="url(#h11)"/>
<rect x="159.7" y="1413" width="886.9" height="20.4" fill="url(#h12)"/>
<rect x="159.7" y="1432.8" width="886.9" height="20.4" fill="url(#h13)"/>
<rect x="159.7" y="1452.5" width="886.9" height="20.4" fill="url(#h14)"/>
<rect x="159.7" y="1472.3" width="886.9" height="20.4" fill="url(#h15)"/>
<rect x="159.7" y="1492.1" width="886.9" height="20.4" fill="url(#h16)"/>
<rect x="159.7" y="1511.9" width="886.9" height="20.4" fill="url(#h17)"/>
<rect x="159.7" y="1531.6" width="886.9" height="20.4" fill="url(#h18)"/>
<rect x="159.7" y="1551.4" width="886.9" height="20.4" fill="url(#h19)"/>
<rect x="159.7" y="1571.2" width="886.9" height="20.4" fill="url(#h20)"/>
<rect x="159.7" y="1591" width="886.9" height="20.4" fill="url(#h21)"/>
<rect x="159.7" y="1610.7" width="886.9" height="20.4" fill="url(#h22)"/>
<rect x="159.7" y="1630.5" width="886.9" height="20.4" fill="url(#h23)"/>
<rect x="159.7" y="1650.3" width="886.9" height="20.4" fill="url(#h24)"/>
<rect x="159.7" y="1670.1" width="886.9" height="20.4" fill="url(#h25)"/>
<rect x="159.7" y="1689.8" width="886.9" height="20.4" fill="url(#h26)"/>
<rect x="159.7" y="1709.6" width="886.9" height="20.4" fill="url(#h27)"/>
<rect x="159.7" y="1729.4" width="886.9" height="20.4" fill="url(#h28)"/>
<rect x="159.7" y="1749.2" width="886.9" height="20.4" fill="url(#h29)"/>
<rect x="159.7" y="1768.9" width="886.9" height="20.4" fill="url(#h30)"/>
<rect x="159.7" y="1788.7" width="886.9" height="20.4" fill="url(#h31)"/>
<rect x="159.7" y="1808.5" width="886.9" height="20.4" fill="url(#h32)"/>
<rect x="159.7" y="1828.3" width="886.9" height="20.4" fill="url(#h33)"/>
<rect x="159.7" y="1848" width="886.9" height="20.4" fill="url(#h34)"/>
<rect x="159.7" y="1867.8" width="886.9" height="20.4" fill="url(#h35)"/>
<rect x="155.6" y="1181.1" width="895.2" height="710.8" fill="none" stroke="#000" stroke-width="2.5"/>
<rect x="158.2" y="1183.7" width="890" height="705.7" fill="none" stroke="#fff" stroke-width="2.8"/>
<line x1="177.4" y1="1156.5" x2="177.4" y2="1181" stroke="#000" stroke-width="2.8"/>
<text transform="translate(178,1136) scale(0.94,1)" font-family="'Liberation Sans', Arial, sans-serif" font-size="42.9" text-anchor="middle">12</text>
<line x1="356.4" y1="1156.5" x2="356.4" y2="1181" stroke="#000" stroke-width="2.8"/>
<text transform="translate(357,1136) scale(0.94,1)" font-family="'Liberation Sans', Arial, sans-serif" font-size="42.9" text-anchor="middle">13</text>
<line x1="535.4" y1="1156.5" x2="535.4" y2="1181" stroke="#000" stroke-width="2.8"/>
<text transform="translate(536,1136) scale(0.94,1)" font-family="'Liberation Sans', Arial, sans-serif" font-size="42.9" text-anchor="middle">14</text>
<line x1="714.4" y1="1156.5" x2="714.4" y2="1181" stroke="#000" stroke-width="2.8"/>
<text transform="translate(715,1136) scale(0.94,1)" font-family="'Liberation Sans', Arial, sans-serif" font-size="42.9" text-anchor="middle">15</text>
<line x1="893.4" y1="1156.5" x2="893.4" y2="1181" stroke="#000" stroke-width="2.8"/>
<text transform="translate(894,1136) scale(0.94,1)" font-family="'Liberation Sans', Arial, sans-serif" font-size="42.9" text-anchor="middle">16</text>
<line x1="206.3" y1="1891" x2="206.3" y2="1916" stroke="#000" stroke-width="2.8"/>
<text transform="translate(206.9,1966.3) scale(0.94,1)" font-family="'Liberation Sans', Arial, sans-serif" font-size="42.9" text-anchor="middle">100</text>
<line x1="440.5" y1="1891" x2="440.5" y2="1916" stroke="#000" stroke-width="2.8"/>
<text transform="translate(441.1,1966.3) scale(0.94,1)" font-family="'Liberation Sans', Arial, sans-serif" font-size="42.9" text-anchor="middle">110</text>
<line x1="673.6" y1="1891" x2="673.6" y2="1916" stroke="#000" stroke-width="2.8"/>
<text transform="translate(674.2,1966.3) scale(0.94,1)" font-family="'Liberation Sans', Arial, sans-serif" font-size="42.9" text-anchor="middle">120</text>
<line x1="907.2" y1="1891" x2="907.2" y2="1916" stroke="#000" stroke-width="2.8"/>
<text transform="translate(907.8,1966.3) scale(0.94,1)" font-family="'Liberation Sans', Arial, sans-serif" font-size="42.9" text-anchor="middle">130</text>
<line x1="131.5" y1="1283.8" x2="156" y2="1283.8" stroke="#000" stroke-width="2.8"/>
<text transform="translate(120.2,1298.3) scale(0.94,1)" font-family="'Liberation Sans', Arial, sans-serif" font-size="42.9" text-anchor="end">15</text>
<line x1="131.5" y1="1481.8" x2="156" y2="1481.8" stroke="#000" stroke-width="2.8"/>
<text transform="translate(120.2,1496.3) scale(0.94,1)" font-family="'Liberation Sans', Arial, sans-serif" font-size="42.9" text-anchor="end">10</text>
<line x1="131.5" y1="1679.8" x2="156" y2="1679.8" stroke="#000" stroke-width="2.8"/>
<text transform="translate(120.2,1694.3) scale(0.94,1)" font-family="'Liberation Sans', Arial, sans-serif" font-size="42.9" text-anchor="end">5</text>
<line x1="131.5" y1="1877.7" x2="156" y2="1877.7" stroke="#000" stroke-width="2.8"/>
<text transform="translate(120.2,1892.2) scale(0.94,1)" font-family="'Liberation Sans', Arial, sans-serif" font-size="42.9" text-anchor="end">0</text>
<text transform="translate(17.8,1056.3) scale(1.049,1)" font-family="'Liberation Sans', Arial, sans-serif" font-size="53.61" font-weight="bold">b</text>
<text transform="translate(459.5,1076.4) scale(0.983,1)" font-family="'Liberation Sans', Arial, sans-serif" font-size="47.70">Energy (meV)</text>
<text transform="translate(34.9,1532.7) rotate(-90) scale(0.966,1)" font-family="'Liberation Sans', Arial, sans-serif" font-size="48.7" text-anchor="middle">Magnetic Field (T)</text>
<text transform="translate(426.8,2048.1) scale(0.972,1)" font-family="'Liberation Sans', Arial, sans-serif" font-size="48.02">Frequency (cm</text><text transform="translate(737,2015.9) scale(0.947,1)" font-family="'Liberation Sans', Arial, sans-serif" font-size="31.16">-1</text><text transform="translate(767.8,2048.3) scale(0.813,1)" font-family="'Liberation Sans', Arial, sans-serif" font-size="47.81">)</text>
<text transform="translate(310.6,1642) scale(0.925,1)" font-family="'Liberation Sans', Arial, sans-serif" font-size="48.26" fill="#fff">MP1</text>
<text transform="translate(438.2,1518.8) scale(0.988,1)" font-family="'Liberation Sans', Arial, sans-serif" font-size="47.86" fill="#fff">MP2</text>
<text transform="translate(609.8,1521.5) scale(0.987,1)" font-family="'Liberation Sans', Arial, sans-serif" font-size="47.61" fill="#fff">MP3</text>
<text transform="translate(736.2,1794) scale(0.979,1)" font-family="'Liberation Sans', Arial, sans-serif" font-size="48.12" fill="#fff">MP4</text>
<line x1="389.4" y1="1666.5" x2="430.7" y2="1675.1" stroke="#fff" stroke-width="5"/><path d="M442.4,1677.5 L427.5,1680.5 L429.9,1668.8 Z" fill="#fff"/>
<line x1="517" y1="1550" x2="544.6" y2="1586.9" stroke="#fff" stroke-width="5"/><path d="M551.8,1596.5 L538.6,1588.9 L548.2,1581.7 Z" fill="#fff"/>
<line x1="653.6" y1="1556" x2="627.6" y2="1584.7" stroke="#fff" stroke-width="5"/><path d="M619.5,1593.6 L624.5,1579.2 L633.3,1587.3 Z" fill="#fff"/>
<line x1="738.8" y1="1796.3" x2="708.5" y2="1813.4" stroke="#fff" stroke-width="5"/><path d="M698,1819.3 L707.2,1807.2 L713.1,1817.7 Z" fill="#fff"/>
<rect x="912.2" y="1646" width="119.1" height="201" fill="#fff"/>
<rect x="916.7" y="1650.8" width="110.5" height="191.6" fill="#fff" stroke="#000" stroke-width="2.4"/>
<rect x="930.4" y="1676.4" width="24.1" height="140.6" fill="url(#cbar)" stroke="#000" stroke-width="2.4"/>
<line x1="954" y1="1701.4" x2="959.8" y2="1701.4" stroke="#000" stroke-width="3"/>
<line x1="954" y1="1746.1" x2="959.8" y2="1746.1" stroke="#000" stroke-width="3"/>
<line x1="954" y1="1791.2" x2="959.8" y2="1791.2" stroke="#000" stroke-width="3"/>
<text x="960.4" y="1712.6" font-family="'Liberation Sans', Arial, sans-serif" font-size="32.68">0.8</text>
<text transform="translate(960.4,1757.4) scale(1.011,1)" font-family="'Liberation Sans', Arial, sans-serif" font-size="32.54">0.6</text>
<text x="960.4" y="1802.3" font-family="'Liberation Sans', Arial, sans-serif" font-size="32.39">0.4</text>
<path d="M1158,1196 C1173.3,1225.2 1222.3,1320.3 1250,1371 C1277.7,1421.7 1299.6,1454.7 1324,1500 C1348.4,1545.3 1377.4,1602.8 1396.5,1643 C1415.6,1683.2 1427.7,1715 1438.4,1741 C1449.1,1767 1455.2,1782.8 1460.8,1799 C1466.4,1815.1 1469.3,1825 1472,1837.8 C1474.7,1850.7 1476.2,1869.6 1477,1876" stroke="#FFA500" stroke-width="4.6" fill="none"/>
<path d="M1477,1876 C1477.3,1872.9 1478,1863.6 1479,1857.3 C1480,1850.9 1481.3,1847.6 1483,1837.8 C1484.7,1828.1 1487.7,1811.9 1489.4,1799 C1491.2,1786 1492.3,1773.1 1493.5,1760.1 C1494.7,1747.2 1495.5,1740.7 1496.5,1721.3 C1497.5,1701.8 1498.6,1669.4 1499.6,1643.5 C1500.6,1617.6 1501.7,1591.7 1502.5,1565.8 C1503.3,1539.9 1504,1514 1504.5,1488.1 C1505,1462.2 1505.2,1459.1 1505.5,1410.4 C1505.8,1361.7 1506.3,1231.7 1506.5,1196" stroke="#FFA500" stroke-width="4.6" fill="none"/>
<path d="M1581.2,1876 C1579.3,1869.6 1573.4,1850.7 1570,1837.8 C1566.6,1825 1564,1815.2 1560.8,1799 C1557.6,1782.8 1554.3,1766.6 1550.6,1740.7 C1546.9,1714.8 1541.8,1683.4 1538.4,1643.5 C1535,1603.7 1531.9,1540.6 1530.2,1501.7 C1528.5,1462.8 1528.9,1461.3 1528,1410.4 C1527.1,1359.4 1525.5,1231.7 1525,1196" stroke="#FFA500" stroke-width="4.6" fill="none"/>
<path d="M1581.2,1876 C1583,1871.7 1588,1860.2 1592,1850 C1596,1839.8 1600.2,1827.7 1605,1815 C1609.8,1802.3 1615.2,1787.4 1621,1774 C1626.8,1760.6 1626.6,1760.3 1640,1734.7 C1653.4,1709.1 1678.5,1662.9 1701.2,1620.4 C1723.9,1578 1738.5,1550.7 1776.3,1480 C1814.1,1409.3 1903,1243.3 1928.3,1196" stroke="#FFA500" stroke-width="4.6" fill="none"/>
<g fill="none" stroke="#0033CC" stroke-width="5"><circle cx="1159.8" cy="1196.7" r="10.8"/><circle cx="1169.5" cy="1216.1" r="10.8"/><circle cx="1180.5" cy="1235.5" r="10.8"/><circle cx="1190.9" cy="1254.9" r="10.8"/><circle cx="1201.5" cy="1274.4" r="10.8"/><circle cx="1212" cy="1293.8" r="10.8"/><circle cx="1221.5" cy="1313.2" r="10.8"/><circle cx="1232" cy="1332.7" r="10.8"/><circle cx="1241" cy="1352.1" r="10.8"/><circle cx="1249.8" cy="1371.5" r="10.8"/><circle cx="1341" cy="1527" r="10.8"/><circle cx="1349.6" cy="1546.4" r="10.8"/><circle cx="1355.7" cy="1565.8" r="10.8"/><circle cx="1368" cy="1585.2" r="10.8"/><circle cx="1378.2" cy="1604.7" r="10.8"/><circle cx="1386.3" cy="1624.1" r="10.8"/><circle cx="1395.9" cy="1643.5" r="10.8"/><circle cx="1403.7" cy="1663" r="10.8"/><circle cx="1411.4" cy="1682.4" r="10.8"/><circle cx="1419.6" cy="1701.8" r="10.8"/><circle cx="1421.4" cy="1721.3" r="10.8"/><circle cx="1438" cy="1740.7" r="10.8"/><circle cx="1443.5" cy="1760.1" r="10.8"/><circle cx="1449" cy="1779.5" r="10.8"/><circle cx="1459" cy="1799" r="10.8"/><circle cx="1464.5" cy="1818.4" r="10.8"/><circle cx="1468" cy="1837.8" r="10.8"/><circle cx="1471" cy="1857.3" r="10.8"/><circle cx="1476.7" cy="1876.7" r="10.8"/><circle cx="1504.8" cy="1196.7" r="10.8"/><circle cx="1504.5" cy="1216.1" r="10.8"/><circle cx="1504.5" cy="1235.5" r="10.8"/><circle cx="1504.8" cy="1254.9" r="10.8"/><circle cx="1504.8" cy="1274.4" r="10.8"/><circle cx="1505" cy="1293.8" r="10.8"/><circle cx="1505.3" cy="1313.2" r="10.8"/><circle cx="1505.5" cy="1332.7" r="10.8"/><circle cx="1505.8" cy="1352.1" r="10.8"/><circle cx="1506" cy="1371.5" r="10.8"/><circle cx="1506" cy="1391" r="10.8"/><circle cx="1505.7" cy="1410.4" r="10.8"/><circle cx="1505.7" cy="1429.8" r="10.8"/><circle cx="1505.7" cy="1449.2" r="10.8"/><circle cx="1505.7" cy="1468.7" r="10.8"/><circle cx="1505.3" cy="1488.1" r="10.8"/><circle cx="1506" cy="1507.5" r="10.8"/><circle cx="1505.7" cy="1527" r="10.8"/><circle cx="1505.7" cy="1546.4" r="10.8"/><circle cx="1505.3" cy="1565.8" r="10.8"/><circle cx="1504.7" cy="1585.2" r="10.8"/><circle cx="1504.7" cy="1604.7" r="10.8"/><circle cx="1504.7" cy="1624.1" r="10.8"/><circle cx="1503.7" cy="1643.5" r="10.8"/><circle cx="1503.3" cy="1663" r="10.8"/><circle cx="1502.7" cy="1682.4" r="10.8"/><circle cx="1499.2" cy="1701.8" r="10.8"/><circle cx="1499.2" cy="1721.3" r="10.8"/><circle cx="1499.2" cy="1740.7" r="10.8"/><circle cx="1497.6" cy="1760.1" r="10.8"/><circle cx="1494.5" cy="1779.5" r="10.8"/><circle cx="1489.4" cy="1799" r="10.8"/><circle cx="1485.3" cy="1818.4" r="10.8"/><circle cx="1482.2" cy="1837.8" r="10.8"/><circle cx="1481.2" cy="1857.3" r="10.8"/><circle cx="1523.7" cy="1196.7" r="10.8"/><circle cx="1523.7" cy="1216.1" r="10.8"/><circle cx="1524.2" cy="1235.5" r="10.8"/><circle cx="1524.7" cy="1254.9" r="10.8"/><circle cx="1525.5" cy="1274.4" r="10.8"/><circle cx="1525.9" cy="1293.8" r="10.8"/><circle cx="1526.4" cy="1313.2" r="10.8"/><circle cx="1526.7" cy="1332.7" r="10.8"/><circle cx="1527.2" cy="1352.1" r="10.8"/><circle cx="1527.7" cy="1371.5" r="10.8"/><circle cx="1528" cy="1391" r="10.8"/><circle cx="1528.7" cy="1410.4" r="10.8"/><circle cx="1529.2" cy="1429.8" r="10.8"/><circle cx="1529.7" cy="1449.2" r="10.8"/><circle cx="1530.4" cy="1468.7" r="10.8"/><circle cx="1530.9" cy="1488.1" r="10.8"/><circle cx="1532.2" cy="1507.5" r="10.8"/><circle cx="1533.3" cy="1527" r="10.8"/><circle cx="1533.9" cy="1546.4" r="10.8"/><circle cx="1534.3" cy="1565.8" r="10.8"/><circle cx="1535.3" cy="1585.2" r="10.8"/><circle cx="1537.3" cy="1604.7" r="10.8"/><circle cx="1538.4" cy="1624.1" r="10.8"/><circle cx="1540.4" cy="1643.5" r="10.8"/><circle cx="1542" cy="1663" r="10.8"/><circle cx="1544" cy="1682.4" r="10.8"/><circle cx="1546.1" cy="1701.8" r="10.8"/><circle cx="1548.2" cy="1721.3" r="10.8"/><circle cx="1549.6" cy="1740.7" r="10.8"/><circle cx="1551" cy="1760.1" r="10.8"/><circle cx="1556.3" cy="1779.5" r="10.8"/><circle cx="1558.8" cy="1799" r="10.8"/><circle cx="1561.8" cy="1818.4" r="10.8"/><circle cx="1570.6" cy="1837.8" r="10.8"/><circle cx="1572.4" cy="1857.3" r="10.8"/><circle cx="1577.6" cy="1876.7" r="10.8"/><circle cx="1598.6" cy="1876.7" r="10.8"/><circle cx="1600.6" cy="1857.3" r="10.8"/><circle cx="1602.7" cy="1837.8" r="10.8"/><circle cx="1603.7" cy="1818.4" r="10.8"/><circle cx="1616" cy="1799" r="10.8"/><circle cx="1620" cy="1779.5" r="10.8"/><circle cx="1740" cy="1196.7" r="10.8"/><circle cx="1739.3" cy="1216.1" r="10.8"/><circle cx="1739.2" cy="1235.5" r="10.8"/><circle cx="1738.8" cy="1254.9" r="10.8"/><circle cx="1738.5" cy="1274.4" r="10.8"/><circle cx="1738.5" cy="1293.8" r="10.8"/><circle cx="1737.7" cy="1313.2" r="10.8"/><circle cx="1737.7" cy="1332.7" r="10.8"/><circle cx="1738" cy="1352.1" r="10.8"/><circle cx="1737.2" cy="1371.5" r="10.8"/><circle cx="1735.5" cy="1391" r="10.8"/><circle cx="1735.1" cy="1410.4" r="10.8"/><circle cx="1734.6" cy="1429.8" r="10.8"/><circle cx="1732.9" cy="1449.2" r="10.8"/><circle cx="1732.1" cy="1468.7" r="10.8"/><circle cx="1727.8" cy="1488.1" r="10.8"/><circle cx="1725.7" cy="1507.5" r="10.8"/><circle cx="1721.9" cy="1527" r="10.8"/><circle cx="1717.8" cy="1546.4" r="10.8"/><circle cx="1714.2" cy="1565.8" r="10.8"/><circle cx="1709.7" cy="1585.2" r="10.8"/><circle cx="1701.2" cy="1604.7" r="10.8"/><circle cx="1807.4" cy="1254.9" r="10.8"/><circle cx="1806.2" cy="1274.4" r="10.8"/><circle cx="1806.2" cy="1293.8" r="10.8"/><circle cx="1804.5" cy="1313.2" r="10.8"/><circle cx="1804.5" cy="1332.7" r="10.8"/><circle cx="1804.2" cy="1352.1" r="10.8"/><circle cx="1804.5" cy="1371.5" r="10.8"/><circle cx="1804.5" cy="1391" r="10.8"/><circle cx="1802.8" cy="1410.4" r="10.8"/><circle cx="1802" cy="1429.8" r="10.8"/><circle cx="1799.8" cy="1449.2" r="10.8"/><circle cx="1794.4" cy="1468.7" r="10.8"/><circle cx="1792" cy="1488.1" r="10.8"/><circle cx="1786.9" cy="1507.5" r="10.8"/><circle cx="1781.2" cy="1527" r="10.8"/><circle cx="1777.4" cy="1546.4" r="10.8"/><circle cx="1773.8" cy="1565.8" r="10.8"/><circle cx="1770.6" cy="1585.2" r="10.8"/><circle cx="1767.6" cy="1604.7" r="10.8"/><circle cx="1762.1" cy="1624.1" r="10.8"/><circle cx="1888.7" cy="1313.2" r="10.8"/><circle cx="1881.5" cy="1332.7" r="10.8"/><circle cx="1871.9" cy="1352.1" r="10.8"/><circle cx="1859.2" cy="1371.5" r="10.8"/><circle cx="1851.2" cy="1391" r="10.8"/><circle cx="1841.6" cy="1410.4" r="10.8"/><circle cx="1834.5" cy="1429.8" r="10.8"/><circle cx="1826.7" cy="1449.2" r="10.8"/><circle cx="1821.4" cy="1468.7" r="10.8"/><circle cx="1817" cy="1488.1" r="10.8"/><circle cx="1814.1" cy="1507.5" r="10.8"/><circle cx="1812.2" cy="1527" r="10.8"/><circle cx="1812.2" cy="1546.4" r="10.8"/><circle cx="1810.5" cy="1565.8" r="10.8"/><circle cx="1810.5" cy="1585.2" r="10.8"/><circle cx="1810.5" cy="1604.7" r="10.8"/><circle cx="1810.5" cy="1624.1" r="10.8"/><circle cx="1810.5" cy="1643.5" r="10.8"/><circle cx="1810.5" cy="1663" r="10.8"/><circle cx="1947.7" cy="1196.7" r="10.8"/><circle cx="1944" cy="1216.1" r="10.8"/><circle cx="1938.4" cy="1235.5" r="10.8"/></g>
<rect x="1105.5" y="1180.7" width="889" height="711.1" fill="none" stroke="#000" stroke-width="2.5"/>
<line x1="1138" y1="1156.5" x2="1138" y2="1181" stroke="#000" stroke-width="2.8"/>
<text transform="translate(1138.6,1135.5) scale(0.94,1)" font-family="'Liberation Sans', Arial, sans-serif" font-size="42.9" text-anchor="middle">12</text>
<line x1="1311.3" y1="1156.5" x2="1311.3" y2="1181" stroke="#000" stroke-width="2.8"/>
<text transform="translate(1311.9,1135.5) scale(0.94,1)" font-family="'Liberation Sans', Arial, sans-serif" font-size="42.9" text-anchor="middle">13</text>
<line x1="1484.6" y1="1156.5" x2="1484.6" y2="1181" stroke="#000" stroke-width="2.8"/>
<text transform="translate(1485.2,1135.5) scale(0.94,1)" font-family="'Liberation Sans', Arial, sans-serif" font-size="42.9" text-anchor="middle">14</text>
<line x1="1657.8" y1="1156.5" x2="1657.8" y2="1181" stroke="#000" stroke-width="2.8"/>
<text transform="translate(1658.4,1135.5) scale(0.94,1)" font-family="'Liberation Sans', Arial, sans-serif" font-size="42.9" text-anchor="middle">15</text>
<line x1="1831" y1="1156.5" x2="1831" y2="1181" stroke="#000" stroke-width="2.8"/>
<text transform="translate(1831.6,1135.5) scale(0.94,1)" font-family="'Liberation Sans', Arial, sans-serif" font-size="42.9" text-anchor="middle">16</text>
<line x1="1165.5" y1="1891" x2="1165.5" y2="1916" stroke="#000" stroke-width="2.8"/>
<text transform="translate(1166.1,1966) scale(0.94,1)" font-family="'Liberation Sans', Arial, sans-serif" font-size="42.9" text-anchor="middle">100</text>
<line x1="1392" y1="1891" x2="1392" y2="1916" stroke="#000" stroke-width="2.8"/>
<text transform="translate(1392.6,1966) scale(0.94,1)" font-family="'Liberation Sans', Arial, sans-serif" font-size="42.9" text-anchor="middle">110</text>
<line x1="1619.6" y1="1891" x2="1619.6" y2="1916" stroke="#000" stroke-width="2.8"/>
<text transform="translate(1620.2,1966) scale(0.94,1)" font-family="'Liberation Sans', Arial, sans-serif" font-size="42.9" text-anchor="middle">120</text>
<line x1="1845.1" y1="1891" x2="1845.1" y2="1916" stroke="#000" stroke-width="2.8"/>
<text transform="translate(1845.7,1966) scale(0.94,1)" font-family="'Liberation Sans', Arial, sans-serif" font-size="42.9" text-anchor="middle">130</text>
<line x1="1105.5" y1="1293.8" x2="1130" y2="1293.8" stroke="#000" stroke-width="2.8"/>
<line x1="1105.5" y1="1488.1" x2="1130" y2="1488.1" stroke="#000" stroke-width="2.8"/>
<line x1="1105.5" y1="1682.4" x2="1130" y2="1682.4" stroke="#000" stroke-width="2.8"/>
<line x1="1105.5" y1="1876.7" x2="1130" y2="1876.7" stroke="#000" stroke-width="2.8"/>
<text transform="translate(1056.9,1054.9) scale(0.967,1)" font-family="'Liberation Sans', Arial, sans-serif" font-size="55.45" font-weight="bold">c</text>
<text transform="translate(1406.7,1076.4) scale(0.983,1)" font-family="'Liberation Sans', Arial, sans-serif" font-size="47.70">Energy (meV)</text>
<text transform="translate(1373.7,2048.1) scale(0.972,1)" font-family="'Liberation Sans', Arial, sans-serif" font-size="48.02">Frequency (cm</text><text transform="translate(1683.9,2015.9) scale(0.947,1)" font-family="'Liberation Sans', Arial, sans-serif" font-size="31.16">-1</text><text transform="translate(1714.7,2048.3) scale(0.813,1)" font-family="'Liberation Sans', Arial, sans-serif" font-size="47.81">)</text>
<text transform="translate(1392.7,1529.7) scale(0.975,1)" font-family="'Liberation Sans', Arial, sans-serif" font-size="48.14">MP2</text>
<text transform="translate(1591.5,1529.5) scale(0.964,1)" font-family="'Liberation Sans', Arial, sans-serif" font-size="48.45">MP3</text>
<text transform="translate(1280.3,1652.2) scale(0.958,1)" font-family="'Liberation Sans', Arial, sans-serif" font-size="48.12">MP1</text>
<text transform="translate(1678.7,1771.3) scale(0.970,1)" font-family="'Liberation Sans', Arial, sans-serif" font-size="48.41">MP4</text>
<line x1="1449" y1="1557" x2="1475" y2="1576.3" stroke="#000" stroke-width="5"/><path d="M1485,1583.7 L1469.5,1580.3 L1477.2,1569.8 Z" fill="#000"/>
<line x1="1602.2" y1="1568.4" x2="1568.4" y2="1593.5" stroke="#000" stroke-width="5"/><path d="M1558.4,1601 L1566.2,1587.1 L1573.9,1597.6 Z" fill="#000"/>
<line x1="1357.8" y1="1669.4" x2="1383.2" y2="1689.3" stroke="#000" stroke-width="5"/><path d="M1393,1697 L1377.6,1693.2 L1385.6,1682.9 Z" fill="#000"/>
<line x1="1688" y1="1766.4" x2="1655.6" y2="1786.1" stroke="#000" stroke-width="5"/><path d="M1644.9,1792.6 L1653.9,1779.5 L1660.7,1790.6 Z" fill="#000"/>
</svg>
</body></html>
